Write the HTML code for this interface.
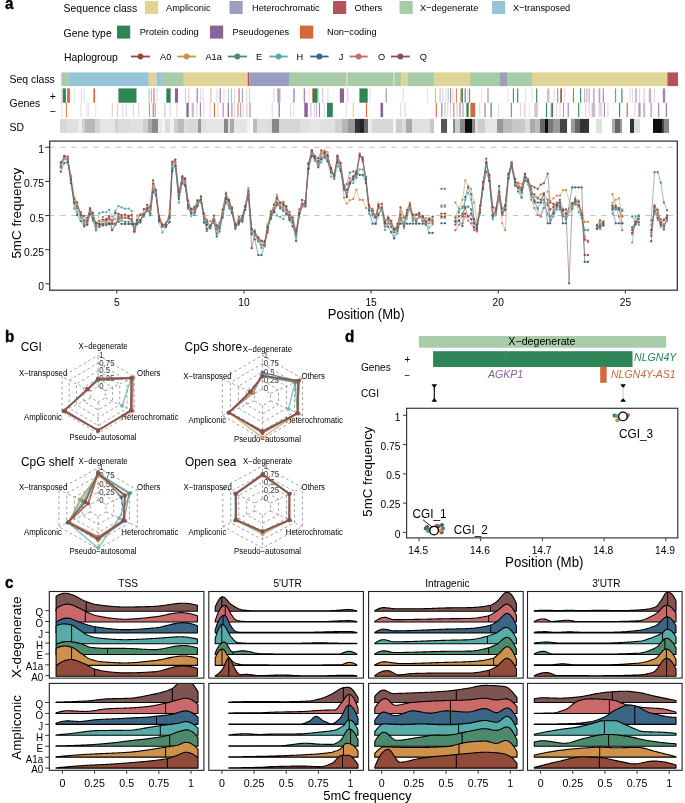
<!DOCTYPE html>
<html><head><meta charset="utf-8"><style>
html,body{margin:0;padding:0;background:#fff;}
body{width:685px;height:803px;overflow:hidden;}
svg{display:block;font-family:"Liberation Sans", sans-serif;}
</style></head><body>
<svg width="685" height="803" viewBox="0 0 685 803">
<defs><filter id="soft" x="0" y="0" width="1" height="1"><feGaussianBlur stdDeviation="0.3"/></filter></defs>
<g filter="url(#soft)"><rect x="0" y="0" width="685" height="803" fill="#fff"/>
<text transform="translate(5,9) scale(0.9658119658119658,1)" font-size="15.68" font-weight="bold" stroke="#000" stroke-width="0.4">a</text>
<text transform="translate(63.6,12.3) scale(0.9401709401709403,1)" font-size="11.11">Sequence class</text>
<rect x="145" y="1" width="13.2" height="13" fill="#e0d597"/>
<text transform="translate(166,10.9) scale(0.9401709401709403,1)" font-size="9.83">Ampliconic</text>
<rect x="229.5" y="1" width="13.2" height="13" fill="#9c9ec1"/>
<text transform="translate(252,10.9) scale(0.9401709401709403,1)" font-size="9.83">Heterochromatic</text>
<rect x="333" y="1" width="13.2" height="13" fill="#b3535c"/>
<text transform="translate(354.5,10.9) scale(0.9401709401709403,1)" font-size="9.83">Others</text>
<rect x="399.5" y="1" width="13.2" height="13" fill="#a8cba8"/>
<text transform="translate(420,10.9) scale(0.9401709401709403,1)" font-size="9.83">X−degenerate</text>
<rect x="492" y="1" width="13.2" height="13" fill="#97c5d8"/>
<text transform="translate(513,10.9) scale(0.9401709401709403,1)" font-size="9.83">X−transposed</text>
<text transform="translate(63.6,37) scale(0.9401709401709403,1)" font-size="11.11">Gene type</text>
<rect x="117" y="25.6" width="13.2" height="13" fill="#2e8656"/>
<text transform="translate(139.7,35.2) scale(0.9401709401709403,1)" font-size="9.83">Protein coding</text>
<rect x="210" y="25.6" width="13.2" height="13" fill="#8c6297"/>
<text transform="translate(232.6,35.2) scale(0.9401709401709403,1)" font-size="9.83">Pseudogenes</text>
<rect x="300" y="25.6" width="13.2" height="13" fill="#d2683a"/>
<text transform="translate(327,35.2) scale(0.9401709401709403,1)" font-size="9.83">Non−coding</text>
<text transform="translate(64,61) scale(0.9401709401709403,1)" font-size="11.11">Haplogroup</text>
<line x1="131" y1="56.5" x2="150" y2="56.5" stroke="#924b3b" stroke-width="1.8"/>
<circle cx="140.5" cy="56.5" r="2.9" fill="#924b3b"/>
<text transform="translate(160,59.6) scale(0.9401709401709403,1)" font-size="9.83">A0</text>
<line x1="177.4" y1="56.5" x2="195.8" y2="56.5" stroke="#ce914e" stroke-width="1.8"/>
<circle cx="186.6" cy="56.5" r="2.9" fill="#ce914e"/>
<text transform="translate(205.4,59.6) scale(0.9401709401709403,1)" font-size="9.83">A1a</text>
<line x1="227.8" y1="56.5" x2="247" y2="56.5" stroke="#4d8a6d" stroke-width="1.8"/>
<circle cx="237.4" cy="56.5" r="2.9" fill="#4d8a6d"/>
<text transform="translate(256,59.6) scale(0.9401709401709403,1)" font-size="9.83">E</text>
<line x1="269.4" y1="56.5" x2="287.8" y2="56.5" stroke="#58aca8" stroke-width="1.8"/>
<circle cx="278.6" cy="56.5" r="2.9" fill="#58aca8"/>
<text transform="translate(296.5,59.6) scale(0.9401709401709403,1)" font-size="9.83">H</text>
<line x1="310.2" y1="56.5" x2="328.6" y2="56.5" stroke="#3a6584" stroke-width="1.8"/>
<circle cx="319.4" cy="56.5" r="2.9" fill="#3a6584"/>
<text transform="translate(338.8,59.6) scale(0.9401709401709403,1)" font-size="9.83">J</text>
<line x1="349.6" y1="56.5" x2="367.7" y2="56.5" stroke="#c9696b" stroke-width="1.8"/>
<circle cx="358.65" cy="56.5" r="2.9" fill="#c9696b"/>
<text transform="translate(378,59.6) scale(0.9401709401709403,1)" font-size="9.83">O</text>
<line x1="391" y1="56.5" x2="409.8" y2="56.5" stroke="#7b5453" stroke-width="1.8"/>
<circle cx="400.4" cy="56.5" r="2.9" fill="#7b5453"/>
<text transform="translate(419.7,59.6) scale(0.9401709401709403,1)" font-size="9.83">Q</text>
<text transform="translate(9.6,82.8) scale(0.9401709401709403,1)" font-size="11.11">Seq class</text>
<text transform="translate(9.6,107.2) scale(0.9401709401709403,1)" font-size="11.11">Genes</text>
<text transform="translate(49.8,100.2) scale(0.9401709401709403,1)" font-size="11.11">+</text>
<text transform="translate(49.7,114.5) scale(0.9401709401709403,1)" font-size="11.11">−</text>
<text transform="translate(9.6,130.7) scale(0.9401709401709403,1)" font-size="11.11">SD</text>
<rect x="61.3" y="72.4" width="7.05" height="13.7" fill="#a8cba8"/>
<rect x="68.3" y="72.4" width="80.55" height="13.7" fill="#97c5d8"/>
<rect x="148.8" y="72.4" width="7.85" height="13.7" fill="#e0d597"/>
<rect x="156.6" y="72.4" width="5.35" height="13.7" fill="#97c5d8"/>
<rect x="161.9" y="72.4" width="21.95" height="13.7" fill="#a8cba8"/>
<rect x="183.8" y="72.4" width="63.95" height="13.7" fill="#e0d597"/>
<rect x="247.7" y="72.4" width="1.85" height="13.7" fill="#b3535c"/>
<rect x="249.5" y="72.4" width="39.55" height="13.7" fill="#9c9ec1"/>
<rect x="289" y="72.4" width="57.25" height="13.7" fill="#a8cba8"/>
<rect x="346.2" y="72.4" width="1.35" height="13.7" fill="#e0d597"/>
<rect x="347.5" y="72.4" width="46.05" height="13.7" fill="#a8cba8"/>
<rect x="393.5" y="72.4" width="1.05" height="13.7" fill="#e0d597"/>
<rect x="394.5" y="72.4" width="6.75" height="13.7" fill="#a8cba8"/>
<rect x="401.2" y="72.4" width="6.55" height="13.7" fill="#e0d597"/>
<rect x="407.7" y="72.4" width="26.45" height="13.7" fill="#a8cba8"/>
<rect x="434.1" y="72.4" width="36.05" height="13.7" fill="#e0d597"/>
<rect x="470.1" y="72.4" width="29.95" height="13.7" fill="#a8cba8"/>
<rect x="500" y="72.4" width="7.05" height="13.7" fill="#9c9ec1"/>
<rect x="507" y="72.4" width="25.05" height="13.7" fill="#a8cba8"/>
<rect x="532" y="72.4" width="135.45" height="13.7" fill="#e0d597"/>
<rect x="667.4" y="72.4" width="10.65" height="13.7" fill="#b3535c"/>
<rect x="60.95" y="88.4" width="1.1" height="14.3" fill="#d2683a" fill-opacity="0.26"/>
<rect x="62.7" y="88.4" width="3.2" height="14.3" fill="#2e8656"/>
<rect x="67.1" y="88.4" width="2.8" height="14.3" fill="#d2683a"/>
<rect x="74.05" y="88.4" width="1.1" height="14.3" fill="#8c6297" fill-opacity="0.2"/>
<rect x="81.15" y="88.4" width="1.1" height="14.3" fill="#2e8656" fill-opacity="0.26"/>
<rect x="83.75" y="88.4" width="1.1" height="14.3" fill="#8c6297" fill-opacity="0.2"/>
<rect x="93.4" y="88.4" width="1.6" height="14.3" fill="#d2683a"/>
<rect x="118.4" y="88.4" width="18.1" height="14.3" fill="#2e8656"/>
<rect x="148.55" y="88.4" width="1.1" height="14.3" fill="#2e8656" fill-opacity="0.39"/>
<rect x="150.9" y="88.4" width="0.8" height="14.3" fill="#8c6297" fill-opacity="0.65"/>
<rect x="153.1" y="88.4" width="1.6" height="14.3" fill="#d2683a" fill-opacity="0.65"/>
<rect x="156.45" y="88.4" width="1.1" height="14.3" fill="#8c6297" fill-opacity="0.2"/>
<rect x="166.3" y="88.4" width="4.3" height="14.3" fill="#2e8656"/>
<rect x="175" y="88.4" width="3" height="14.3" fill="#8c6297"/>
<rect x="184.95" y="88.4" width="1.1" height="14.3" fill="#8c6297" fill-opacity="0.33"/>
<rect x="188.15" y="88.4" width="1.1" height="14.3" fill="#d2683a" fill-opacity="0.39"/>
<rect x="196.65" y="88.4" width="1.1" height="14.3" fill="#8c6297" fill-opacity="0.91"/>
<rect x="199.85" y="88.4" width="1.1" height="14.3" fill="#8c6297" fill-opacity="0.26"/>
<rect x="202.45" y="88.4" width="1.1" height="14.3" fill="#8c6297" fill-opacity="0.26"/>
<rect x="210" y="88.4" width="1.8" height="14.3" fill="#d2683a" fill-opacity="0.33"/>
<rect x="216.45" y="88.4" width="1.1" height="14.3" fill="#8c6297" fill-opacity="0.26"/>
<rect x="219.65" y="88.4" width="1.1" height="14.3" fill="#8c6297" fill-opacity="0.91"/>
<rect x="223.45" y="88.4" width="1.1" height="14.3" fill="#d2683a" fill-opacity="0.26"/>
<rect x="227.85" y="88.4" width="1.1" height="14.3" fill="#2e8656" fill-opacity="0.39"/>
<rect x="230.85" y="88.4" width="1.1" height="14.3" fill="#2e8656" fill-opacity="0.45"/>
<rect x="234.05" y="88.4" width="1.1" height="14.3" fill="#8c6297" fill-opacity="0.26"/>
<rect x="238.4" y="88.4" width="1.4" height="14.3" fill="#d2683a" fill-opacity="0.78"/>
<rect x="241.85" y="88.4" width="1.1" height="14.3" fill="#8c6297" fill-opacity="0.65"/>
<rect x="245.95" y="88.4" width="1.1" height="14.3" fill="#8c6297" fill-opacity="0.26"/>
<rect x="248.95" y="88.4" width="1.1" height="14.3" fill="#d2683a" fill-opacity="0.39"/>
<rect x="273.45" y="88.4" width="1.1" height="14.3" fill="#8c6297" fill-opacity="0.26"/>
<rect x="277.5" y="88.4" width="1.2" height="14.3" fill="#8c6297" fill-opacity="0.91"/>
<rect x="279.25" y="88.4" width="1.1" height="14.3" fill="#8c6297" fill-opacity="0.78"/>
<rect x="293.45" y="88.4" width="1.1" height="14.3" fill="#8c6297"/>
<rect x="302.85" y="88.4" width="1.1" height="14.3" fill="#d2683a" fill-opacity="0.26"/>
<rect x="304.05" y="88.4" width="1.1" height="14.3" fill="#8c6297" fill-opacity="0.78"/>
<rect x="308.65" y="88.4" width="1.1" height="14.3" fill="#8c6297" fill-opacity="0.2"/>
<rect x="312.1" y="88.4" width="0.8" height="14.3" fill="#d2683a"/>
<rect x="313" y="88.4" width="4.4" height="14.3" fill="#2e8656"/>
<rect x="317.45" y="88.4" width="1.1" height="14.3" fill="#2e8656" fill-opacity="0.52"/>
<rect x="322.15" y="88.4" width="1.1" height="14.3" fill="#8c6297" fill-opacity="0.39"/>
<rect x="327.35" y="88.4" width="1.1" height="14.3" fill="#8c6297" fill-opacity="0.2"/>
<rect x="339.8" y="88.4" width="4.2" height="14.3" fill="#8c6297"/>
<rect x="347.15" y="88.4" width="1.1" height="14.3" fill="#8c6297" fill-opacity="0.33"/>
<rect x="359.4" y="88.4" width="8.3" height="14.3" fill="#2e8656"/>
<rect x="369.45" y="88.4" width="1.1" height="14.3" fill="#8c6297" fill-opacity="0.2"/>
<rect x="385.7" y="88.4" width="0.9" height="14.3" fill="#8c6297" fill-opacity="0.91"/>
<rect x="402.65" y="88.4" width="1.1" height="14.3" fill="#d2683a" fill-opacity="0.26"/>
<rect x="426.95" y="88.4" width="1.1" height="14.3" fill="#8c6297" fill-opacity="0.2"/>
<rect x="434.85" y="88.4" width="1.1" height="14.3" fill="#d2683a" fill-opacity="0.52"/>
<rect x="439.55" y="88.4" width="1.1" height="14.3" fill="#8c6297" fill-opacity="0.45"/>
<rect x="442.4" y="88.4" width="0.9" height="14.3" fill="#8c6297" fill-opacity="0.39"/>
<rect x="445.35" y="88.4" width="1.1" height="14.3" fill="#8c6297" fill-opacity="0.26"/>
<rect x="447.65" y="88.4" width="1.1" height="14.3" fill="#2e8656" fill-opacity="0.39"/>
<rect x="450.05" y="88.4" width="1.1" height="14.3" fill="#8c6297" fill-opacity="0.78"/>
<rect x="452.35" y="88.4" width="1.1" height="14.3" fill="#8c6297" fill-opacity="0.26"/>
<rect x="455.9" y="88.4" width="1.1" height="14.3" fill="#d2683a" fill-opacity="0.78"/>
<rect x="460.5" y="88.4" width="0.8" height="14.3" fill="#d2683a"/>
<rect x="461.3" y="88.4" width="1.6" height="14.3" fill="#2e8656"/>
<rect x="464.65" y="88.4" width="1.1" height="14.3" fill="#8c6297"/>
<rect x="467.25" y="88.4" width="1.1" height="14.3" fill="#8c6297" fill-opacity="0.26"/>
<rect x="469.05" y="88.4" width="1.1" height="14.3" fill="#8c6297" fill-opacity="0.91"/>
<rect x="480.95" y="88.4" width="1.1" height="14.3" fill="#8c6297" fill-opacity="0.2"/>
<rect x="487.45" y="88.4" width="1.1" height="14.3" fill="#8c6297" fill-opacity="0.78"/>
<rect x="507.55" y="88.4" width="1.1" height="14.3" fill="#8c6297" fill-opacity="0.2"/>
<rect x="512.85" y="88.4" width="1.1" height="14.3" fill="#2e8656" fill-opacity="0.91"/>
<rect x="517.15" y="88.4" width="1.1" height="14.3" fill="#2e8656"/>
<rect x="525.05" y="88.4" width="1.1" height="14.3" fill="#8c6297" fill-opacity="0.2"/>
<rect x="531.45" y="88.4" width="1.1" height="14.3" fill="#8c6297" fill-opacity="0.2"/>
<rect x="536.15" y="88.4" width="1.1" height="14.3" fill="#2e8656"/>
<rect x="547.2" y="88.4" width="2.3" height="14.3" fill="#8c6297" fill-opacity="0.45"/>
<rect x="553.65" y="88.4" width="1.1" height="14.3" fill="#8c6297" fill-opacity="0.26"/>
<rect x="557.15" y="88.4" width="1.1" height="14.3" fill="#8c6297" fill-opacity="0.78"/>
<rect x="560" y="88.4" width="0.8" height="14.3" fill="#d2683a"/>
<rect x="560.8" y="88.4" width="1.1" height="14.3" fill="#2e8656"/>
<rect x="564.15" y="88.4" width="1.1" height="14.3" fill="#8c6297" fill-opacity="0.26"/>
<rect x="572.9" y="88.4" width="1.1" height="14.3" fill="#d2683a"/>
<rect x="580.05" y="88.4" width="1.1" height="14.3" fill="#2e8656"/>
<rect x="584.05" y="88.4" width="1.1" height="14.3" fill="#8c6297" fill-opacity="0.52"/>
<rect x="586.35" y="88.4" width="1.1" height="14.3" fill="#8c6297" fill-opacity="0.52"/>
<rect x="588.65" y="88.4" width="1.1" height="14.3" fill="#8c6297" fill-opacity="0.52"/>
<rect x="593.35" y="88.4" width="1.1" height="14.3" fill="#8c6297" fill-opacity="0.78"/>
<rect x="598.05" y="88.4" width="1.1" height="14.3" fill="#8c6297" fill-opacity="0.26"/>
<rect x="599.15" y="88.4" width="1.1" height="14.3" fill="#8c6297" fill-opacity="0.65"/>
<rect x="602.75" y="88.4" width="1.1" height="14.3" fill="#8c6297" fill-opacity="0.78"/>
<rect x="614.9" y="88.4" width="0.6" height="14.3" fill="#d2683a"/>
<rect x="615.5" y="88.4" width="0.6" height="14.3" fill="#2e8656"/>
<rect x="621.35" y="88.4" width="1.1" height="14.3" fill="#2e8656"/>
<rect x="629.55" y="88.4" width="1.1" height="14.3" fill="#8c6297" fill-opacity="0.26"/>
<rect x="631.95" y="88.4" width="1.1" height="14.3" fill="#8c6297" fill-opacity="0.26"/>
<rect x="635.45" y="88.4" width="1.1" height="14.3" fill="#8c6297" fill-opacity="0.78"/>
<rect x="638.95" y="88.4" width="1.1" height="14.3" fill="#8c6297" fill-opacity="0.26"/>
<rect x="643.55" y="88.4" width="1.1" height="14.3" fill="#d2683a" fill-opacity="0.39"/>
<rect x="648.8" y="88.4" width="2.3" height="14.3" fill="#8c6297" fill-opacity="0.52"/>
<rect x="654.05" y="88.4" width="1.1" height="14.3" fill="#8c6297" fill-opacity="0.26"/>
<rect x="662.8" y="88.4" width="2.4" height="14.3" fill="#8c6297" fill-opacity="0.78"/>
<rect x="61.35" y="102.8" width="1.1" height="14.3" fill="#8c6297" fill-opacity="0.2"/>
<rect x="65.9" y="102.8" width="0.9" height="14.3" fill="#d2683a"/>
<rect x="80.25" y="102.8" width="1.1" height="14.3" fill="#8c6297" fill-opacity="0.2"/>
<rect x="86.35" y="102.8" width="1.1" height="14.3" fill="#8c6297" fill-opacity="0.2"/>
<rect x="88.15" y="102.8" width="1.1" height="14.3" fill="#8c6297" fill-opacity="0.2"/>
<rect x="95.15" y="102.8" width="1.1" height="14.3" fill="#d2683a" fill-opacity="0.2"/>
<rect x="111.75" y="102.8" width="1.1" height="14.3" fill="#8c6297" fill-opacity="0.33"/>
<rect x="117.05" y="102.8" width="1.1" height="14.3" fill="#d2683a" fill-opacity="0.39"/>
<rect x="122.25" y="102.8" width="1.1" height="14.3" fill="#8c6297" fill-opacity="0.26"/>
<rect x="125.75" y="102.8" width="1.1" height="14.3" fill="#8c6297" fill-opacity="0.26"/>
<rect x="132.75" y="102.8" width="1.1" height="14.3" fill="#8c6297" fill-opacity="0.26"/>
<rect x="138.05" y="102.8" width="1.1" height="14.3" fill="#8c6297" fill-opacity="0.26"/>
<rect x="149.1" y="102.8" width="0.9" height="14.3" fill="#8c6297" fill-opacity="0.78"/>
<rect x="152.6" y="102.8" width="1.4" height="14.3" fill="#d2683a" fill-opacity="0.78"/>
<rect x="154.65" y="102.8" width="1.1" height="14.3" fill="#8c6297" fill-opacity="0.65"/>
<rect x="164.35" y="102.8" width="1.1" height="14.3" fill="#2e8656" fill-opacity="0.39"/>
<rect x="169.55" y="102.8" width="1.1" height="14.3" fill="#8c6297" fill-opacity="0.26"/>
<rect x="176.25" y="102.8" width="1.1" height="14.3" fill="#d2683a" fill-opacity="0.26"/>
<rect x="186.4" y="102.8" width="2.3" height="14.3" fill="#8c6297"/>
<rect x="191.6" y="102.8" width="2.3" height="14.3" fill="#8c6297" fill-opacity="0.45"/>
<rect x="196.35" y="102.8" width="1.1" height="14.3" fill="#8c6297" fill-opacity="0.26"/>
<rect x="199.85" y="102.8" width="1.1" height="14.3" fill="#8c6297" fill-opacity="0.78"/>
<rect x="203.35" y="102.8" width="1.1" height="14.3" fill="#8c6297" fill-opacity="0.26"/>
<rect x="209.45" y="102.8" width="1.1" height="14.3" fill="#8c6297" fill-opacity="0.26"/>
<rect x="213.85" y="102.8" width="1.1" height="14.3" fill="#d2683a"/>
<rect x="217.35" y="102.8" width="1.1" height="14.3" fill="#8c6297" fill-opacity="0.26"/>
<rect x="222.65" y="102.8" width="1.1" height="14.3" fill="#8c6297" fill-opacity="0.78"/>
<rect x="227.6" y="102.8" width="1.4" height="14.3" fill="#8c6297" fill-opacity="0.91"/>
<rect x="231.35" y="102.8" width="1.1" height="14.3" fill="#8c6297" fill-opacity="0.78"/>
<rect x="234.05" y="102.8" width="1.1" height="14.3" fill="#8c6297" fill-opacity="0.26"/>
<rect x="237.45" y="102.8" width="1.1" height="14.3" fill="#d2683a" fill-opacity="0.78"/>
<rect x="240.15" y="102.8" width="1.1" height="14.3" fill="#8c6297" fill-opacity="0.65"/>
<rect x="242.75" y="102.8" width="1.1" height="14.3" fill="#8c6297" fill-opacity="0.26"/>
<rect x="246.25" y="102.8" width="1.1" height="14.3" fill="#d2683a" fill-opacity="0.39"/>
<rect x="249.45" y="102.8" width="1.1" height="14.3" fill="#8c6297" fill-opacity="0.78"/>
<rect x="271.65" y="102.8" width="1.1" height="14.3" fill="#8c6297" fill-opacity="0.26"/>
<rect x="278.65" y="102.8" width="1.1" height="14.3" fill="#8c6297"/>
<rect x="290.05" y="102.8" width="1.1" height="14.3" fill="#8c6297" fill-opacity="0.26"/>
<rect x="293.25" y="102.8" width="1.1" height="14.3" fill="#8c6297" fill-opacity="0.2"/>
<rect x="304.3" y="102.8" width="3.5" height="14.3" fill="#8c6297"/>
<rect x="310.35" y="102.8" width="1.1" height="14.3" fill="#8c6297" fill-opacity="0.45"/>
<rect x="313.85" y="102.8" width="1.1" height="14.3" fill="#8c6297" fill-opacity="0.26"/>
<rect x="315.95" y="102.8" width="1.1" height="14.3" fill="#8c6297" fill-opacity="0.45"/>
<rect x="318.95" y="102.8" width="1.1" height="14.3" fill="#8c6297" fill-opacity="0.78"/>
<rect x="323.85" y="102.8" width="1.1" height="14.3" fill="#8c6297" fill-opacity="0.26"/>
<rect x="327" y="102.8" width="5.8" height="14.3" fill="#2e8656"/>
<rect x="345.75" y="102.8" width="1.1" height="14.3" fill="#8c6297" fill-opacity="0.2"/>
<rect x="352.75" y="102.8" width="1.1" height="14.3" fill="#d2683a" fill-opacity="0.39"/>
<rect x="365.95" y="102.8" width="1.1" height="14.3" fill="#d2683a"/>
<rect x="380.5" y="102.8" width="2.6" height="14.3" fill="#8c6297"/>
<rect x="400.05" y="102.8" width="1.1" height="14.3" fill="#d2683a" fill-opacity="0.26"/>
<rect x="404.45" y="102.8" width="1.1" height="14.3" fill="#8c6297" fill-opacity="0.26"/>
<rect x="435.75" y="102.8" width="1.1" height="14.3" fill="#d2683a"/>
<rect x="441.2" y="102.8" width="1.2" height="14.3" fill="#8c6297" fill-opacity="0.78"/>
<rect x="444.45" y="102.8" width="1.1" height="14.3" fill="#2e8656" fill-opacity="0.39"/>
<rect x="447.15" y="102.8" width="1.1" height="14.3" fill="#8c6297" fill-opacity="0.26"/>
<rect x="450.05" y="102.8" width="1.1" height="14.3" fill="#8c6297" fill-opacity="0.26"/>
<rect x="453.25" y="102.8" width="1.1" height="14.3" fill="#8c6297" fill-opacity="0.78"/>
<rect x="456.45" y="102.8" width="1.1" height="14.3" fill="#d2683a" fill-opacity="0.39"/>
<rect x="459.45" y="102.8" width="1.1" height="14.3" fill="#8c6297" fill-opacity="0.78"/>
<rect x="462.6" y="102.8" width="0.8" height="14.3" fill="#8c6297" fill-opacity="0.91"/>
<rect x="466.4" y="102.8" width="2.3" height="14.3" fill="#2e8656"/>
<rect x="470.4" y="102.8" width="4.8" height="14.3" fill="#d2683a"/>
<rect x="479.15" y="102.8" width="1.1" height="14.3" fill="#8c6297" fill-opacity="0.26"/>
<rect x="484.45" y="102.8" width="1.1" height="14.3" fill="#8c6297" fill-opacity="0.91"/>
<rect x="490.55" y="102.8" width="1.1" height="14.3" fill="#2e8656"/>
<rect x="497.95" y="102.8" width="1.1" height="14.3" fill="#8c6297" fill-opacity="0.26"/>
<rect x="510.75" y="102.8" width="1.1" height="14.3" fill="#d2683a"/>
<rect x="519.85" y="102.8" width="1.1" height="14.3" fill="#8c6297" fill-opacity="0.26"/>
<rect x="524.25" y="102.8" width="1.1" height="14.3" fill="#d2683a" fill-opacity="0.39"/>
<rect x="529.15" y="102.8" width="1.1" height="14.3" fill="#8c6297" fill-opacity="0.2"/>
<rect x="534.3" y="102.8" width="3.5" height="14.3" fill="#8c6297" fill-opacity="0.39"/>
<rect x="545.95" y="102.8" width="1.1" height="14.3" fill="#2e8656"/>
<rect x="550.7" y="102.8" width="1.1" height="14.3" fill="#d2683a"/>
<rect x="551.8" y="102.8" width="1.2" height="14.3" fill="#2e8656"/>
<rect x="555.95" y="102.8" width="1.1" height="14.3" fill="#8c6297" fill-opacity="0.26"/>
<rect x="559.45" y="102.8" width="1.1" height="14.3" fill="#8c6297" fill-opacity="0.26"/>
<rect x="562.95" y="102.8" width="1.1" height="14.3" fill="#8c6297" fill-opacity="0.65"/>
<rect x="567.65" y="102.8" width="1.1" height="14.3" fill="#8c6297" fill-opacity="0.78"/>
<rect x="578.15" y="102.8" width="1.1" height="14.3" fill="#2e8656"/>
<rect x="585.15" y="102.8" width="1.1" height="14.3" fill="#8c6297" fill-opacity="0.26"/>
<rect x="588.65" y="102.8" width="1.1" height="14.3" fill="#8c6297" fill-opacity="0.26"/>
<rect x="591.6" y="102.8" width="3.5" height="14.3" fill="#8c6297" fill-opacity="0.45"/>
<rect x="598.6" y="102.8" width="3.5" height="14.3" fill="#8c6297" fill-opacity="0.26"/>
<rect x="603.85" y="102.8" width="1.1" height="14.3" fill="#8c6297" fill-opacity="0.78"/>
<rect x="607.35" y="102.8" width="1.1" height="14.3" fill="#8c6297" fill-opacity="0.26"/>
<rect x="619.05" y="102.8" width="1.1" height="14.3" fill="#2e8656"/>
<rect x="626.6" y="102.8" width="0.6" height="14.3" fill="#d2683a"/>
<rect x="627.2" y="102.8" width="0.6" height="14.3" fill="#2e8656"/>
<rect x="634.25" y="102.8" width="1.1" height="14.3" fill="#8c6297" fill-opacity="0.26"/>
<rect x="638.3" y="102.8" width="2.3" height="14.3" fill="#8c6297" fill-opacity="0.65"/>
<rect x="643" y="102.8" width="2.3" height="14.3" fill="#8c6297" fill-opacity="0.45"/>
<rect x="650.55" y="102.8" width="1.1" height="14.3" fill="#8c6297" fill-opacity="0.78"/>
<rect x="658.1" y="102.8" width="1.2" height="14.3" fill="#8c6297" fill-opacity="0.78"/>
<rect x="665.75" y="102.8" width="1.1" height="14.3" fill="#8c6297" fill-opacity="0.91"/>
<rect x="60" y="118.9" width="7.05" height="14" fill="#d8d8d8"/>
<rect x="67" y="118.9" width="11.05" height="14" fill="#e0e0e0"/>
<rect x="78" y="118.9" width="4.05" height="14" fill="#ececec"/>
<rect x="82" y="118.9" width="3.05" height="14" fill="#d0d0d0"/>
<rect x="85" y="118.9" width="10.05" height="14" fill="#b8b8b8"/>
<rect x="95" y="118.9" width="5.05" height="14" fill="#d5d5d5"/>
<rect x="100" y="118.9" width="15.05" height="14" fill="#e5e5e5"/>
<rect x="115" y="118.9" width="3.05" height="14" fill="#d0d0d0"/>
<rect x="118" y="118.9" width="12.05" height="14" fill="#dcdcdc"/>
<rect x="130" y="118.9" width="13.05" height="14" fill="#e0e0e0"/>
<rect x="143" y="118.9" width="5.05" height="14" fill="#cfcfcf"/>
<rect x="148" y="118.9" width="4.05" height="14" fill="#aaaaaa"/>
<rect x="152" y="118.9" width="6.05" height="14" fill="#888888"/>
<rect x="158" y="118.9" width="4.05" height="14" fill="#e8e8e8"/>
<rect x="162" y="118.9" width="3.05" height="14" fill="#f4f4f4"/>
<rect x="165" y="118.9" width="5.05" height="14" fill="#dddddd"/>
<rect x="170" y="118.9" width="4.05" height="14" fill="#f0f0f0"/>
<rect x="174" y="118.9" width="4.05" height="14" fill="#cccccc"/>
<rect x="178" y="118.9" width="6.05" height="14" fill="#bbbbbb"/>
<rect x="184" y="118.9" width="4.05" height="14" fill="#dddddd"/>
<rect x="188" y="118.9" width="10.05" height="14" fill="#d8d8d8"/>
<rect x="198" y="118.9" width="3.05" height="14" fill="#999999"/>
<rect x="201" y="118.9" width="5.05" height="14" fill="#e0e0e0"/>
<rect x="206" y="118.9" width="18.05" height="14" fill="#e6e6e6"/>
<rect x="224" y="118.9" width="4.05" height="14" fill="#888888"/>
<rect x="228" y="118.9" width="2.05" height="14" fill="#dddddd"/>
<rect x="230" y="118.9" width="4.05" height="14" fill="#aaaaaa"/>
<rect x="234" y="118.9" width="13.05" height="14" fill="#e5e5e5"/>
<rect x="247" y="118.9" width="3.05" height="14" fill="#f2f2f2"/>
<rect x="253" y="118.9" width="4.05" height="14" fill="#bbbbbb"/>
<rect x="257" y="118.9" width="9.05" height="14" fill="#e0e0e0"/>
<rect x="266" y="118.9" width="6.05" height="14" fill="#dddddd"/>
<rect x="272" y="118.9" width="7.05" height="14" fill="#888888"/>
<rect x="279" y="118.9" width="21.05" height="14" fill="#d5d5d5"/>
<rect x="300" y="118.9" width="10.05" height="14" fill="#e0e0e0"/>
<rect x="310" y="118.9" width="10.05" height="14" fill="#e5e5e5"/>
<rect x="320" y="118.9" width="15.05" height="14" fill="#e0e0e0"/>
<rect x="335" y="118.9" width="7.05" height="14" fill="#d0d0d0"/>
<rect x="342" y="118.9" width="6.05" height="14" fill="#b5b5b5"/>
<rect x="348" y="118.9" width="7.05" height="14" fill="#999999"/>
<rect x="355" y="118.9" width="5.05" height="14" fill="#333333"/>
<rect x="360" y="118.9" width="4.05" height="14" fill="#222222"/>
<rect x="364" y="118.9" width="4.05" height="14" fill="#666666"/>
<rect x="368" y="118.9" width="4.05" height="14" fill="#e8e8e8"/>
<rect x="372" y="118.9" width="21.05" height="14" fill="#d8d8d8"/>
<rect x="393" y="118.9" width="3.05" height="14" fill="#f5f5f5"/>
<rect x="396" y="118.9" width="6.05" height="14" fill="#cccccc"/>
<rect x="402" y="118.9" width="4.05" height="14" fill="#dddddd"/>
<rect x="406" y="118.9" width="6.05" height="14" fill="#aaaaaa"/>
<rect x="412" y="118.9" width="18.05" height="14" fill="#e0e0e0"/>
<rect x="430" y="118.9" width="4.05" height="14" fill="#c8c8c8"/>
<rect x="441" y="118.9" width="6.05" height="14" fill="#555555"/>
<rect x="453" y="118.9" width="2.05" height="14" fill="#888888"/>
<rect x="455" y="118.9" width="5.05" height="14" fill="#cccccc"/>
<rect x="460" y="118.9" width="5.05" height="14" fill="#888888"/>
<rect x="465" y="118.9" width="7.05" height="14" fill="#111111"/>
<rect x="472" y="118.9" width="3.05" height="14" fill="#888888"/>
<rect x="475" y="118.9" width="3.05" height="14" fill="#dddddd"/>
<rect x="478" y="118.9" width="7.05" height="14" fill="#cccccc"/>
<rect x="485" y="118.9" width="12.05" height="14" fill="#e5e5e5"/>
<rect x="497" y="118.9" width="6.05" height="14" fill="#999999"/>
<rect x="503" y="118.9" width="9.05" height="14" fill="#bbbbbb"/>
<rect x="512" y="118.9" width="13.05" height="14" fill="#c8c8c8"/>
<rect x="525" y="118.9" width="5.05" height="14" fill="#dddddd"/>
<rect x="530" y="118.9" width="5.05" height="14" fill="#aaaaaa"/>
<rect x="535" y="118.9" width="5.05" height="14" fill="#bbbbbb"/>
<rect x="540" y="118.9" width="5.05" height="14" fill="#666666"/>
<rect x="545" y="118.9" width="3.05" height="14" fill="#111111"/>
<rect x="548" y="118.9" width="5.05" height="14" fill="#777777"/>
<rect x="553" y="118.9" width="7.05" height="14" fill="#999999"/>
<rect x="560" y="118.9" width="7.05" height="14" fill="#444444"/>
<rect x="571" y="118.9" width="4.05" height="14" fill="#999999"/>
<rect x="575" y="118.9" width="5.05" height="14" fill="#666666"/>
<rect x="580" y="118.9" width="9.05" height="14" fill="#333333"/>
<rect x="596" y="118.9" width="6.05" height="14" fill="#e0e0e0"/>
<rect x="612" y="118.9" width="3.05" height="14" fill="#aaaaaa"/>
<rect x="615" y="118.9" width="5.05" height="14" fill="#666666"/>
<rect x="620" y="118.9" width="2.05" height="14" fill="#999999"/>
<rect x="630" y="118.9" width="4.05" height="14" fill="#333333"/>
<rect x="634" y="118.9" width="6.05" height="14" fill="#dddddd"/>
<rect x="653" y="118.9" width="9.05" height="14" fill="#111111"/>
<rect x="662" y="118.9" width="2.05" height="14" fill="#444444"/>
<rect x="664" y="118.9" width="5.05" height="14" fill="#888888"/>
<line x1="49.16" y1="147.3" x2="676.6" y2="147.3" stroke="#c4c4c4" stroke-width="1.1" stroke-dasharray="5.5 5.54"/>
<line x1="49.16" y1="215.55" x2="676.6" y2="215.55" stroke="#c4c4c4" stroke-width="1.1" stroke-dasharray="5.5 5.54"/>
<path d="M60.8,166.35 L64.3,155.86 L67.8,159.25 L70.9,180.43 L74.2,202.85 L77.2,208.21 L80.7,212.14 L84.2,221.89 L87.2,218.11 L90,209.47 L92.8,213.82 L95.9,226.04 L99.4,226.79 L102.9,219.78 L106.4,220.59 L109.2,218.27 L112.2,230.3 L115.3,224.63 L118.5,217.94 L121.6,218.19 L125,217.62 L128.6,218.44 L131.6,219.32 L134.4,231.43 L137.2,219.82 L140.3,214.92 L143.8,213.95 L147.3,204.92 L150.3,208.75 L153.1,183.92 L155.9,192.88 L159,218.82 L162.5,226.04 L166,224.38 L169.5,215.61 L172.3,163.93 L175.3,162.11 L178.8,196.01 L182.3,178.57 L185.1,179.17 L188.1,205.05 L191.2,209.48 L194.5,209.05 L197.5,205.4 L201,198.35 L204,215.27 L206.8,228.85 L210.3,225.99 L213.8,219.69 L216.7,229.5 L219.5,225.17 L222.5,214.89 L226,199.41 L229,201.07 L231.9,208.48 L235.4,224.12 L238.9,217.16 L242.4,218.59 L245.2,207.43 L248.4,194.47 L251.7,248.14 L254.8,234.81 L258.3,241.47 L261.5,244.62 L264.6,245.03 L267.6,229.93 L270.9,211.72 L273.9,212.47 L276.9,205.33 L280.2,202.59 L283.3,201.97 L286.3,209.8 L289.6,220.31 L292.6,226.45 L296.1,234.88 L299.1,216.47 L302.2,206.88 L305.4,200.86 L308.5,163.17 L311.8,151.31 L314.8,156.9 L318.3,161.15 L321.3,153.73 L324.6,151.33 L327.6,155.15 L331.1,169.16 L334.2,178.68 L337.4,155.71 L340.5,163.51 L344,185.49 L346.8,197.16 L349.8,182.42 L353.3,177.72 L356.4,174.7 L359.7,155.7 L362.7,157.43 L366,182.77 L369,205.17 L372.5,211.1 L375.6,217.44 L378.4,206.94 L381.9,207.42 L384.9,222.6 L388.2,217.85 L391.2,226.78 L394.2,232.14 L397.5,223.89 L400.5,214.68 L404,226.19 L406.9,210.18 L409.9,203.16 L412.9,218.13 L416.2,221.57 L419.2,216.16 L422.7,217.44 L425.8,221.24 L429.3,218.49 L432.6,222.95" fill="none" stroke="#924b3b" stroke-width="0.55"/>
<path d="M441.4,216.4 L445,216.4" fill="none" stroke="#924b3b" stroke-width="0.55"/>
<path d="M455.4,224.68 L459,220.54 L462.5,216.4 L465.3,213.64 L468.2,216.4 L471.1,219.16 L474.1,227.44 L476.9,230.2 L480,208.83 L483,187.57 L486.3,162.18 L489.3,177.41 L492.8,216.68 L495.9,210.47 L499.1,193.17 L502.2,214.43 L505.2,205.81 L508.5,174.51 L511.6,164.23 L515.2,182.38 L518.3,182.98 L521.6,190.29 L524.9,173.78 L528,181.9 L531.3,191.56 L534.4,194.32 L537.7,198.46 L540.8,199.84 L543.8,194.32 L547.7,199.84 L550.2,209.5 L553.5,206.74 L556.9,202.6 L559.9,206.74 L563,210.88 L565.9,213.64 L572.2,203.29 L575.3,202.14 L578.6,205.13 L581.7,211.97 L584.7,239.71 L588,241.89" fill="none" stroke="#924b3b" stroke-width="0.55"/>
<path d="M597,228.95 L600,223.74 L603.4,225.09" fill="none" stroke="#924b3b" stroke-width="0.55"/>
<path d="M612.5,208.12 L615.7,208.12 L618.9,209.5 L622.3,216.4" fill="none" stroke="#924b3b" stroke-width="0.55"/>
<path d="M632.2,232.96 L635.5,223.3 L638.8,216.29" fill="none" stroke="#924b3b" stroke-width="0.55"/>
<path d="M651.2,241.24 L654.5,207.26 L657.7,213.01 L660.8,221.85 L663.9,226.27 L667,217.44" fill="none" stroke="#924b3b" stroke-width="0.55"/>
<path d="M60.8,162.11 L64.3,159.35 L67.8,159.87 L70.9,177.52 L74.2,197.33 L77.2,205 L80.7,213.24 L84.2,221.86 L87.2,219.49 L90,208.01 L92.8,214.47 L95.9,225.13 L99.4,220.85 L102.9,221.09 L106.4,219.3 L109.2,217.42 L112.2,220.93 L115.3,219.09 L118.5,216.16 L121.6,217.27 L125,217.67 L128.6,215.47 L131.6,220.64 L134.4,228.33 L137.2,215.54 L140.3,221.17 L143.8,214.34 L147.3,207.69 L150.3,208.43 L153.1,185.48 L155.9,191.74 L159,214.86 L162.5,223.88 L166,224.66 L169.5,210.7 L172.3,162.99 L175.3,161.67 L178.8,193.31 L182.3,177.19 L185.1,181.5 L188.1,208.86 L191.2,210.5 L194.5,207 L197.5,203.96 L201,197.93 L204,215.41 L206.8,221.43 L210.3,221.04 L213.8,222.74 L216.7,227.72 L219.5,226.45 L222.5,212.59 L226,192.72 L229,208.62 L231.9,206.81 L235.4,229.04 L238.9,218.25 L242.4,222.25 L245.2,206.6 L248.4,187.93 L251.7,230.83 L254.8,232.24 L258.3,237.85 L261.5,240.63 L264.6,242.28 L267.6,224.39 L270.9,211.59 L273.9,207.71 L276.9,194.78 L280.2,205.15 L283.3,202.52 L286.3,211.09 L289.6,214.85 L292.6,218.2 L296.1,234.51 L299.1,212.56 L302.2,207.15 L305.4,206 L308.5,163.62 L311.8,153.25 L314.8,159.19 L318.3,164.92 L321.3,153.81 L324.6,150.34 L327.6,152.22 L331.1,171.96 L334.2,174.31 L337.4,160.7 L340.5,163.27 L344,197.77 L346.8,203.57 L349.8,200.25 L353.3,199.01 L356.4,189.77 L359.7,199.84 L362.7,199.84 L366,208.12 L369,209.67 L372.5,210.77 L375.6,215.44 L378.4,203.5 L381.9,210.65 L384.9,219.53 L388.2,216.36 L391.2,221.14 L394.2,230.9 L397.5,227.39 L400.5,211.66 L404,223.17 L406.9,211.42 L409.9,202.57 L412.9,217.02 L416.2,223.03 L419.2,216.07 L422.7,220.75 L425.8,217.93 L429.3,220.35 L432.6,221.28" fill="none" stroke="#ce914e" stroke-width="0.55"/>
<path d="M441.4,205.36 L445,205.36" fill="none" stroke="#ce914e" stroke-width="0.55"/>
<path d="M455.4,216.4 L459,208.12 L462.5,199.84 L465.3,180.52 L468.2,186.04 L471.1,188.8 L474.1,202.6 L476.9,220.54 L480,207.55 L483,184.35 L486.3,163.37 L489.3,174.79 L492.8,208.61 L495.9,212.08 L499.1,194.26 L502.2,223.3 L505.2,230.2 L508.5,175.47 L511.6,161.85 L515.2,184.25 L518.3,183.45 L521.6,183.87 L524.9,181.1 L528,181.26 L531.3,191.56 L534.4,197.08 L537.7,197.08 L540.8,194.32 L543.8,192.94 L547.7,191.56 L550.2,201.22 L553.5,198.46 L556.9,195.7 L559.9,195.7 L563,190.18 L565.9,190.18 L572.2,209.04 L575.3,204.51 L578.6,200.38 L581.7,211.63 L584.7,221.92 L588,221.92" fill="none" stroke="#ce914e" stroke-width="0.55"/>
<path d="M597,226.36 L600,223.44 L603.4,221.93" fill="none" stroke="#ce914e" stroke-width="0.55"/>
<path d="M612.5,202.6 L615.7,199.84 L618.9,198.46 L622.3,216.4" fill="none" stroke="#ce914e" stroke-width="0.55"/>
<path d="M632.2,227.44 L635.5,223.3 L638.8,215.2" fill="none" stroke="#ce914e" stroke-width="0.55"/>
<path d="M651.2,230.2 L654.5,205.64 L657.7,212.71 L660.8,221.99 L663.9,220.35 L667,217.1" fill="none" stroke="#ce914e" stroke-width="0.55"/>
<path d="M60.8,167.16 L64.3,156.49 L67.8,159.91 L70.9,177.96 L74.2,202.19 L77.2,206.65 L80.7,212.62 L84.2,220.49 L87.2,223.5 L90,209.37 L92.8,220.53 L95.9,230.4 L99.4,226.34 L102.9,225.23 L106.4,225.23 L109.2,222.89 L112.2,229.79 L115.3,223.99 L118.5,219.3 L121.6,220.54 L125,221.78 L128.6,221.78 L131.6,223.99 L134.4,228.96 L137.2,222.38 L140.3,220.18 L143.8,215.08 L147.3,207.81 L150.3,215.29 L153.1,189.51 L155.9,190.44 L159,216.61 L162.5,226.59 L166,223.62 L169.5,218.08 L172.3,168.66 L175.3,166.11 L178.8,196.65 L182.3,176.56 L185.1,184.74 L188.1,206.65 L191.2,213.24 L194.5,215.03 L197.5,203.57 L201,202.61 L204,218.86 L206.8,231.04 L210.3,225.84 L213.8,222.32 L216.7,233.51 L219.5,226.02 L222.5,216.77 L226,202.59 L229,206.45 L231.9,210.75 L235.4,228.79 L238.9,220.09 L242.4,219.06 L245.2,207.52 L248.4,192.04 L251.7,229.42 L254.8,233.21 L258.3,240.73 L261.5,247.92 L264.6,242.03 L267.6,226.99 L270.9,216.82 L273.9,210.19 L276.9,198.74 L280.2,208.66 L283.3,205.64 L286.3,206.85 L289.6,219.4 L292.6,220.3 L296.1,232.67 L299.1,216.41 L302.2,204.32 L305.4,202.41 L308.5,169.26 L311.8,153.27 L314.8,158.17 L318.3,161.61 L321.3,158.94 L324.6,154.62 L327.6,160.13 L331.1,172.67 L334.2,174.29 L337.4,159.86 L340.5,169.14 L344,190.08 L346.8,184.25 L349.8,172.65 L353.3,171.41 L356.4,177.91 L359.7,155.19 L362.7,160.07 L366,177.12 L369,209.32 L372.5,213.94 L375.6,217.24 L378.4,213.65 L381.9,207.9 L384.9,223.5 L388.2,223.57 L391.2,223.5 L394.2,228.3 L397.5,231.01 L400.5,217.69 L404,224.82 L406.9,213.35 L409.9,208.92 L412.9,220.76 L416.2,214.74 L419.2,214.79 L422.7,221.27 L425.8,225.08 L429.3,219.17 L432.6,219.6" fill="none" stroke="#4d8a6d" stroke-width="0.55"/>
<path d="M441.4,188.8 L445,188.8" fill="none" stroke="#4d8a6d" stroke-width="0.55"/>
<path d="M455.4,217.78 L459,212.26 L462.5,206.74 L465.3,206.74 L468.2,206.74 L471.1,209.5 L474.1,223.3 L476.9,227.44 L480,211.04 L483,184.61 L486.3,158.66 L489.3,180.96 L492.8,214.55 L495.9,212.45 L499.1,195.28 L502.2,212.47 L505.2,206.39 L508.5,178.23 L511.6,166.09 L515.2,186.04 L518.3,187.05 L521.6,192.77 L524.9,180.96 L528,179.75 L531.3,188.8 L534.4,202.6 L537.7,208.12 L540.8,202.6 L543.8,199.84 L547.7,205.36 L550.2,216.4 L553.5,212.26 L556.9,206.74 L559.9,209.5 L563,216.4 L565.9,219.16 L572.2,208.5 L575.3,201.98 L578.6,206.22 L581.7,217.84 L584.7,230.2 L588,230.2" fill="none" stroke="#4d8a6d" stroke-width="0.55"/>
<path d="M597,228.83 L600,225 L603.4,221.33" fill="none" stroke="#4d8a6d" stroke-width="0.55"/>
<path d="M612.5,206.74 L615.7,209.5 L618.9,209.5 L622.3,210.88" fill="none" stroke="#4d8a6d" stroke-width="0.55"/>
<path d="M632.2,216.4 L635.5,221.92 L638.8,216.22" fill="none" stroke="#4d8a6d" stroke-width="0.55"/>
<path d="M651.2,220.54 L654.5,172.24 L657.7,172.24 L660.8,182.59 L663.9,202.6 L667,210.19" fill="none" stroke="#4d8a6d" stroke-width="0.55"/>
<path d="M60.8,164.24 L64.3,157.92 L67.8,163.52 L70.9,181.84 L74.2,208.5 L77.2,212.22 L80.7,217.64 L84.2,224.42 L87.2,225.01 L90,213.1 L92.8,216.43 L95.9,228.35 L99.4,213.23 L102.9,212.12 L106.4,212.12 L109.2,209.78 L112.2,216.68 L115.3,210.88 L118.5,206.19 L121.6,207.43 L125,208.67 L128.6,208.67 L131.6,210.88 L134.4,232.27 L137.2,223.62 L140.3,221.56 L143.8,214.17 L147.3,209.24 L150.3,211.79 L153.1,189.93 L155.9,193.13 L159,222.12 L162.5,232.44 L166,226.75 L169.5,222.03 L172.3,165.54 L175.3,166.37 L178.8,202.69 L182.3,182.54 L185.1,181.1 L188.1,206.81 L191.2,216.02 L194.5,214.6 L197.5,203.45 L201,200.05 L204,220.68 L206.8,223.41 L210.3,226.33 L213.8,222.25 L216.7,228.94 L219.5,225.21 L222.5,215.23 L226,196.33 L229,208.31 L231.9,213.16 L235.4,227.38 L238.9,224 L242.4,219.69 L245.2,209.07 L248.4,192.05 L251.7,234.42 L254.8,230.16 L258.3,240.26 L261.5,244.92 L264.6,245.31 L267.6,225.35 L270.9,218.31 L273.9,208.42 L276.9,215.71 L280.2,216.95 L283.3,219.16 L286.3,213.48 L289.6,217.76 L292.6,220.65 L296.1,236.64 L299.1,217.45 L302.2,205.01 L305.4,204.65 L308.5,168.03 L311.8,154.31 L314.8,160.8 L318.3,163.32 L321.3,162.71 L324.6,157.02 L327.6,159.12 L331.1,176.64 L334.2,178.78 L337.4,166.19 L340.5,170.12 L344,188.16 L346.8,193.96 L349.8,183.82 L353.3,183 L356.4,176.53 L359.7,169.48 L362.7,169.48 L366,179.89 L369,213.78 L372.5,215.59 L375.6,224.12 L378.4,208.63 L381.9,209.51 L384.9,230.1 L388.2,223.42 L391.2,226.51 L394.2,238.06 L397.5,233.38 L400.5,220 L404,228.36 L406.9,218.45 L409.9,209.29 L412.9,219.26 L416.2,219.6 L419.2,216.96 L422.7,216.32 L425.8,220.57 L429.3,227.62 L432.6,224.49" fill="none" stroke="#58aca8" stroke-width="0.55"/>
<path d="M441.4,206.74 L445,206.74" fill="none" stroke="#58aca8" stroke-width="0.55"/>
<path d="M455.4,202.6 L459,209.5 L462.5,208.12 L465.3,199.84 L468.2,192.94 L471.1,199.84 L474.1,220.54 L476.9,224.68 L480,212.34 L483,188.86 L486.3,165.92 L489.3,179.76 L492.8,219.23 L495.9,215.34 L499.1,198.35 L502.2,213.91 L505.2,210.28 L508.5,176.04 L511.6,166.3 L515.2,184.05 L518.3,187.42 L521.6,193.2 L524.9,178.63 L528,184.33 L531.3,197.08 L534.4,199.84 L537.7,209.5 L540.8,216.4 L543.8,202.6 L547.7,213.64 L550.2,220.54 L553.5,216.4 L556.9,209.5 L559.9,202.6 L563,213.64 L565.9,216.4 L572.2,206.92 L575.3,197.75 L578.6,212.47 L581.7,216.51 L584.7,230.2 L588,230.2" fill="none" stroke="#58aca8" stroke-width="0.55"/>
<path d="M597,225.84 L600,226.42 L603.4,225.76" fill="none" stroke="#58aca8" stroke-width="0.55"/>
<path d="M612.5,213.64 L615.7,208.12 L618.9,208.12 L622.3,209.5" fill="none" stroke="#58aca8" stroke-width="0.55"/>
<path d="M632.2,242.62 L635.5,216.4 L638.8,224.81" fill="none" stroke="#58aca8" stroke-width="0.55"/>
<path d="M651.2,224.68 L654.5,214.6 L657.7,214.83 L660.8,226.77 L663.9,224.43 L667,220.75" fill="none" stroke="#58aca8" stroke-width="0.55"/>
<path d="M60.8,171.69 L64.3,163.04 L67.8,162.36 L70.9,183.13 L74.2,202.97 L77.2,214.88 L80.7,221.1 L84.2,226.39 L87.2,224.46 L90,214.23 L92.8,218.34 L95.9,223.99 L99.4,223.99 L102.9,223.99 L106.4,223.99 L109.2,223.99 L112.2,223.99 L115.3,223.99 L118.5,221.6 L121.6,223.99 L125,223.99 L128.6,223.99 L131.6,223.99 L134.4,223.99 L137.2,223.99 L140.3,220.03 L143.8,214.77 L147.3,210.96 L150.3,213.59 L153.1,192.18 L155.9,195.21 L159,220.69 L162.5,226.96 L166,226.89 L169.5,222.24 L172.3,171.14 L175.3,165.39 L178.8,198.95 L182.3,183.4 L185.1,185.76 L188.1,207.75 L191.2,213.25 L194.5,212.27 L197.5,206.33 L201,196.46 L204,222.54 L206.8,224.99 L210.3,228.4 L213.8,220.27 L216.7,236.6 L219.5,231.55 L222.5,217.61 L226,198.01 L229,200.98 L231.9,212.75 L235.4,226.78 L238.9,222.19 L242.4,220.66 L245.2,209.96 L248.4,195.24 L251.7,233.42 L254.8,239.35 L258.3,255.04 L261.5,255.04 L264.6,245.62 L267.6,227.16 L270.9,218.72 L273.9,211.11 L276.9,202.63 L280.2,206.54 L283.3,210.7 L286.3,214 L289.6,217.93 L292.6,222.32 L296.1,240.98 L299.1,214.08 L302.2,203.8 L305.4,206.56 L308.5,168.57 L311.8,156.13 L314.8,157.61 L318.3,167.27 L321.3,159.34 L324.6,157.36 L327.6,161.45 L331.1,172.21 L334.2,175.32 L337.4,162.19 L340.5,170.79 L344,188.28 L346.8,196.09 L349.8,183.66 L353.3,179.57 L356.4,171.24 L359.7,175 L362.7,175 L366,183.13 L369,210.55 L372.5,223.71 L375.6,223.71 L378.4,215.26 L381.9,208.21 L384.9,223.13 L388.2,226.84 L391.2,232.21 L394.2,238.42 L397.5,227.03 L400.5,223.71 L404,223.71 L406.9,223.71 L409.9,223.71 L412.9,223.71 L416.2,223.71 L419.2,223.71 L422.7,223.71 L425.8,223.71 L429.3,232.96 L432.6,232.96" fill="none" stroke="#3a6584" stroke-width="0.55"/>
<path d="M441.4,223.3 L445,223.3" fill="none" stroke="#3a6584" stroke-width="0.55"/>
<path d="M455.4,221.92 L459,220.54 L462.5,226.06 L465.3,197.08 L468.2,187.42 L471.1,194.32 L474.1,219.16 L476.9,224.68 L480,212.98 L483,189.03 L486.3,171.99 L489.3,180.87 L492.8,215.37 L495.9,212.84 L499.1,186.04 L502.2,213.58 L505.2,209.71 L508.5,178.11 L511.6,165.88 L515.2,182.2 L518.3,191.62 L521.6,197.72 L524.9,177.27 L528,180.8 L531.3,194.32 L534.4,201.22 L537.7,202.6 L540.8,202.6 L543.8,194.32 L547.7,223.3 L550.2,223.3 L553.5,213.64 L556.9,205.36 L559.9,202.6 L563,223.3 L565.9,223.3 L572.2,187.42 L575.3,187.42 L578.6,187.42 L581.7,187.42 L584.7,261.94 L588,261.94" fill="none" stroke="#3a6584" stroke-width="0.55"/>
<path d="M597,228.41 L600,226.86 L603.4,225.03" fill="none" stroke="#3a6584" stroke-width="0.55"/>
<path d="M612.5,209.5 L615.7,223.3 L618.9,223.3 L622.3,223.3" fill="none" stroke="#3a6584" stroke-width="0.55"/>
<path d="M632.2,227.44 L635.5,221.92 L638.8,222.14" fill="none" stroke="#3a6584" stroke-width="0.55"/>
<path d="M651.2,230.2 L654.5,210.91 L657.7,217.87 L660.8,224.76 L663.9,229.43 L667,218.27" fill="none" stroke="#3a6584" stroke-width="0.55"/>
<path d="M60.8,167.87 L64.3,156.69 L67.8,159.85 L70.9,176.02 L74.2,198.87 L77.2,207.98 L80.7,215.85 L84.2,224.53 L87.2,222.74 L90,210.88 L92.8,214.05 L95.9,225.26 L99.4,221.55 L102.9,216.86 L106.4,223.44 L109.2,219.41 L112.2,219.78 L115.3,224.92 L118.5,217.07 L121.6,216.69 L125,217.97 L128.6,217.38 L131.6,221.1 L134.4,229.07 L137.2,220.42 L140.3,214.04 L143.8,216.84 L147.3,211.02 L150.3,210.06 L153.1,189.15 L155.9,193.87 L159,215.62 L162.5,226.76 L166,222.64 L169.5,215.34 L172.3,163.79 L175.3,159.87 L178.8,194.01 L182.3,180.65 L185.1,182.11 L188.1,202.09 L191.2,211.29 L194.5,210.29 L197.5,200.15 L201,200.52 L204,216.83 L206.8,219.76 L210.3,226.53 L213.8,219.09 L216.7,227.93 L219.5,222.72 L222.5,214 L226,193.87 L229,204.63 L231.9,210.09 L235.4,226.36 L238.9,224.71 L242.4,216.06 L245.2,205.6 L248.4,195.53 L251.7,229.42 L254.8,233.68 L258.3,239.36 L261.5,240.79 L264.6,246.27 L267.6,229.18 L270.9,211.24 L273.9,209.05 L276.9,204.31 L280.2,206.34 L283.3,208.22 L286.3,210.37 L289.6,211.88 L292.6,219.53 L296.1,235.14 L299.1,209.5 L302.2,205.47 L305.4,204.73 L308.5,164.51 L311.8,150.39 L314.8,159.85 L318.3,164.91 L321.3,156.79 L324.6,152.2 L327.6,159.44 L331.1,170.92 L334.2,176.27 L337.4,157.64 L340.5,166.03 L344,186.93 L346.8,193.36 L349.8,178.46 L353.3,176.43 L356.4,171.31 L359.7,153.28 L362.7,161.6 L366,179.52 L369,207.19 L372.5,208.85 L375.6,217.99 L378.4,207.88 L381.9,208.49 L384.9,226.4 L388.2,220.5 L391.2,226.82 L394.2,230.29 L397.5,228.99 L400.5,219.38 L404,224.04 L406.9,211.79 L409.9,207.89 L412.9,215 L416.2,218.97 L419.2,217.27 L422.7,215.97 L425.8,224.22 L429.3,223.37 L432.6,220.59" fill="none" stroke="#c9696b" stroke-width="0.55"/>
<path d="M441.4,217.78 L445,217.78" fill="none" stroke="#c9696b" stroke-width="0.55"/>
<path d="M455.4,230.2 L459,224.68 L462.5,223.3 L465.3,216.4 L468.2,220.54 L471.1,223.3 L474.1,230.2 L476.9,231.58 L480,211.83 L483,184.44 L486.3,163.14 L489.3,176.04 L492.8,212.12 L495.9,213.02 L499.1,197.64 L502.2,215.02 L505.2,208.1 L508.5,173.86 L511.6,164.1 L515.2,183.7 L518.3,186.45 L521.6,187.57 L524.9,175.79 L528,179.2 L531.3,199.84 L534.4,208.12 L537.7,215.02 L540.8,216.4 L543.8,208.12 L547.7,202.6 L550.2,220.54 L553.5,209.5 L556.9,202.6 L559.9,205.36 L563,216.4 L565.9,216.4 L572.2,203.64 L575.3,204.18 L578.6,205.34 L581.7,212.99 L584.7,236.49 L588,241" fill="none" stroke="#c9696b" stroke-width="0.55"/>
<path d="M597,224.9 L600,228.94 L603.4,223.35" fill="none" stroke="#c9696b" stroke-width="0.55"/>
<path d="M612.5,194.32 L615.7,205.36 L618.9,216.4 L622.3,230.2" fill="none" stroke="#c9696b" stroke-width="0.55"/>
<path d="M632.2,234.34 L635.5,223.3 L638.8,222.67" fill="none" stroke="#c9696b" stroke-width="0.55"/>
<path d="M651.2,232.96 L654.5,207.62 L657.7,220.1 L660.8,219.2 L663.9,224.61 L667,220.58" fill="none" stroke="#c9696b" stroke-width="0.55"/>
<path d="M60.8,162.38 L64.3,156.06 L67.8,156.61 L70.9,179.85 L74.2,198.58 L77.2,202.42 L80.7,214.97 L84.2,215.95 L87.2,220.67 L90,208.63 L92.8,212.96 L95.9,222.69 L99.4,224.41 L102.9,225.33 L106.4,218.98 L109.2,216.19 L112.2,223.49 L115.3,212.99 L118.5,213.99 L121.6,215.11 L125,214.77 L128.6,216.09 L131.6,215.26 L134.4,231.45 L137.2,220.04 L140.3,222.55 L143.8,209.11 L147.3,208.44 L150.3,206.5 L153.1,180.3 L155.9,190.06 L159,216.31 L162.5,225.02 L166,224.71 L169.5,217.19 L172.3,161.63 L175.3,159.6 L178.8,192.23 L182.3,176.37 L185.1,178.51 L188.1,200.61 L191.2,209 L194.5,207.11 L197.5,200.89 L201,199.78 L204,213.54 L206.8,221.66 L210.3,226.1 L213.8,215.53 L216.7,225.39 L219.5,228.63 L222.5,209.59 L226,193.81 L229,199.54 L231.9,208.21 L235.4,225.31 L238.9,222.79 L242.4,215.78 L245.2,206.26 L248.4,190.71 L251.7,228.96 L254.8,231.81 L258.3,237.45 L261.5,241.14 L264.6,241.46 L267.6,232.32 L270.9,214.36 L273.9,204.74 L276.9,197.39 L280.2,202.63 L283.3,204.26 L286.3,206.06 L289.6,215.23 L292.6,217.44 L296.1,230.4 L299.1,213.27 L302.2,200 L305.4,203.44 L308.5,163.89 L311.8,150.48 L314.8,155.82 L318.3,158.14 L321.3,150.49 L324.6,152.96 L327.6,156.34 L331.1,167.9 L334.2,176.1 L337.4,156.17 L340.5,163.03 L344,186 L346.8,189.9 L349.8,183.19 L353.3,176.53 L356.4,172.69 L359.7,155.52 L362.7,159.74 L366,179.25 L369,205.55 L372.5,210.83 L375.6,216.64 L378.4,205.05 L381.9,203.86 L384.9,221.49 L388.2,218.3 L391.2,220.94 L394.2,229.16 L397.5,227.97 L400.5,207.52 L404,217.57 L406.9,215.67 L409.9,205.31 L412.9,214.73 L416.2,214.69 L419.2,212.9 L422.7,216.35 L425.8,221.63 L429.3,220.16 L432.6,216.74" fill="none" stroke="#7b5453" stroke-width="0.55"/>
<path d="M441.4,213.64 L445,213.64" fill="none" stroke="#7b5453" stroke-width="0.55"/>
<path d="M455.4,220.54 L459,216.4 L462.5,213.64 L465.3,208.12 L468.2,216.4 L471.1,213.64 L474.1,223.3 L476.9,228.82 L480,205.89 L483,182.22 L486.3,163.33 L489.3,175 L492.8,207.21 L495.9,208.31 L499.1,191.64 L502.2,208.44 L505.2,205.11 L508.5,174.09 L511.6,162.96 L515.2,178.99 L518.3,188.02 L521.6,188.53 L524.9,173.88 L528,180.89 L531.3,186.04 L534.4,187.42 L537.7,188.8 L540.8,184.66 L543.8,183.28 L547.7,173.62 L550.2,202.6 L553.5,203.98 L556.9,205.36 L559.9,199.84 L563,209.5 L565.9,209.5 L569.1,283.33 L572.2,203.99 L575.3,199.77 L578.6,201.81 L581.7,214.67 L584.7,255.04 L588,255.04" fill="none" stroke="#7b5453" stroke-width="0.55"/>
<path d="M597,225.39 L600,220.39 L603.4,223.35" fill="none" stroke="#7b5453" stroke-width="0.55"/>
<path d="M612.5,205.36 L615.7,206.74 L618.9,208.12 L622.3,223.3" fill="none" stroke="#7b5453" stroke-width="0.55"/>
<path d="M632.2,230.2 L635.5,224.68 L638.8,219.09" fill="none" stroke="#7b5453" stroke-width="0.55"/>
<path d="M651.2,235.72 L654.5,205.64 L657.7,209.75 L660.8,223.08 L663.9,219.67 L667,215.39" fill="none" stroke="#7b5453" stroke-width="0.55"/>
<circle cx="60.8" cy="166.35" r="1.15" fill="#924b3b"/>
<circle cx="64.3" cy="155.86" r="1.15" fill="#924b3b"/>
<circle cx="67.8" cy="159.25" r="1.15" fill="#924b3b"/>
<circle cx="70.9" cy="180.43" r="1.15" fill="#924b3b"/>
<circle cx="74.2" cy="202.85" r="1.15" fill="#924b3b"/>
<circle cx="77.2" cy="208.21" r="1.15" fill="#924b3b"/>
<circle cx="80.7" cy="212.14" r="1.15" fill="#924b3b"/>
<circle cx="84.2" cy="221.89" r="1.15" fill="#924b3b"/>
<circle cx="87.2" cy="218.11" r="1.15" fill="#924b3b"/>
<circle cx="90" cy="209.47" r="1.15" fill="#924b3b"/>
<circle cx="92.8" cy="213.82" r="1.15" fill="#924b3b"/>
<circle cx="95.9" cy="226.04" r="1.15" fill="#924b3b"/>
<circle cx="99.4" cy="226.79" r="1.15" fill="#924b3b"/>
<circle cx="102.9" cy="219.78" r="1.15" fill="#924b3b"/>
<circle cx="106.4" cy="220.59" r="1.15" fill="#924b3b"/>
<circle cx="109.2" cy="218.27" r="1.15" fill="#924b3b"/>
<circle cx="112.2" cy="230.3" r="1.15" fill="#924b3b"/>
<circle cx="115.3" cy="224.63" r="1.15" fill="#924b3b"/>
<circle cx="118.5" cy="217.94" r="1.15" fill="#924b3b"/>
<circle cx="121.6" cy="218.19" r="1.15" fill="#924b3b"/>
<circle cx="125" cy="217.62" r="1.15" fill="#924b3b"/>
<circle cx="128.6" cy="218.44" r="1.15" fill="#924b3b"/>
<circle cx="131.6" cy="219.32" r="1.15" fill="#924b3b"/>
<circle cx="134.4" cy="231.43" r="1.15" fill="#924b3b"/>
<circle cx="137.2" cy="219.82" r="1.15" fill="#924b3b"/>
<circle cx="140.3" cy="214.92" r="1.15" fill="#924b3b"/>
<circle cx="143.8" cy="213.95" r="1.15" fill="#924b3b"/>
<circle cx="147.3" cy="204.92" r="1.15" fill="#924b3b"/>
<circle cx="150.3" cy="208.75" r="1.15" fill="#924b3b"/>
<circle cx="153.1" cy="183.92" r="1.15" fill="#924b3b"/>
<circle cx="155.9" cy="192.88" r="1.15" fill="#924b3b"/>
<circle cx="159" cy="218.82" r="1.15" fill="#924b3b"/>
<circle cx="162.5" cy="226.04" r="1.15" fill="#924b3b"/>
<circle cx="166" cy="224.38" r="1.15" fill="#924b3b"/>
<circle cx="169.5" cy="215.61" r="1.15" fill="#924b3b"/>
<circle cx="172.3" cy="163.93" r="1.15" fill="#924b3b"/>
<circle cx="175.3" cy="162.11" r="1.15" fill="#924b3b"/>
<circle cx="178.8" cy="196.01" r="1.15" fill="#924b3b"/>
<circle cx="182.3" cy="178.57" r="1.15" fill="#924b3b"/>
<circle cx="185.1" cy="179.17" r="1.15" fill="#924b3b"/>
<circle cx="188.1" cy="205.05" r="1.15" fill="#924b3b"/>
<circle cx="191.2" cy="209.48" r="1.15" fill="#924b3b"/>
<circle cx="194.5" cy="209.05" r="1.15" fill="#924b3b"/>
<circle cx="197.5" cy="205.4" r="1.15" fill="#924b3b"/>
<circle cx="201" cy="198.35" r="1.15" fill="#924b3b"/>
<circle cx="204" cy="215.27" r="1.15" fill="#924b3b"/>
<circle cx="206.8" cy="228.85" r="1.15" fill="#924b3b"/>
<circle cx="210.3" cy="225.99" r="1.15" fill="#924b3b"/>
<circle cx="213.8" cy="219.69" r="1.15" fill="#924b3b"/>
<circle cx="216.7" cy="229.5" r="1.15" fill="#924b3b"/>
<circle cx="219.5" cy="225.17" r="1.15" fill="#924b3b"/>
<circle cx="222.5" cy="214.89" r="1.15" fill="#924b3b"/>
<circle cx="226" cy="199.41" r="1.15" fill="#924b3b"/>
<circle cx="229" cy="201.07" r="1.15" fill="#924b3b"/>
<circle cx="231.9" cy="208.48" r="1.15" fill="#924b3b"/>
<circle cx="235.4" cy="224.12" r="1.15" fill="#924b3b"/>
<circle cx="238.9" cy="217.16" r="1.15" fill="#924b3b"/>
<circle cx="242.4" cy="218.59" r="1.15" fill="#924b3b"/>
<circle cx="245.2" cy="207.43" r="1.15" fill="#924b3b"/>
<circle cx="248.4" cy="194.47" r="1.15" fill="#924b3b"/>
<circle cx="251.7" cy="248.14" r="1.15" fill="#924b3b"/>
<circle cx="254.8" cy="234.81" r="1.15" fill="#924b3b"/>
<circle cx="258.3" cy="241.47" r="1.15" fill="#924b3b"/>
<circle cx="261.5" cy="244.62" r="1.15" fill="#924b3b"/>
<circle cx="264.6" cy="245.03" r="1.15" fill="#924b3b"/>
<circle cx="267.6" cy="229.93" r="1.15" fill="#924b3b"/>
<circle cx="270.9" cy="211.72" r="1.15" fill="#924b3b"/>
<circle cx="273.9" cy="212.47" r="1.15" fill="#924b3b"/>
<circle cx="276.9" cy="205.33" r="1.15" fill="#924b3b"/>
<circle cx="280.2" cy="202.59" r="1.15" fill="#924b3b"/>
<circle cx="283.3" cy="201.97" r="1.15" fill="#924b3b"/>
<circle cx="286.3" cy="209.8" r="1.15" fill="#924b3b"/>
<circle cx="289.6" cy="220.31" r="1.15" fill="#924b3b"/>
<circle cx="292.6" cy="226.45" r="1.15" fill="#924b3b"/>
<circle cx="296.1" cy="234.88" r="1.15" fill="#924b3b"/>
<circle cx="299.1" cy="216.47" r="1.15" fill="#924b3b"/>
<circle cx="302.2" cy="206.88" r="1.15" fill="#924b3b"/>
<circle cx="305.4" cy="200.86" r="1.15" fill="#924b3b"/>
<circle cx="308.5" cy="163.17" r="1.15" fill="#924b3b"/>
<circle cx="311.8" cy="151.31" r="1.15" fill="#924b3b"/>
<circle cx="314.8" cy="156.9" r="1.15" fill="#924b3b"/>
<circle cx="318.3" cy="161.15" r="1.15" fill="#924b3b"/>
<circle cx="321.3" cy="153.73" r="1.15" fill="#924b3b"/>
<circle cx="324.6" cy="151.33" r="1.15" fill="#924b3b"/>
<circle cx="327.6" cy="155.15" r="1.15" fill="#924b3b"/>
<circle cx="331.1" cy="169.16" r="1.15" fill="#924b3b"/>
<circle cx="334.2" cy="178.68" r="1.15" fill="#924b3b"/>
<circle cx="337.4" cy="155.71" r="1.15" fill="#924b3b"/>
<circle cx="340.5" cy="163.51" r="1.15" fill="#924b3b"/>
<circle cx="344" cy="185.49" r="1.15" fill="#924b3b"/>
<circle cx="346.8" cy="197.16" r="1.15" fill="#924b3b"/>
<circle cx="349.8" cy="182.42" r="1.15" fill="#924b3b"/>
<circle cx="353.3" cy="177.72" r="1.15" fill="#924b3b"/>
<circle cx="356.4" cy="174.7" r="1.15" fill="#924b3b"/>
<circle cx="359.7" cy="155.7" r="1.15" fill="#924b3b"/>
<circle cx="362.7" cy="157.43" r="1.15" fill="#924b3b"/>
<circle cx="366" cy="182.77" r="1.15" fill="#924b3b"/>
<circle cx="369" cy="205.17" r="1.15" fill="#924b3b"/>
<circle cx="372.5" cy="211.1" r="1.15" fill="#924b3b"/>
<circle cx="375.6" cy="217.44" r="1.15" fill="#924b3b"/>
<circle cx="378.4" cy="206.94" r="1.15" fill="#924b3b"/>
<circle cx="381.9" cy="207.42" r="1.15" fill="#924b3b"/>
<circle cx="384.9" cy="222.6" r="1.15" fill="#924b3b"/>
<circle cx="388.2" cy="217.85" r="1.15" fill="#924b3b"/>
<circle cx="391.2" cy="226.78" r="1.15" fill="#924b3b"/>
<circle cx="394.2" cy="232.14" r="1.15" fill="#924b3b"/>
<circle cx="397.5" cy="223.89" r="1.15" fill="#924b3b"/>
<circle cx="400.5" cy="214.68" r="1.15" fill="#924b3b"/>
<circle cx="404" cy="226.19" r="1.15" fill="#924b3b"/>
<circle cx="406.9" cy="210.18" r="1.15" fill="#924b3b"/>
<circle cx="409.9" cy="203.16" r="1.15" fill="#924b3b"/>
<circle cx="412.9" cy="218.13" r="1.15" fill="#924b3b"/>
<circle cx="416.2" cy="221.57" r="1.15" fill="#924b3b"/>
<circle cx="419.2" cy="216.16" r="1.15" fill="#924b3b"/>
<circle cx="422.7" cy="217.44" r="1.15" fill="#924b3b"/>
<circle cx="425.8" cy="221.24" r="1.15" fill="#924b3b"/>
<circle cx="429.3" cy="218.49" r="1.15" fill="#924b3b"/>
<circle cx="432.6" cy="222.95" r="1.15" fill="#924b3b"/>
<circle cx="441.4" cy="216.4" r="1.15" fill="#924b3b"/>
<circle cx="445" cy="216.4" r="1.15" fill="#924b3b"/>
<circle cx="455.4" cy="224.68" r="1.15" fill="#924b3b"/>
<circle cx="459" cy="220.54" r="1.15" fill="#924b3b"/>
<circle cx="462.5" cy="216.4" r="1.15" fill="#924b3b"/>
<circle cx="465.3" cy="213.64" r="1.15" fill="#924b3b"/>
<circle cx="468.2" cy="216.4" r="1.15" fill="#924b3b"/>
<circle cx="471.1" cy="219.16" r="1.15" fill="#924b3b"/>
<circle cx="474.1" cy="227.44" r="1.15" fill="#924b3b"/>
<circle cx="476.9" cy="230.2" r="1.15" fill="#924b3b"/>
<circle cx="480" cy="208.83" r="1.15" fill="#924b3b"/>
<circle cx="483" cy="187.57" r="1.15" fill="#924b3b"/>
<circle cx="486.3" cy="162.18" r="1.15" fill="#924b3b"/>
<circle cx="489.3" cy="177.41" r="1.15" fill="#924b3b"/>
<circle cx="492.8" cy="216.68" r="1.15" fill="#924b3b"/>
<circle cx="495.9" cy="210.47" r="1.15" fill="#924b3b"/>
<circle cx="499.1" cy="193.17" r="1.15" fill="#924b3b"/>
<circle cx="502.2" cy="214.43" r="1.15" fill="#924b3b"/>
<circle cx="505.2" cy="205.81" r="1.15" fill="#924b3b"/>
<circle cx="508.5" cy="174.51" r="1.15" fill="#924b3b"/>
<circle cx="511.6" cy="164.23" r="1.15" fill="#924b3b"/>
<circle cx="515.2" cy="182.38" r="1.15" fill="#924b3b"/>
<circle cx="518.3" cy="182.98" r="1.15" fill="#924b3b"/>
<circle cx="521.6" cy="190.29" r="1.15" fill="#924b3b"/>
<circle cx="524.9" cy="173.78" r="1.15" fill="#924b3b"/>
<circle cx="528" cy="181.9" r="1.15" fill="#924b3b"/>
<circle cx="531.3" cy="191.56" r="1.15" fill="#924b3b"/>
<circle cx="534.4" cy="194.32" r="1.15" fill="#924b3b"/>
<circle cx="537.7" cy="198.46" r="1.15" fill="#924b3b"/>
<circle cx="540.8" cy="199.84" r="1.15" fill="#924b3b"/>
<circle cx="543.8" cy="194.32" r="1.15" fill="#924b3b"/>
<circle cx="547.7" cy="199.84" r="1.15" fill="#924b3b"/>
<circle cx="550.2" cy="209.5" r="1.15" fill="#924b3b"/>
<circle cx="553.5" cy="206.74" r="1.15" fill="#924b3b"/>
<circle cx="556.9" cy="202.6" r="1.15" fill="#924b3b"/>
<circle cx="559.9" cy="206.74" r="1.15" fill="#924b3b"/>
<circle cx="563" cy="210.88" r="1.15" fill="#924b3b"/>
<circle cx="565.9" cy="213.64" r="1.15" fill="#924b3b"/>
<circle cx="572.2" cy="203.29" r="1.15" fill="#924b3b"/>
<circle cx="575.3" cy="202.14" r="1.15" fill="#924b3b"/>
<circle cx="578.6" cy="205.13" r="1.15" fill="#924b3b"/>
<circle cx="581.7" cy="211.97" r="1.15" fill="#924b3b"/>
<circle cx="584.7" cy="239.71" r="1.15" fill="#924b3b"/>
<circle cx="588" cy="241.89" r="1.15" fill="#924b3b"/>
<circle cx="597" cy="228.95" r="1.15" fill="#924b3b"/>
<circle cx="600" cy="223.74" r="1.15" fill="#924b3b"/>
<circle cx="603.4" cy="225.09" r="1.15" fill="#924b3b"/>
<circle cx="612.5" cy="208.12" r="1.15" fill="#924b3b"/>
<circle cx="615.7" cy="208.12" r="1.15" fill="#924b3b"/>
<circle cx="618.9" cy="209.5" r="1.15" fill="#924b3b"/>
<circle cx="622.3" cy="216.4" r="1.15" fill="#924b3b"/>
<circle cx="632.2" cy="232.96" r="1.15" fill="#924b3b"/>
<circle cx="635.5" cy="223.3" r="1.15" fill="#924b3b"/>
<circle cx="638.8" cy="216.29" r="1.15" fill="#924b3b"/>
<circle cx="651.2" cy="241.24" r="1.15" fill="#924b3b"/>
<circle cx="654.5" cy="207.26" r="1.15" fill="#924b3b"/>
<circle cx="657.7" cy="213.01" r="1.15" fill="#924b3b"/>
<circle cx="660.8" cy="221.85" r="1.15" fill="#924b3b"/>
<circle cx="663.9" cy="226.27" r="1.15" fill="#924b3b"/>
<circle cx="667" cy="217.44" r="1.15" fill="#924b3b"/>
<circle cx="60.8" cy="162.11" r="1.15" fill="#ce914e"/>
<circle cx="64.3" cy="159.35" r="1.15" fill="#ce914e"/>
<circle cx="67.8" cy="159.87" r="1.15" fill="#ce914e"/>
<circle cx="70.9" cy="177.52" r="1.15" fill="#ce914e"/>
<circle cx="74.2" cy="197.33" r="1.15" fill="#ce914e"/>
<circle cx="77.2" cy="205" r="1.15" fill="#ce914e"/>
<circle cx="80.7" cy="213.24" r="1.15" fill="#ce914e"/>
<circle cx="84.2" cy="221.86" r="1.15" fill="#ce914e"/>
<circle cx="87.2" cy="219.49" r="1.15" fill="#ce914e"/>
<circle cx="90" cy="208.01" r="1.15" fill="#ce914e"/>
<circle cx="92.8" cy="214.47" r="1.15" fill="#ce914e"/>
<circle cx="95.9" cy="225.13" r="1.15" fill="#ce914e"/>
<circle cx="99.4" cy="220.85" r="1.15" fill="#ce914e"/>
<circle cx="102.9" cy="221.09" r="1.15" fill="#ce914e"/>
<circle cx="106.4" cy="219.3" r="1.15" fill="#ce914e"/>
<circle cx="109.2" cy="217.42" r="1.15" fill="#ce914e"/>
<circle cx="112.2" cy="220.93" r="1.15" fill="#ce914e"/>
<circle cx="115.3" cy="219.09" r="1.15" fill="#ce914e"/>
<circle cx="118.5" cy="216.16" r="1.15" fill="#ce914e"/>
<circle cx="121.6" cy="217.27" r="1.15" fill="#ce914e"/>
<circle cx="125" cy="217.67" r="1.15" fill="#ce914e"/>
<circle cx="128.6" cy="215.47" r="1.15" fill="#ce914e"/>
<circle cx="131.6" cy="220.64" r="1.15" fill="#ce914e"/>
<circle cx="134.4" cy="228.33" r="1.15" fill="#ce914e"/>
<circle cx="137.2" cy="215.54" r="1.15" fill="#ce914e"/>
<circle cx="140.3" cy="221.17" r="1.15" fill="#ce914e"/>
<circle cx="143.8" cy="214.34" r="1.15" fill="#ce914e"/>
<circle cx="147.3" cy="207.69" r="1.15" fill="#ce914e"/>
<circle cx="150.3" cy="208.43" r="1.15" fill="#ce914e"/>
<circle cx="153.1" cy="185.48" r="1.15" fill="#ce914e"/>
<circle cx="155.9" cy="191.74" r="1.15" fill="#ce914e"/>
<circle cx="159" cy="214.86" r="1.15" fill="#ce914e"/>
<circle cx="162.5" cy="223.88" r="1.15" fill="#ce914e"/>
<circle cx="166" cy="224.66" r="1.15" fill="#ce914e"/>
<circle cx="169.5" cy="210.7" r="1.15" fill="#ce914e"/>
<circle cx="172.3" cy="162.99" r="1.15" fill="#ce914e"/>
<circle cx="175.3" cy="161.67" r="1.15" fill="#ce914e"/>
<circle cx="178.8" cy="193.31" r="1.15" fill="#ce914e"/>
<circle cx="182.3" cy="177.19" r="1.15" fill="#ce914e"/>
<circle cx="185.1" cy="181.5" r="1.15" fill="#ce914e"/>
<circle cx="188.1" cy="208.86" r="1.15" fill="#ce914e"/>
<circle cx="191.2" cy="210.5" r="1.15" fill="#ce914e"/>
<circle cx="194.5" cy="207" r="1.15" fill="#ce914e"/>
<circle cx="197.5" cy="203.96" r="1.15" fill="#ce914e"/>
<circle cx="201" cy="197.93" r="1.15" fill="#ce914e"/>
<circle cx="204" cy="215.41" r="1.15" fill="#ce914e"/>
<circle cx="206.8" cy="221.43" r="1.15" fill="#ce914e"/>
<circle cx="210.3" cy="221.04" r="1.15" fill="#ce914e"/>
<circle cx="213.8" cy="222.74" r="1.15" fill="#ce914e"/>
<circle cx="216.7" cy="227.72" r="1.15" fill="#ce914e"/>
<circle cx="219.5" cy="226.45" r="1.15" fill="#ce914e"/>
<circle cx="222.5" cy="212.59" r="1.15" fill="#ce914e"/>
<circle cx="226" cy="192.72" r="1.15" fill="#ce914e"/>
<circle cx="229" cy="208.62" r="1.15" fill="#ce914e"/>
<circle cx="231.9" cy="206.81" r="1.15" fill="#ce914e"/>
<circle cx="235.4" cy="229.04" r="1.15" fill="#ce914e"/>
<circle cx="238.9" cy="218.25" r="1.15" fill="#ce914e"/>
<circle cx="242.4" cy="222.25" r="1.15" fill="#ce914e"/>
<circle cx="245.2" cy="206.6" r="1.15" fill="#ce914e"/>
<circle cx="248.4" cy="187.93" r="1.15" fill="#ce914e"/>
<circle cx="251.7" cy="230.83" r="1.15" fill="#ce914e"/>
<circle cx="254.8" cy="232.24" r="1.15" fill="#ce914e"/>
<circle cx="258.3" cy="237.85" r="1.15" fill="#ce914e"/>
<circle cx="261.5" cy="240.63" r="1.15" fill="#ce914e"/>
<circle cx="264.6" cy="242.28" r="1.15" fill="#ce914e"/>
<circle cx="267.6" cy="224.39" r="1.15" fill="#ce914e"/>
<circle cx="270.9" cy="211.59" r="1.15" fill="#ce914e"/>
<circle cx="273.9" cy="207.71" r="1.15" fill="#ce914e"/>
<circle cx="276.9" cy="194.78" r="1.15" fill="#ce914e"/>
<circle cx="280.2" cy="205.15" r="1.15" fill="#ce914e"/>
<circle cx="283.3" cy="202.52" r="1.15" fill="#ce914e"/>
<circle cx="286.3" cy="211.09" r="1.15" fill="#ce914e"/>
<circle cx="289.6" cy="214.85" r="1.15" fill="#ce914e"/>
<circle cx="292.6" cy="218.2" r="1.15" fill="#ce914e"/>
<circle cx="296.1" cy="234.51" r="1.15" fill="#ce914e"/>
<circle cx="299.1" cy="212.56" r="1.15" fill="#ce914e"/>
<circle cx="302.2" cy="207.15" r="1.15" fill="#ce914e"/>
<circle cx="305.4" cy="206" r="1.15" fill="#ce914e"/>
<circle cx="308.5" cy="163.62" r="1.15" fill="#ce914e"/>
<circle cx="311.8" cy="153.25" r="1.15" fill="#ce914e"/>
<circle cx="314.8" cy="159.19" r="1.15" fill="#ce914e"/>
<circle cx="318.3" cy="164.92" r="1.15" fill="#ce914e"/>
<circle cx="321.3" cy="153.81" r="1.15" fill="#ce914e"/>
<circle cx="324.6" cy="150.34" r="1.15" fill="#ce914e"/>
<circle cx="327.6" cy="152.22" r="1.15" fill="#ce914e"/>
<circle cx="331.1" cy="171.96" r="1.15" fill="#ce914e"/>
<circle cx="334.2" cy="174.31" r="1.15" fill="#ce914e"/>
<circle cx="337.4" cy="160.7" r="1.15" fill="#ce914e"/>
<circle cx="340.5" cy="163.27" r="1.15" fill="#ce914e"/>
<circle cx="344" cy="197.77" r="1.15" fill="#ce914e"/>
<circle cx="346.8" cy="203.57" r="1.15" fill="#ce914e"/>
<circle cx="349.8" cy="200.25" r="1.15" fill="#ce914e"/>
<circle cx="353.3" cy="199.01" r="1.15" fill="#ce914e"/>
<circle cx="356.4" cy="189.77" r="1.15" fill="#ce914e"/>
<circle cx="359.7" cy="199.84" r="1.15" fill="#ce914e"/>
<circle cx="362.7" cy="199.84" r="1.15" fill="#ce914e"/>
<circle cx="366" cy="208.12" r="1.15" fill="#ce914e"/>
<circle cx="369" cy="209.67" r="1.15" fill="#ce914e"/>
<circle cx="372.5" cy="210.77" r="1.15" fill="#ce914e"/>
<circle cx="375.6" cy="215.44" r="1.15" fill="#ce914e"/>
<circle cx="378.4" cy="203.5" r="1.15" fill="#ce914e"/>
<circle cx="381.9" cy="210.65" r="1.15" fill="#ce914e"/>
<circle cx="384.9" cy="219.53" r="1.15" fill="#ce914e"/>
<circle cx="388.2" cy="216.36" r="1.15" fill="#ce914e"/>
<circle cx="391.2" cy="221.14" r="1.15" fill="#ce914e"/>
<circle cx="394.2" cy="230.9" r="1.15" fill="#ce914e"/>
<circle cx="397.5" cy="227.39" r="1.15" fill="#ce914e"/>
<circle cx="400.5" cy="211.66" r="1.15" fill="#ce914e"/>
<circle cx="404" cy="223.17" r="1.15" fill="#ce914e"/>
<circle cx="406.9" cy="211.42" r="1.15" fill="#ce914e"/>
<circle cx="409.9" cy="202.57" r="1.15" fill="#ce914e"/>
<circle cx="412.9" cy="217.02" r="1.15" fill="#ce914e"/>
<circle cx="416.2" cy="223.03" r="1.15" fill="#ce914e"/>
<circle cx="419.2" cy="216.07" r="1.15" fill="#ce914e"/>
<circle cx="422.7" cy="220.75" r="1.15" fill="#ce914e"/>
<circle cx="425.8" cy="217.93" r="1.15" fill="#ce914e"/>
<circle cx="429.3" cy="220.35" r="1.15" fill="#ce914e"/>
<circle cx="432.6" cy="221.28" r="1.15" fill="#ce914e"/>
<circle cx="441.4" cy="205.36" r="1.15" fill="#ce914e"/>
<circle cx="445" cy="205.36" r="1.15" fill="#ce914e"/>
<circle cx="455.4" cy="216.4" r="1.15" fill="#ce914e"/>
<circle cx="459" cy="208.12" r="1.15" fill="#ce914e"/>
<circle cx="462.5" cy="199.84" r="1.15" fill="#ce914e"/>
<circle cx="465.3" cy="180.52" r="1.15" fill="#ce914e"/>
<circle cx="468.2" cy="186.04" r="1.15" fill="#ce914e"/>
<circle cx="471.1" cy="188.8" r="1.15" fill="#ce914e"/>
<circle cx="474.1" cy="202.6" r="1.15" fill="#ce914e"/>
<circle cx="476.9" cy="220.54" r="1.15" fill="#ce914e"/>
<circle cx="480" cy="207.55" r="1.15" fill="#ce914e"/>
<circle cx="483" cy="184.35" r="1.15" fill="#ce914e"/>
<circle cx="486.3" cy="163.37" r="1.15" fill="#ce914e"/>
<circle cx="489.3" cy="174.79" r="1.15" fill="#ce914e"/>
<circle cx="492.8" cy="208.61" r="1.15" fill="#ce914e"/>
<circle cx="495.9" cy="212.08" r="1.15" fill="#ce914e"/>
<circle cx="499.1" cy="194.26" r="1.15" fill="#ce914e"/>
<circle cx="502.2" cy="223.3" r="1.15" fill="#ce914e"/>
<circle cx="505.2" cy="230.2" r="1.15" fill="#ce914e"/>
<circle cx="508.5" cy="175.47" r="1.15" fill="#ce914e"/>
<circle cx="511.6" cy="161.85" r="1.15" fill="#ce914e"/>
<circle cx="515.2" cy="184.25" r="1.15" fill="#ce914e"/>
<circle cx="518.3" cy="183.45" r="1.15" fill="#ce914e"/>
<circle cx="521.6" cy="183.87" r="1.15" fill="#ce914e"/>
<circle cx="524.9" cy="181.1" r="1.15" fill="#ce914e"/>
<circle cx="528" cy="181.26" r="1.15" fill="#ce914e"/>
<circle cx="531.3" cy="191.56" r="1.15" fill="#ce914e"/>
<circle cx="534.4" cy="197.08" r="1.15" fill="#ce914e"/>
<circle cx="537.7" cy="197.08" r="1.15" fill="#ce914e"/>
<circle cx="540.8" cy="194.32" r="1.15" fill="#ce914e"/>
<circle cx="543.8" cy="192.94" r="1.15" fill="#ce914e"/>
<circle cx="547.7" cy="191.56" r="1.15" fill="#ce914e"/>
<circle cx="550.2" cy="201.22" r="1.15" fill="#ce914e"/>
<circle cx="553.5" cy="198.46" r="1.15" fill="#ce914e"/>
<circle cx="556.9" cy="195.7" r="1.15" fill="#ce914e"/>
<circle cx="559.9" cy="195.7" r="1.15" fill="#ce914e"/>
<circle cx="563" cy="190.18" r="1.15" fill="#ce914e"/>
<circle cx="565.9" cy="190.18" r="1.15" fill="#ce914e"/>
<circle cx="572.2" cy="209.04" r="1.15" fill="#ce914e"/>
<circle cx="575.3" cy="204.51" r="1.15" fill="#ce914e"/>
<circle cx="578.6" cy="200.38" r="1.15" fill="#ce914e"/>
<circle cx="581.7" cy="211.63" r="1.15" fill="#ce914e"/>
<circle cx="584.7" cy="221.92" r="1.15" fill="#ce914e"/>
<circle cx="588" cy="221.92" r="1.15" fill="#ce914e"/>
<circle cx="597" cy="226.36" r="1.15" fill="#ce914e"/>
<circle cx="600" cy="223.44" r="1.15" fill="#ce914e"/>
<circle cx="603.4" cy="221.93" r="1.15" fill="#ce914e"/>
<circle cx="612.5" cy="202.6" r="1.15" fill="#ce914e"/>
<circle cx="615.7" cy="199.84" r="1.15" fill="#ce914e"/>
<circle cx="618.9" cy="198.46" r="1.15" fill="#ce914e"/>
<circle cx="622.3" cy="216.4" r="1.15" fill="#ce914e"/>
<circle cx="632.2" cy="227.44" r="1.15" fill="#ce914e"/>
<circle cx="635.5" cy="223.3" r="1.15" fill="#ce914e"/>
<circle cx="638.8" cy="215.2" r="1.15" fill="#ce914e"/>
<circle cx="651.2" cy="230.2" r="1.15" fill="#ce914e"/>
<circle cx="654.5" cy="205.64" r="1.15" fill="#ce914e"/>
<circle cx="657.7" cy="212.71" r="1.15" fill="#ce914e"/>
<circle cx="660.8" cy="221.99" r="1.15" fill="#ce914e"/>
<circle cx="663.9" cy="220.35" r="1.15" fill="#ce914e"/>
<circle cx="667" cy="217.1" r="1.15" fill="#ce914e"/>
<circle cx="60.8" cy="167.16" r="1.15" fill="#4d8a6d"/>
<circle cx="64.3" cy="156.49" r="1.15" fill="#4d8a6d"/>
<circle cx="67.8" cy="159.91" r="1.15" fill="#4d8a6d"/>
<circle cx="70.9" cy="177.96" r="1.15" fill="#4d8a6d"/>
<circle cx="74.2" cy="202.19" r="1.15" fill="#4d8a6d"/>
<circle cx="77.2" cy="206.65" r="1.15" fill="#4d8a6d"/>
<circle cx="80.7" cy="212.62" r="1.15" fill="#4d8a6d"/>
<circle cx="84.2" cy="220.49" r="1.15" fill="#4d8a6d"/>
<circle cx="87.2" cy="223.5" r="1.15" fill="#4d8a6d"/>
<circle cx="90" cy="209.37" r="1.15" fill="#4d8a6d"/>
<circle cx="92.8" cy="220.53" r="1.15" fill="#4d8a6d"/>
<circle cx="95.9" cy="230.4" r="1.15" fill="#4d8a6d"/>
<circle cx="99.4" cy="226.34" r="1.15" fill="#4d8a6d"/>
<circle cx="102.9" cy="225.23" r="1.15" fill="#4d8a6d"/>
<circle cx="106.4" cy="225.23" r="1.15" fill="#4d8a6d"/>
<circle cx="109.2" cy="222.89" r="1.15" fill="#4d8a6d"/>
<circle cx="112.2" cy="229.79" r="1.15" fill="#4d8a6d"/>
<circle cx="115.3" cy="223.99" r="1.15" fill="#4d8a6d"/>
<circle cx="118.5" cy="219.3" r="1.15" fill="#4d8a6d"/>
<circle cx="121.6" cy="220.54" r="1.15" fill="#4d8a6d"/>
<circle cx="125" cy="221.78" r="1.15" fill="#4d8a6d"/>
<circle cx="128.6" cy="221.78" r="1.15" fill="#4d8a6d"/>
<circle cx="131.6" cy="223.99" r="1.15" fill="#4d8a6d"/>
<circle cx="134.4" cy="228.96" r="1.15" fill="#4d8a6d"/>
<circle cx="137.2" cy="222.38" r="1.15" fill="#4d8a6d"/>
<circle cx="140.3" cy="220.18" r="1.15" fill="#4d8a6d"/>
<circle cx="143.8" cy="215.08" r="1.15" fill="#4d8a6d"/>
<circle cx="147.3" cy="207.81" r="1.15" fill="#4d8a6d"/>
<circle cx="150.3" cy="215.29" r="1.15" fill="#4d8a6d"/>
<circle cx="153.1" cy="189.51" r="1.15" fill="#4d8a6d"/>
<circle cx="155.9" cy="190.44" r="1.15" fill="#4d8a6d"/>
<circle cx="159" cy="216.61" r="1.15" fill="#4d8a6d"/>
<circle cx="162.5" cy="226.59" r="1.15" fill="#4d8a6d"/>
<circle cx="166" cy="223.62" r="1.15" fill="#4d8a6d"/>
<circle cx="169.5" cy="218.08" r="1.15" fill="#4d8a6d"/>
<circle cx="172.3" cy="168.66" r="1.15" fill="#4d8a6d"/>
<circle cx="175.3" cy="166.11" r="1.15" fill="#4d8a6d"/>
<circle cx="178.8" cy="196.65" r="1.15" fill="#4d8a6d"/>
<circle cx="182.3" cy="176.56" r="1.15" fill="#4d8a6d"/>
<circle cx="185.1" cy="184.74" r="1.15" fill="#4d8a6d"/>
<circle cx="188.1" cy="206.65" r="1.15" fill="#4d8a6d"/>
<circle cx="191.2" cy="213.24" r="1.15" fill="#4d8a6d"/>
<circle cx="194.5" cy="215.03" r="1.15" fill="#4d8a6d"/>
<circle cx="197.5" cy="203.57" r="1.15" fill="#4d8a6d"/>
<circle cx="201" cy="202.61" r="1.15" fill="#4d8a6d"/>
<circle cx="204" cy="218.86" r="1.15" fill="#4d8a6d"/>
<circle cx="206.8" cy="231.04" r="1.15" fill="#4d8a6d"/>
<circle cx="210.3" cy="225.84" r="1.15" fill="#4d8a6d"/>
<circle cx="213.8" cy="222.32" r="1.15" fill="#4d8a6d"/>
<circle cx="216.7" cy="233.51" r="1.15" fill="#4d8a6d"/>
<circle cx="219.5" cy="226.02" r="1.15" fill="#4d8a6d"/>
<circle cx="222.5" cy="216.77" r="1.15" fill="#4d8a6d"/>
<circle cx="226" cy="202.59" r="1.15" fill="#4d8a6d"/>
<circle cx="229" cy="206.45" r="1.15" fill="#4d8a6d"/>
<circle cx="231.9" cy="210.75" r="1.15" fill="#4d8a6d"/>
<circle cx="235.4" cy="228.79" r="1.15" fill="#4d8a6d"/>
<circle cx="238.9" cy="220.09" r="1.15" fill="#4d8a6d"/>
<circle cx="242.4" cy="219.06" r="1.15" fill="#4d8a6d"/>
<circle cx="245.2" cy="207.52" r="1.15" fill="#4d8a6d"/>
<circle cx="248.4" cy="192.04" r="1.15" fill="#4d8a6d"/>
<circle cx="251.7" cy="229.42" r="1.15" fill="#4d8a6d"/>
<circle cx="254.8" cy="233.21" r="1.15" fill="#4d8a6d"/>
<circle cx="258.3" cy="240.73" r="1.15" fill="#4d8a6d"/>
<circle cx="261.5" cy="247.92" r="1.15" fill="#4d8a6d"/>
<circle cx="264.6" cy="242.03" r="1.15" fill="#4d8a6d"/>
<circle cx="267.6" cy="226.99" r="1.15" fill="#4d8a6d"/>
<circle cx="270.9" cy="216.82" r="1.15" fill="#4d8a6d"/>
<circle cx="273.9" cy="210.19" r="1.15" fill="#4d8a6d"/>
<circle cx="276.9" cy="198.74" r="1.15" fill="#4d8a6d"/>
<circle cx="280.2" cy="208.66" r="1.15" fill="#4d8a6d"/>
<circle cx="283.3" cy="205.64" r="1.15" fill="#4d8a6d"/>
<circle cx="286.3" cy="206.85" r="1.15" fill="#4d8a6d"/>
<circle cx="289.6" cy="219.4" r="1.15" fill="#4d8a6d"/>
<circle cx="292.6" cy="220.3" r="1.15" fill="#4d8a6d"/>
<circle cx="296.1" cy="232.67" r="1.15" fill="#4d8a6d"/>
<circle cx="299.1" cy="216.41" r="1.15" fill="#4d8a6d"/>
<circle cx="302.2" cy="204.32" r="1.15" fill="#4d8a6d"/>
<circle cx="305.4" cy="202.41" r="1.15" fill="#4d8a6d"/>
<circle cx="308.5" cy="169.26" r="1.15" fill="#4d8a6d"/>
<circle cx="311.8" cy="153.27" r="1.15" fill="#4d8a6d"/>
<circle cx="314.8" cy="158.17" r="1.15" fill="#4d8a6d"/>
<circle cx="318.3" cy="161.61" r="1.15" fill="#4d8a6d"/>
<circle cx="321.3" cy="158.94" r="1.15" fill="#4d8a6d"/>
<circle cx="324.6" cy="154.62" r="1.15" fill="#4d8a6d"/>
<circle cx="327.6" cy="160.13" r="1.15" fill="#4d8a6d"/>
<circle cx="331.1" cy="172.67" r="1.15" fill="#4d8a6d"/>
<circle cx="334.2" cy="174.29" r="1.15" fill="#4d8a6d"/>
<circle cx="337.4" cy="159.86" r="1.15" fill="#4d8a6d"/>
<circle cx="340.5" cy="169.14" r="1.15" fill="#4d8a6d"/>
<circle cx="344" cy="190.08" r="1.15" fill="#4d8a6d"/>
<circle cx="346.8" cy="184.25" r="1.15" fill="#4d8a6d"/>
<circle cx="349.8" cy="172.65" r="1.15" fill="#4d8a6d"/>
<circle cx="353.3" cy="171.41" r="1.15" fill="#4d8a6d"/>
<circle cx="356.4" cy="177.91" r="1.15" fill="#4d8a6d"/>
<circle cx="359.7" cy="155.19" r="1.15" fill="#4d8a6d"/>
<circle cx="362.7" cy="160.07" r="1.15" fill="#4d8a6d"/>
<circle cx="366" cy="177.12" r="1.15" fill="#4d8a6d"/>
<circle cx="369" cy="209.32" r="1.15" fill="#4d8a6d"/>
<circle cx="372.5" cy="213.94" r="1.15" fill="#4d8a6d"/>
<circle cx="375.6" cy="217.24" r="1.15" fill="#4d8a6d"/>
<circle cx="378.4" cy="213.65" r="1.15" fill="#4d8a6d"/>
<circle cx="381.9" cy="207.9" r="1.15" fill="#4d8a6d"/>
<circle cx="384.9" cy="223.5" r="1.15" fill="#4d8a6d"/>
<circle cx="388.2" cy="223.57" r="1.15" fill="#4d8a6d"/>
<circle cx="391.2" cy="223.5" r="1.15" fill="#4d8a6d"/>
<circle cx="394.2" cy="228.3" r="1.15" fill="#4d8a6d"/>
<circle cx="397.5" cy="231.01" r="1.15" fill="#4d8a6d"/>
<circle cx="400.5" cy="217.69" r="1.15" fill="#4d8a6d"/>
<circle cx="404" cy="224.82" r="1.15" fill="#4d8a6d"/>
<circle cx="406.9" cy="213.35" r="1.15" fill="#4d8a6d"/>
<circle cx="409.9" cy="208.92" r="1.15" fill="#4d8a6d"/>
<circle cx="412.9" cy="220.76" r="1.15" fill="#4d8a6d"/>
<circle cx="416.2" cy="214.74" r="1.15" fill="#4d8a6d"/>
<circle cx="419.2" cy="214.79" r="1.15" fill="#4d8a6d"/>
<circle cx="422.7" cy="221.27" r="1.15" fill="#4d8a6d"/>
<circle cx="425.8" cy="225.08" r="1.15" fill="#4d8a6d"/>
<circle cx="429.3" cy="219.17" r="1.15" fill="#4d8a6d"/>
<circle cx="432.6" cy="219.6" r="1.15" fill="#4d8a6d"/>
<circle cx="441.4" cy="188.8" r="1.15" fill="#4d8a6d"/>
<circle cx="445" cy="188.8" r="1.15" fill="#4d8a6d"/>
<circle cx="455.4" cy="217.78" r="1.15" fill="#4d8a6d"/>
<circle cx="459" cy="212.26" r="1.15" fill="#4d8a6d"/>
<circle cx="462.5" cy="206.74" r="1.15" fill="#4d8a6d"/>
<circle cx="465.3" cy="206.74" r="1.15" fill="#4d8a6d"/>
<circle cx="468.2" cy="206.74" r="1.15" fill="#4d8a6d"/>
<circle cx="471.1" cy="209.5" r="1.15" fill="#4d8a6d"/>
<circle cx="474.1" cy="223.3" r="1.15" fill="#4d8a6d"/>
<circle cx="476.9" cy="227.44" r="1.15" fill="#4d8a6d"/>
<circle cx="480" cy="211.04" r="1.15" fill="#4d8a6d"/>
<circle cx="483" cy="184.61" r="1.15" fill="#4d8a6d"/>
<circle cx="486.3" cy="158.66" r="1.15" fill="#4d8a6d"/>
<circle cx="489.3" cy="180.96" r="1.15" fill="#4d8a6d"/>
<circle cx="492.8" cy="214.55" r="1.15" fill="#4d8a6d"/>
<circle cx="495.9" cy="212.45" r="1.15" fill="#4d8a6d"/>
<circle cx="499.1" cy="195.28" r="1.15" fill="#4d8a6d"/>
<circle cx="502.2" cy="212.47" r="1.15" fill="#4d8a6d"/>
<circle cx="505.2" cy="206.39" r="1.15" fill="#4d8a6d"/>
<circle cx="508.5" cy="178.23" r="1.15" fill="#4d8a6d"/>
<circle cx="511.6" cy="166.09" r="1.15" fill="#4d8a6d"/>
<circle cx="515.2" cy="186.04" r="1.15" fill="#4d8a6d"/>
<circle cx="518.3" cy="187.05" r="1.15" fill="#4d8a6d"/>
<circle cx="521.6" cy="192.77" r="1.15" fill="#4d8a6d"/>
<circle cx="524.9" cy="180.96" r="1.15" fill="#4d8a6d"/>
<circle cx="528" cy="179.75" r="1.15" fill="#4d8a6d"/>
<circle cx="531.3" cy="188.8" r="1.15" fill="#4d8a6d"/>
<circle cx="534.4" cy="202.6" r="1.15" fill="#4d8a6d"/>
<circle cx="537.7" cy="208.12" r="1.15" fill="#4d8a6d"/>
<circle cx="540.8" cy="202.6" r="1.15" fill="#4d8a6d"/>
<circle cx="543.8" cy="199.84" r="1.15" fill="#4d8a6d"/>
<circle cx="547.7" cy="205.36" r="1.15" fill="#4d8a6d"/>
<circle cx="550.2" cy="216.4" r="1.15" fill="#4d8a6d"/>
<circle cx="553.5" cy="212.26" r="1.15" fill="#4d8a6d"/>
<circle cx="556.9" cy="206.74" r="1.15" fill="#4d8a6d"/>
<circle cx="559.9" cy="209.5" r="1.15" fill="#4d8a6d"/>
<circle cx="563" cy="216.4" r="1.15" fill="#4d8a6d"/>
<circle cx="565.9" cy="219.16" r="1.15" fill="#4d8a6d"/>
<circle cx="572.2" cy="208.5" r="1.15" fill="#4d8a6d"/>
<circle cx="575.3" cy="201.98" r="1.15" fill="#4d8a6d"/>
<circle cx="578.6" cy="206.22" r="1.15" fill="#4d8a6d"/>
<circle cx="581.7" cy="217.84" r="1.15" fill="#4d8a6d"/>
<circle cx="584.7" cy="230.2" r="1.15" fill="#4d8a6d"/>
<circle cx="588" cy="230.2" r="1.15" fill="#4d8a6d"/>
<circle cx="597" cy="228.83" r="1.15" fill="#4d8a6d"/>
<circle cx="600" cy="225" r="1.15" fill="#4d8a6d"/>
<circle cx="603.4" cy="221.33" r="1.15" fill="#4d8a6d"/>
<circle cx="612.5" cy="206.74" r="1.15" fill="#4d8a6d"/>
<circle cx="615.7" cy="209.5" r="1.15" fill="#4d8a6d"/>
<circle cx="618.9" cy="209.5" r="1.15" fill="#4d8a6d"/>
<circle cx="622.3" cy="210.88" r="1.15" fill="#4d8a6d"/>
<circle cx="632.2" cy="216.4" r="1.15" fill="#4d8a6d"/>
<circle cx="635.5" cy="221.92" r="1.15" fill="#4d8a6d"/>
<circle cx="638.8" cy="216.22" r="1.15" fill="#4d8a6d"/>
<circle cx="651.2" cy="220.54" r="1.15" fill="#4d8a6d"/>
<circle cx="654.5" cy="172.24" r="1.15" fill="#4d8a6d"/>
<circle cx="657.7" cy="172.24" r="1.15" fill="#4d8a6d"/>
<circle cx="660.8" cy="182.59" r="1.15" fill="#4d8a6d"/>
<circle cx="663.9" cy="202.6" r="1.15" fill="#4d8a6d"/>
<circle cx="667" cy="210.19" r="1.15" fill="#4d8a6d"/>
<circle cx="60.8" cy="164.24" r="1.15" fill="#58aca8"/>
<circle cx="64.3" cy="157.92" r="1.15" fill="#58aca8"/>
<circle cx="67.8" cy="163.52" r="1.15" fill="#58aca8"/>
<circle cx="70.9" cy="181.84" r="1.15" fill="#58aca8"/>
<circle cx="74.2" cy="208.5" r="1.15" fill="#58aca8"/>
<circle cx="77.2" cy="212.22" r="1.15" fill="#58aca8"/>
<circle cx="80.7" cy="217.64" r="1.15" fill="#58aca8"/>
<circle cx="84.2" cy="224.42" r="1.15" fill="#58aca8"/>
<circle cx="87.2" cy="225.01" r="1.15" fill="#58aca8"/>
<circle cx="90" cy="213.1" r="1.15" fill="#58aca8"/>
<circle cx="92.8" cy="216.43" r="1.15" fill="#58aca8"/>
<circle cx="95.9" cy="228.35" r="1.15" fill="#58aca8"/>
<circle cx="99.4" cy="213.23" r="1.15" fill="#58aca8"/>
<circle cx="102.9" cy="212.12" r="1.15" fill="#58aca8"/>
<circle cx="106.4" cy="212.12" r="1.15" fill="#58aca8"/>
<circle cx="109.2" cy="209.78" r="1.15" fill="#58aca8"/>
<circle cx="112.2" cy="216.68" r="1.15" fill="#58aca8"/>
<circle cx="115.3" cy="210.88" r="1.15" fill="#58aca8"/>
<circle cx="118.5" cy="206.19" r="1.15" fill="#58aca8"/>
<circle cx="121.6" cy="207.43" r="1.15" fill="#58aca8"/>
<circle cx="125" cy="208.67" r="1.15" fill="#58aca8"/>
<circle cx="128.6" cy="208.67" r="1.15" fill="#58aca8"/>
<circle cx="131.6" cy="210.88" r="1.15" fill="#58aca8"/>
<circle cx="134.4" cy="232.27" r="1.15" fill="#58aca8"/>
<circle cx="137.2" cy="223.62" r="1.15" fill="#58aca8"/>
<circle cx="140.3" cy="221.56" r="1.15" fill="#58aca8"/>
<circle cx="143.8" cy="214.17" r="1.15" fill="#58aca8"/>
<circle cx="147.3" cy="209.24" r="1.15" fill="#58aca8"/>
<circle cx="150.3" cy="211.79" r="1.15" fill="#58aca8"/>
<circle cx="153.1" cy="189.93" r="1.15" fill="#58aca8"/>
<circle cx="155.9" cy="193.13" r="1.15" fill="#58aca8"/>
<circle cx="159" cy="222.12" r="1.15" fill="#58aca8"/>
<circle cx="162.5" cy="232.44" r="1.15" fill="#58aca8"/>
<circle cx="166" cy="226.75" r="1.15" fill="#58aca8"/>
<circle cx="169.5" cy="222.03" r="1.15" fill="#58aca8"/>
<circle cx="172.3" cy="165.54" r="1.15" fill="#58aca8"/>
<circle cx="175.3" cy="166.37" r="1.15" fill="#58aca8"/>
<circle cx="178.8" cy="202.69" r="1.15" fill="#58aca8"/>
<circle cx="182.3" cy="182.54" r="1.15" fill="#58aca8"/>
<circle cx="185.1" cy="181.1" r="1.15" fill="#58aca8"/>
<circle cx="188.1" cy="206.81" r="1.15" fill="#58aca8"/>
<circle cx="191.2" cy="216.02" r="1.15" fill="#58aca8"/>
<circle cx="194.5" cy="214.6" r="1.15" fill="#58aca8"/>
<circle cx="197.5" cy="203.45" r="1.15" fill="#58aca8"/>
<circle cx="201" cy="200.05" r="1.15" fill="#58aca8"/>
<circle cx="204" cy="220.68" r="1.15" fill="#58aca8"/>
<circle cx="206.8" cy="223.41" r="1.15" fill="#58aca8"/>
<circle cx="210.3" cy="226.33" r="1.15" fill="#58aca8"/>
<circle cx="213.8" cy="222.25" r="1.15" fill="#58aca8"/>
<circle cx="216.7" cy="228.94" r="1.15" fill="#58aca8"/>
<circle cx="219.5" cy="225.21" r="1.15" fill="#58aca8"/>
<circle cx="222.5" cy="215.23" r="1.15" fill="#58aca8"/>
<circle cx="226" cy="196.33" r="1.15" fill="#58aca8"/>
<circle cx="229" cy="208.31" r="1.15" fill="#58aca8"/>
<circle cx="231.9" cy="213.16" r="1.15" fill="#58aca8"/>
<circle cx="235.4" cy="227.38" r="1.15" fill="#58aca8"/>
<circle cx="238.9" cy="224" r="1.15" fill="#58aca8"/>
<circle cx="242.4" cy="219.69" r="1.15" fill="#58aca8"/>
<circle cx="245.2" cy="209.07" r="1.15" fill="#58aca8"/>
<circle cx="248.4" cy="192.05" r="1.15" fill="#58aca8"/>
<circle cx="251.7" cy="234.42" r="1.15" fill="#58aca8"/>
<circle cx="254.8" cy="230.16" r="1.15" fill="#58aca8"/>
<circle cx="258.3" cy="240.26" r="1.15" fill="#58aca8"/>
<circle cx="261.5" cy="244.92" r="1.15" fill="#58aca8"/>
<circle cx="264.6" cy="245.31" r="1.15" fill="#58aca8"/>
<circle cx="267.6" cy="225.35" r="1.15" fill="#58aca8"/>
<circle cx="270.9" cy="218.31" r="1.15" fill="#58aca8"/>
<circle cx="273.9" cy="208.42" r="1.15" fill="#58aca8"/>
<circle cx="276.9" cy="215.71" r="1.15" fill="#58aca8"/>
<circle cx="280.2" cy="216.95" r="1.15" fill="#58aca8"/>
<circle cx="283.3" cy="219.16" r="1.15" fill="#58aca8"/>
<circle cx="286.3" cy="213.48" r="1.15" fill="#58aca8"/>
<circle cx="289.6" cy="217.76" r="1.15" fill="#58aca8"/>
<circle cx="292.6" cy="220.65" r="1.15" fill="#58aca8"/>
<circle cx="296.1" cy="236.64" r="1.15" fill="#58aca8"/>
<circle cx="299.1" cy="217.45" r="1.15" fill="#58aca8"/>
<circle cx="302.2" cy="205.01" r="1.15" fill="#58aca8"/>
<circle cx="305.4" cy="204.65" r="1.15" fill="#58aca8"/>
<circle cx="308.5" cy="168.03" r="1.15" fill="#58aca8"/>
<circle cx="311.8" cy="154.31" r="1.15" fill="#58aca8"/>
<circle cx="314.8" cy="160.8" r="1.15" fill="#58aca8"/>
<circle cx="318.3" cy="163.32" r="1.15" fill="#58aca8"/>
<circle cx="321.3" cy="162.71" r="1.15" fill="#58aca8"/>
<circle cx="324.6" cy="157.02" r="1.15" fill="#58aca8"/>
<circle cx="327.6" cy="159.12" r="1.15" fill="#58aca8"/>
<circle cx="331.1" cy="176.64" r="1.15" fill="#58aca8"/>
<circle cx="334.2" cy="178.78" r="1.15" fill="#58aca8"/>
<circle cx="337.4" cy="166.19" r="1.15" fill="#58aca8"/>
<circle cx="340.5" cy="170.12" r="1.15" fill="#58aca8"/>
<circle cx="344" cy="188.16" r="1.15" fill="#58aca8"/>
<circle cx="346.8" cy="193.96" r="1.15" fill="#58aca8"/>
<circle cx="349.8" cy="183.82" r="1.15" fill="#58aca8"/>
<circle cx="353.3" cy="183" r="1.15" fill="#58aca8"/>
<circle cx="356.4" cy="176.53" r="1.15" fill="#58aca8"/>
<circle cx="359.7" cy="169.48" r="1.15" fill="#58aca8"/>
<circle cx="362.7" cy="169.48" r="1.15" fill="#58aca8"/>
<circle cx="366" cy="179.89" r="1.15" fill="#58aca8"/>
<circle cx="369" cy="213.78" r="1.15" fill="#58aca8"/>
<circle cx="372.5" cy="215.59" r="1.15" fill="#58aca8"/>
<circle cx="375.6" cy="224.12" r="1.15" fill="#58aca8"/>
<circle cx="378.4" cy="208.63" r="1.15" fill="#58aca8"/>
<circle cx="381.9" cy="209.51" r="1.15" fill="#58aca8"/>
<circle cx="384.9" cy="230.1" r="1.15" fill="#58aca8"/>
<circle cx="388.2" cy="223.42" r="1.15" fill="#58aca8"/>
<circle cx="391.2" cy="226.51" r="1.15" fill="#58aca8"/>
<circle cx="394.2" cy="238.06" r="1.15" fill="#58aca8"/>
<circle cx="397.5" cy="233.38" r="1.15" fill="#58aca8"/>
<circle cx="400.5" cy="220" r="1.15" fill="#58aca8"/>
<circle cx="404" cy="228.36" r="1.15" fill="#58aca8"/>
<circle cx="406.9" cy="218.45" r="1.15" fill="#58aca8"/>
<circle cx="409.9" cy="209.29" r="1.15" fill="#58aca8"/>
<circle cx="412.9" cy="219.26" r="1.15" fill="#58aca8"/>
<circle cx="416.2" cy="219.6" r="1.15" fill="#58aca8"/>
<circle cx="419.2" cy="216.96" r="1.15" fill="#58aca8"/>
<circle cx="422.7" cy="216.32" r="1.15" fill="#58aca8"/>
<circle cx="425.8" cy="220.57" r="1.15" fill="#58aca8"/>
<circle cx="429.3" cy="227.62" r="1.15" fill="#58aca8"/>
<circle cx="432.6" cy="224.49" r="1.15" fill="#58aca8"/>
<circle cx="441.4" cy="206.74" r="1.15" fill="#58aca8"/>
<circle cx="445" cy="206.74" r="1.15" fill="#58aca8"/>
<circle cx="455.4" cy="202.6" r="1.15" fill="#58aca8"/>
<circle cx="459" cy="209.5" r="1.15" fill="#58aca8"/>
<circle cx="462.5" cy="208.12" r="1.15" fill="#58aca8"/>
<circle cx="465.3" cy="199.84" r="1.15" fill="#58aca8"/>
<circle cx="468.2" cy="192.94" r="1.15" fill="#58aca8"/>
<circle cx="471.1" cy="199.84" r="1.15" fill="#58aca8"/>
<circle cx="474.1" cy="220.54" r="1.15" fill="#58aca8"/>
<circle cx="476.9" cy="224.68" r="1.15" fill="#58aca8"/>
<circle cx="480" cy="212.34" r="1.15" fill="#58aca8"/>
<circle cx="483" cy="188.86" r="1.15" fill="#58aca8"/>
<circle cx="486.3" cy="165.92" r="1.15" fill="#58aca8"/>
<circle cx="489.3" cy="179.76" r="1.15" fill="#58aca8"/>
<circle cx="492.8" cy="219.23" r="1.15" fill="#58aca8"/>
<circle cx="495.9" cy="215.34" r="1.15" fill="#58aca8"/>
<circle cx="499.1" cy="198.35" r="1.15" fill="#58aca8"/>
<circle cx="502.2" cy="213.91" r="1.15" fill="#58aca8"/>
<circle cx="505.2" cy="210.28" r="1.15" fill="#58aca8"/>
<circle cx="508.5" cy="176.04" r="1.15" fill="#58aca8"/>
<circle cx="511.6" cy="166.3" r="1.15" fill="#58aca8"/>
<circle cx="515.2" cy="184.05" r="1.15" fill="#58aca8"/>
<circle cx="518.3" cy="187.42" r="1.15" fill="#58aca8"/>
<circle cx="521.6" cy="193.2" r="1.15" fill="#58aca8"/>
<circle cx="524.9" cy="178.63" r="1.15" fill="#58aca8"/>
<circle cx="528" cy="184.33" r="1.15" fill="#58aca8"/>
<circle cx="531.3" cy="197.08" r="1.15" fill="#58aca8"/>
<circle cx="534.4" cy="199.84" r="1.15" fill="#58aca8"/>
<circle cx="537.7" cy="209.5" r="1.15" fill="#58aca8"/>
<circle cx="540.8" cy="216.4" r="1.15" fill="#58aca8"/>
<circle cx="543.8" cy="202.6" r="1.15" fill="#58aca8"/>
<circle cx="547.7" cy="213.64" r="1.15" fill="#58aca8"/>
<circle cx="550.2" cy="220.54" r="1.15" fill="#58aca8"/>
<circle cx="553.5" cy="216.4" r="1.15" fill="#58aca8"/>
<circle cx="556.9" cy="209.5" r="1.15" fill="#58aca8"/>
<circle cx="559.9" cy="202.6" r="1.15" fill="#58aca8"/>
<circle cx="563" cy="213.64" r="1.15" fill="#58aca8"/>
<circle cx="565.9" cy="216.4" r="1.15" fill="#58aca8"/>
<circle cx="572.2" cy="206.92" r="1.15" fill="#58aca8"/>
<circle cx="575.3" cy="197.75" r="1.15" fill="#58aca8"/>
<circle cx="578.6" cy="212.47" r="1.15" fill="#58aca8"/>
<circle cx="581.7" cy="216.51" r="1.15" fill="#58aca8"/>
<circle cx="584.7" cy="230.2" r="1.15" fill="#58aca8"/>
<circle cx="588" cy="230.2" r="1.15" fill="#58aca8"/>
<circle cx="597" cy="225.84" r="1.15" fill="#58aca8"/>
<circle cx="600" cy="226.42" r="1.15" fill="#58aca8"/>
<circle cx="603.4" cy="225.76" r="1.15" fill="#58aca8"/>
<circle cx="612.5" cy="213.64" r="1.15" fill="#58aca8"/>
<circle cx="615.7" cy="208.12" r="1.15" fill="#58aca8"/>
<circle cx="618.9" cy="208.12" r="1.15" fill="#58aca8"/>
<circle cx="622.3" cy="209.5" r="1.15" fill="#58aca8"/>
<circle cx="632.2" cy="242.62" r="1.15" fill="#58aca8"/>
<circle cx="635.5" cy="216.4" r="1.15" fill="#58aca8"/>
<circle cx="638.8" cy="224.81" r="1.15" fill="#58aca8"/>
<circle cx="651.2" cy="224.68" r="1.15" fill="#58aca8"/>
<circle cx="654.5" cy="214.6" r="1.15" fill="#58aca8"/>
<circle cx="657.7" cy="214.83" r="1.15" fill="#58aca8"/>
<circle cx="660.8" cy="226.77" r="1.15" fill="#58aca8"/>
<circle cx="663.9" cy="224.43" r="1.15" fill="#58aca8"/>
<circle cx="667" cy="220.75" r="1.15" fill="#58aca8"/>
<circle cx="60.8" cy="171.69" r="1.15" fill="#3a6584"/>
<circle cx="64.3" cy="163.04" r="1.15" fill="#3a6584"/>
<circle cx="67.8" cy="162.36" r="1.15" fill="#3a6584"/>
<circle cx="70.9" cy="183.13" r="1.15" fill="#3a6584"/>
<circle cx="74.2" cy="202.97" r="1.15" fill="#3a6584"/>
<circle cx="77.2" cy="214.88" r="1.15" fill="#3a6584"/>
<circle cx="80.7" cy="221.1" r="1.15" fill="#3a6584"/>
<circle cx="84.2" cy="226.39" r="1.15" fill="#3a6584"/>
<circle cx="87.2" cy="224.46" r="1.15" fill="#3a6584"/>
<circle cx="90" cy="214.23" r="1.15" fill="#3a6584"/>
<circle cx="92.8" cy="218.34" r="1.15" fill="#3a6584"/>
<circle cx="95.9" cy="223.99" r="1.15" fill="#3a6584"/>
<circle cx="99.4" cy="223.99" r="1.15" fill="#3a6584"/>
<circle cx="102.9" cy="223.99" r="1.15" fill="#3a6584"/>
<circle cx="106.4" cy="223.99" r="1.15" fill="#3a6584"/>
<circle cx="109.2" cy="223.99" r="1.15" fill="#3a6584"/>
<circle cx="112.2" cy="223.99" r="1.15" fill="#3a6584"/>
<circle cx="115.3" cy="223.99" r="1.15" fill="#3a6584"/>
<circle cx="118.5" cy="221.6" r="1.15" fill="#3a6584"/>
<circle cx="121.6" cy="223.99" r="1.15" fill="#3a6584"/>
<circle cx="125" cy="223.99" r="1.15" fill="#3a6584"/>
<circle cx="128.6" cy="223.99" r="1.15" fill="#3a6584"/>
<circle cx="131.6" cy="223.99" r="1.15" fill="#3a6584"/>
<circle cx="134.4" cy="223.99" r="1.15" fill="#3a6584"/>
<circle cx="137.2" cy="223.99" r="1.15" fill="#3a6584"/>
<circle cx="140.3" cy="220.03" r="1.15" fill="#3a6584"/>
<circle cx="143.8" cy="214.77" r="1.15" fill="#3a6584"/>
<circle cx="147.3" cy="210.96" r="1.15" fill="#3a6584"/>
<circle cx="150.3" cy="213.59" r="1.15" fill="#3a6584"/>
<circle cx="153.1" cy="192.18" r="1.15" fill="#3a6584"/>
<circle cx="155.9" cy="195.21" r="1.15" fill="#3a6584"/>
<circle cx="159" cy="220.69" r="1.15" fill="#3a6584"/>
<circle cx="162.5" cy="226.96" r="1.15" fill="#3a6584"/>
<circle cx="166" cy="226.89" r="1.15" fill="#3a6584"/>
<circle cx="169.5" cy="222.24" r="1.15" fill="#3a6584"/>
<circle cx="172.3" cy="171.14" r="1.15" fill="#3a6584"/>
<circle cx="175.3" cy="165.39" r="1.15" fill="#3a6584"/>
<circle cx="178.8" cy="198.95" r="1.15" fill="#3a6584"/>
<circle cx="182.3" cy="183.4" r="1.15" fill="#3a6584"/>
<circle cx="185.1" cy="185.76" r="1.15" fill="#3a6584"/>
<circle cx="188.1" cy="207.75" r="1.15" fill="#3a6584"/>
<circle cx="191.2" cy="213.25" r="1.15" fill="#3a6584"/>
<circle cx="194.5" cy="212.27" r="1.15" fill="#3a6584"/>
<circle cx="197.5" cy="206.33" r="1.15" fill="#3a6584"/>
<circle cx="201" cy="196.46" r="1.15" fill="#3a6584"/>
<circle cx="204" cy="222.54" r="1.15" fill="#3a6584"/>
<circle cx="206.8" cy="224.99" r="1.15" fill="#3a6584"/>
<circle cx="210.3" cy="228.4" r="1.15" fill="#3a6584"/>
<circle cx="213.8" cy="220.27" r="1.15" fill="#3a6584"/>
<circle cx="216.7" cy="236.6" r="1.15" fill="#3a6584"/>
<circle cx="219.5" cy="231.55" r="1.15" fill="#3a6584"/>
<circle cx="222.5" cy="217.61" r="1.15" fill="#3a6584"/>
<circle cx="226" cy="198.01" r="1.15" fill="#3a6584"/>
<circle cx="229" cy="200.98" r="1.15" fill="#3a6584"/>
<circle cx="231.9" cy="212.75" r="1.15" fill="#3a6584"/>
<circle cx="235.4" cy="226.78" r="1.15" fill="#3a6584"/>
<circle cx="238.9" cy="222.19" r="1.15" fill="#3a6584"/>
<circle cx="242.4" cy="220.66" r="1.15" fill="#3a6584"/>
<circle cx="245.2" cy="209.96" r="1.15" fill="#3a6584"/>
<circle cx="248.4" cy="195.24" r="1.15" fill="#3a6584"/>
<circle cx="251.7" cy="233.42" r="1.15" fill="#3a6584"/>
<circle cx="254.8" cy="239.35" r="1.15" fill="#3a6584"/>
<circle cx="258.3" cy="255.04" r="1.15" fill="#3a6584"/>
<circle cx="261.5" cy="255.04" r="1.15" fill="#3a6584"/>
<circle cx="264.6" cy="245.62" r="1.15" fill="#3a6584"/>
<circle cx="267.6" cy="227.16" r="1.15" fill="#3a6584"/>
<circle cx="270.9" cy="218.72" r="1.15" fill="#3a6584"/>
<circle cx="273.9" cy="211.11" r="1.15" fill="#3a6584"/>
<circle cx="276.9" cy="202.63" r="1.15" fill="#3a6584"/>
<circle cx="280.2" cy="206.54" r="1.15" fill="#3a6584"/>
<circle cx="283.3" cy="210.7" r="1.15" fill="#3a6584"/>
<circle cx="286.3" cy="214" r="1.15" fill="#3a6584"/>
<circle cx="289.6" cy="217.93" r="1.15" fill="#3a6584"/>
<circle cx="292.6" cy="222.32" r="1.15" fill="#3a6584"/>
<circle cx="296.1" cy="240.98" r="1.15" fill="#3a6584"/>
<circle cx="299.1" cy="214.08" r="1.15" fill="#3a6584"/>
<circle cx="302.2" cy="203.8" r="1.15" fill="#3a6584"/>
<circle cx="305.4" cy="206.56" r="1.15" fill="#3a6584"/>
<circle cx="308.5" cy="168.57" r="1.15" fill="#3a6584"/>
<circle cx="311.8" cy="156.13" r="1.15" fill="#3a6584"/>
<circle cx="314.8" cy="157.61" r="1.15" fill="#3a6584"/>
<circle cx="318.3" cy="167.27" r="1.15" fill="#3a6584"/>
<circle cx="321.3" cy="159.34" r="1.15" fill="#3a6584"/>
<circle cx="324.6" cy="157.36" r="1.15" fill="#3a6584"/>
<circle cx="327.6" cy="161.45" r="1.15" fill="#3a6584"/>
<circle cx="331.1" cy="172.21" r="1.15" fill="#3a6584"/>
<circle cx="334.2" cy="175.32" r="1.15" fill="#3a6584"/>
<circle cx="337.4" cy="162.19" r="1.15" fill="#3a6584"/>
<circle cx="340.5" cy="170.79" r="1.15" fill="#3a6584"/>
<circle cx="344" cy="188.28" r="1.15" fill="#3a6584"/>
<circle cx="346.8" cy="196.09" r="1.15" fill="#3a6584"/>
<circle cx="349.8" cy="183.66" r="1.15" fill="#3a6584"/>
<circle cx="353.3" cy="179.57" r="1.15" fill="#3a6584"/>
<circle cx="356.4" cy="171.24" r="1.15" fill="#3a6584"/>
<circle cx="359.7" cy="175" r="1.15" fill="#3a6584"/>
<circle cx="362.7" cy="175" r="1.15" fill="#3a6584"/>
<circle cx="366" cy="183.13" r="1.15" fill="#3a6584"/>
<circle cx="369" cy="210.55" r="1.15" fill="#3a6584"/>
<circle cx="372.5" cy="223.71" r="1.15" fill="#3a6584"/>
<circle cx="375.6" cy="223.71" r="1.15" fill="#3a6584"/>
<circle cx="378.4" cy="215.26" r="1.15" fill="#3a6584"/>
<circle cx="381.9" cy="208.21" r="1.15" fill="#3a6584"/>
<circle cx="384.9" cy="223.13" r="1.15" fill="#3a6584"/>
<circle cx="388.2" cy="226.84" r="1.15" fill="#3a6584"/>
<circle cx="391.2" cy="232.21" r="1.15" fill="#3a6584"/>
<circle cx="394.2" cy="238.42" r="1.15" fill="#3a6584"/>
<circle cx="397.5" cy="227.03" r="1.15" fill="#3a6584"/>
<circle cx="400.5" cy="223.71" r="1.15" fill="#3a6584"/>
<circle cx="404" cy="223.71" r="1.15" fill="#3a6584"/>
<circle cx="406.9" cy="223.71" r="1.15" fill="#3a6584"/>
<circle cx="409.9" cy="223.71" r="1.15" fill="#3a6584"/>
<circle cx="412.9" cy="223.71" r="1.15" fill="#3a6584"/>
<circle cx="416.2" cy="223.71" r="1.15" fill="#3a6584"/>
<circle cx="419.2" cy="223.71" r="1.15" fill="#3a6584"/>
<circle cx="422.7" cy="223.71" r="1.15" fill="#3a6584"/>
<circle cx="425.8" cy="223.71" r="1.15" fill="#3a6584"/>
<circle cx="429.3" cy="232.96" r="1.15" fill="#3a6584"/>
<circle cx="432.6" cy="232.96" r="1.15" fill="#3a6584"/>
<circle cx="441.4" cy="223.3" r="1.15" fill="#3a6584"/>
<circle cx="445" cy="223.3" r="1.15" fill="#3a6584"/>
<circle cx="455.4" cy="221.92" r="1.15" fill="#3a6584"/>
<circle cx="459" cy="220.54" r="1.15" fill="#3a6584"/>
<circle cx="462.5" cy="226.06" r="1.15" fill="#3a6584"/>
<circle cx="465.3" cy="197.08" r="1.15" fill="#3a6584"/>
<circle cx="468.2" cy="187.42" r="1.15" fill="#3a6584"/>
<circle cx="471.1" cy="194.32" r="1.15" fill="#3a6584"/>
<circle cx="474.1" cy="219.16" r="1.15" fill="#3a6584"/>
<circle cx="476.9" cy="224.68" r="1.15" fill="#3a6584"/>
<circle cx="480" cy="212.98" r="1.15" fill="#3a6584"/>
<circle cx="483" cy="189.03" r="1.15" fill="#3a6584"/>
<circle cx="486.3" cy="171.99" r="1.15" fill="#3a6584"/>
<circle cx="489.3" cy="180.87" r="1.15" fill="#3a6584"/>
<circle cx="492.8" cy="215.37" r="1.15" fill="#3a6584"/>
<circle cx="495.9" cy="212.84" r="1.15" fill="#3a6584"/>
<circle cx="499.1" cy="186.04" r="1.15" fill="#3a6584"/>
<circle cx="502.2" cy="213.58" r="1.15" fill="#3a6584"/>
<circle cx="505.2" cy="209.71" r="1.15" fill="#3a6584"/>
<circle cx="508.5" cy="178.11" r="1.15" fill="#3a6584"/>
<circle cx="511.6" cy="165.88" r="1.15" fill="#3a6584"/>
<circle cx="515.2" cy="182.2" r="1.15" fill="#3a6584"/>
<circle cx="518.3" cy="191.62" r="1.15" fill="#3a6584"/>
<circle cx="521.6" cy="197.72" r="1.15" fill="#3a6584"/>
<circle cx="524.9" cy="177.27" r="1.15" fill="#3a6584"/>
<circle cx="528" cy="180.8" r="1.15" fill="#3a6584"/>
<circle cx="531.3" cy="194.32" r="1.15" fill="#3a6584"/>
<circle cx="534.4" cy="201.22" r="1.15" fill="#3a6584"/>
<circle cx="537.7" cy="202.6" r="1.15" fill="#3a6584"/>
<circle cx="540.8" cy="202.6" r="1.15" fill="#3a6584"/>
<circle cx="543.8" cy="194.32" r="1.15" fill="#3a6584"/>
<circle cx="547.7" cy="223.3" r="1.15" fill="#3a6584"/>
<circle cx="550.2" cy="223.3" r="1.15" fill="#3a6584"/>
<circle cx="553.5" cy="213.64" r="1.15" fill="#3a6584"/>
<circle cx="556.9" cy="205.36" r="1.15" fill="#3a6584"/>
<circle cx="559.9" cy="202.6" r="1.15" fill="#3a6584"/>
<circle cx="563" cy="223.3" r="1.15" fill="#3a6584"/>
<circle cx="565.9" cy="223.3" r="1.15" fill="#3a6584"/>
<circle cx="572.2" cy="187.42" r="1.15" fill="#3a6584"/>
<circle cx="575.3" cy="187.42" r="1.15" fill="#3a6584"/>
<circle cx="578.6" cy="187.42" r="1.15" fill="#3a6584"/>
<circle cx="581.7" cy="187.42" r="1.15" fill="#3a6584"/>
<circle cx="584.7" cy="261.94" r="1.15" fill="#3a6584"/>
<circle cx="588" cy="261.94" r="1.15" fill="#3a6584"/>
<circle cx="597" cy="228.41" r="1.15" fill="#3a6584"/>
<circle cx="600" cy="226.86" r="1.15" fill="#3a6584"/>
<circle cx="603.4" cy="225.03" r="1.15" fill="#3a6584"/>
<circle cx="612.5" cy="209.5" r="1.15" fill="#3a6584"/>
<circle cx="615.7" cy="223.3" r="1.15" fill="#3a6584"/>
<circle cx="618.9" cy="223.3" r="1.15" fill="#3a6584"/>
<circle cx="622.3" cy="223.3" r="1.15" fill="#3a6584"/>
<circle cx="632.2" cy="227.44" r="1.15" fill="#3a6584"/>
<circle cx="635.5" cy="221.92" r="1.15" fill="#3a6584"/>
<circle cx="638.8" cy="222.14" r="1.15" fill="#3a6584"/>
<circle cx="651.2" cy="230.2" r="1.15" fill="#3a6584"/>
<circle cx="654.5" cy="210.91" r="1.15" fill="#3a6584"/>
<circle cx="657.7" cy="217.87" r="1.15" fill="#3a6584"/>
<circle cx="660.8" cy="224.76" r="1.15" fill="#3a6584"/>
<circle cx="663.9" cy="229.43" r="1.15" fill="#3a6584"/>
<circle cx="667" cy="218.27" r="1.15" fill="#3a6584"/>
<circle cx="60.8" cy="167.87" r="1.15" fill="#c9696b"/>
<circle cx="64.3" cy="156.69" r="1.15" fill="#c9696b"/>
<circle cx="67.8" cy="159.85" r="1.15" fill="#c9696b"/>
<circle cx="70.9" cy="176.02" r="1.15" fill="#c9696b"/>
<circle cx="74.2" cy="198.87" r="1.15" fill="#c9696b"/>
<circle cx="77.2" cy="207.98" r="1.15" fill="#c9696b"/>
<circle cx="80.7" cy="215.85" r="1.15" fill="#c9696b"/>
<circle cx="84.2" cy="224.53" r="1.15" fill="#c9696b"/>
<circle cx="87.2" cy="222.74" r="1.15" fill="#c9696b"/>
<circle cx="90" cy="210.88" r="1.15" fill="#c9696b"/>
<circle cx="92.8" cy="214.05" r="1.15" fill="#c9696b"/>
<circle cx="95.9" cy="225.26" r="1.15" fill="#c9696b"/>
<circle cx="99.4" cy="221.55" r="1.15" fill="#c9696b"/>
<circle cx="102.9" cy="216.86" r="1.15" fill="#c9696b"/>
<circle cx="106.4" cy="223.44" r="1.15" fill="#c9696b"/>
<circle cx="109.2" cy="219.41" r="1.15" fill="#c9696b"/>
<circle cx="112.2" cy="219.78" r="1.15" fill="#c9696b"/>
<circle cx="115.3" cy="224.92" r="1.15" fill="#c9696b"/>
<circle cx="118.5" cy="217.07" r="1.15" fill="#c9696b"/>
<circle cx="121.6" cy="216.69" r="1.15" fill="#c9696b"/>
<circle cx="125" cy="217.97" r="1.15" fill="#c9696b"/>
<circle cx="128.6" cy="217.38" r="1.15" fill="#c9696b"/>
<circle cx="131.6" cy="221.1" r="1.15" fill="#c9696b"/>
<circle cx="134.4" cy="229.07" r="1.15" fill="#c9696b"/>
<circle cx="137.2" cy="220.42" r="1.15" fill="#c9696b"/>
<circle cx="140.3" cy="214.04" r="1.15" fill="#c9696b"/>
<circle cx="143.8" cy="216.84" r="1.15" fill="#c9696b"/>
<circle cx="147.3" cy="211.02" r="1.15" fill="#c9696b"/>
<circle cx="150.3" cy="210.06" r="1.15" fill="#c9696b"/>
<circle cx="153.1" cy="189.15" r="1.15" fill="#c9696b"/>
<circle cx="155.9" cy="193.87" r="1.15" fill="#c9696b"/>
<circle cx="159" cy="215.62" r="1.15" fill="#c9696b"/>
<circle cx="162.5" cy="226.76" r="1.15" fill="#c9696b"/>
<circle cx="166" cy="222.64" r="1.15" fill="#c9696b"/>
<circle cx="169.5" cy="215.34" r="1.15" fill="#c9696b"/>
<circle cx="172.3" cy="163.79" r="1.15" fill="#c9696b"/>
<circle cx="175.3" cy="159.87" r="1.15" fill="#c9696b"/>
<circle cx="178.8" cy="194.01" r="1.15" fill="#c9696b"/>
<circle cx="182.3" cy="180.65" r="1.15" fill="#c9696b"/>
<circle cx="185.1" cy="182.11" r="1.15" fill="#c9696b"/>
<circle cx="188.1" cy="202.09" r="1.15" fill="#c9696b"/>
<circle cx="191.2" cy="211.29" r="1.15" fill="#c9696b"/>
<circle cx="194.5" cy="210.29" r="1.15" fill="#c9696b"/>
<circle cx="197.5" cy="200.15" r="1.15" fill="#c9696b"/>
<circle cx="201" cy="200.52" r="1.15" fill="#c9696b"/>
<circle cx="204" cy="216.83" r="1.15" fill="#c9696b"/>
<circle cx="206.8" cy="219.76" r="1.15" fill="#c9696b"/>
<circle cx="210.3" cy="226.53" r="1.15" fill="#c9696b"/>
<circle cx="213.8" cy="219.09" r="1.15" fill="#c9696b"/>
<circle cx="216.7" cy="227.93" r="1.15" fill="#c9696b"/>
<circle cx="219.5" cy="222.72" r="1.15" fill="#c9696b"/>
<circle cx="222.5" cy="214" r="1.15" fill="#c9696b"/>
<circle cx="226" cy="193.87" r="1.15" fill="#c9696b"/>
<circle cx="229" cy="204.63" r="1.15" fill="#c9696b"/>
<circle cx="231.9" cy="210.09" r="1.15" fill="#c9696b"/>
<circle cx="235.4" cy="226.36" r="1.15" fill="#c9696b"/>
<circle cx="238.9" cy="224.71" r="1.15" fill="#c9696b"/>
<circle cx="242.4" cy="216.06" r="1.15" fill="#c9696b"/>
<circle cx="245.2" cy="205.6" r="1.15" fill="#c9696b"/>
<circle cx="248.4" cy="195.53" r="1.15" fill="#c9696b"/>
<circle cx="251.7" cy="229.42" r="1.15" fill="#c9696b"/>
<circle cx="254.8" cy="233.68" r="1.15" fill="#c9696b"/>
<circle cx="258.3" cy="239.36" r="1.15" fill="#c9696b"/>
<circle cx="261.5" cy="240.79" r="1.15" fill="#c9696b"/>
<circle cx="264.6" cy="246.27" r="1.15" fill="#c9696b"/>
<circle cx="267.6" cy="229.18" r="1.15" fill="#c9696b"/>
<circle cx="270.9" cy="211.24" r="1.15" fill="#c9696b"/>
<circle cx="273.9" cy="209.05" r="1.15" fill="#c9696b"/>
<circle cx="276.9" cy="204.31" r="1.15" fill="#c9696b"/>
<circle cx="280.2" cy="206.34" r="1.15" fill="#c9696b"/>
<circle cx="283.3" cy="208.22" r="1.15" fill="#c9696b"/>
<circle cx="286.3" cy="210.37" r="1.15" fill="#c9696b"/>
<circle cx="289.6" cy="211.88" r="1.15" fill="#c9696b"/>
<circle cx="292.6" cy="219.53" r="1.15" fill="#c9696b"/>
<circle cx="296.1" cy="235.14" r="1.15" fill="#c9696b"/>
<circle cx="299.1" cy="209.5" r="1.15" fill="#c9696b"/>
<circle cx="302.2" cy="205.47" r="1.15" fill="#c9696b"/>
<circle cx="305.4" cy="204.73" r="1.15" fill="#c9696b"/>
<circle cx="308.5" cy="164.51" r="1.15" fill="#c9696b"/>
<circle cx="311.8" cy="150.39" r="1.15" fill="#c9696b"/>
<circle cx="314.8" cy="159.85" r="1.15" fill="#c9696b"/>
<circle cx="318.3" cy="164.91" r="1.15" fill="#c9696b"/>
<circle cx="321.3" cy="156.79" r="1.15" fill="#c9696b"/>
<circle cx="324.6" cy="152.2" r="1.15" fill="#c9696b"/>
<circle cx="327.6" cy="159.44" r="1.15" fill="#c9696b"/>
<circle cx="331.1" cy="170.92" r="1.15" fill="#c9696b"/>
<circle cx="334.2" cy="176.27" r="1.15" fill="#c9696b"/>
<circle cx="337.4" cy="157.64" r="1.15" fill="#c9696b"/>
<circle cx="340.5" cy="166.03" r="1.15" fill="#c9696b"/>
<circle cx="344" cy="186.93" r="1.15" fill="#c9696b"/>
<circle cx="346.8" cy="193.36" r="1.15" fill="#c9696b"/>
<circle cx="349.8" cy="178.46" r="1.15" fill="#c9696b"/>
<circle cx="353.3" cy="176.43" r="1.15" fill="#c9696b"/>
<circle cx="356.4" cy="171.31" r="1.15" fill="#c9696b"/>
<circle cx="359.7" cy="153.28" r="1.15" fill="#c9696b"/>
<circle cx="362.7" cy="161.6" r="1.15" fill="#c9696b"/>
<circle cx="366" cy="179.52" r="1.15" fill="#c9696b"/>
<circle cx="369" cy="207.19" r="1.15" fill="#c9696b"/>
<circle cx="372.5" cy="208.85" r="1.15" fill="#c9696b"/>
<circle cx="375.6" cy="217.99" r="1.15" fill="#c9696b"/>
<circle cx="378.4" cy="207.88" r="1.15" fill="#c9696b"/>
<circle cx="381.9" cy="208.49" r="1.15" fill="#c9696b"/>
<circle cx="384.9" cy="226.4" r="1.15" fill="#c9696b"/>
<circle cx="388.2" cy="220.5" r="1.15" fill="#c9696b"/>
<circle cx="391.2" cy="226.82" r="1.15" fill="#c9696b"/>
<circle cx="394.2" cy="230.29" r="1.15" fill="#c9696b"/>
<circle cx="397.5" cy="228.99" r="1.15" fill="#c9696b"/>
<circle cx="400.5" cy="219.38" r="1.15" fill="#c9696b"/>
<circle cx="404" cy="224.04" r="1.15" fill="#c9696b"/>
<circle cx="406.9" cy="211.79" r="1.15" fill="#c9696b"/>
<circle cx="409.9" cy="207.89" r="1.15" fill="#c9696b"/>
<circle cx="412.9" cy="215" r="1.15" fill="#c9696b"/>
<circle cx="416.2" cy="218.97" r="1.15" fill="#c9696b"/>
<circle cx="419.2" cy="217.27" r="1.15" fill="#c9696b"/>
<circle cx="422.7" cy="215.97" r="1.15" fill="#c9696b"/>
<circle cx="425.8" cy="224.22" r="1.15" fill="#c9696b"/>
<circle cx="429.3" cy="223.37" r="1.15" fill="#c9696b"/>
<circle cx="432.6" cy="220.59" r="1.15" fill="#c9696b"/>
<circle cx="441.4" cy="217.78" r="1.15" fill="#c9696b"/>
<circle cx="445" cy="217.78" r="1.15" fill="#c9696b"/>
<circle cx="455.4" cy="230.2" r="1.15" fill="#c9696b"/>
<circle cx="459" cy="224.68" r="1.15" fill="#c9696b"/>
<circle cx="462.5" cy="223.3" r="1.15" fill="#c9696b"/>
<circle cx="465.3" cy="216.4" r="1.15" fill="#c9696b"/>
<circle cx="468.2" cy="220.54" r="1.15" fill="#c9696b"/>
<circle cx="471.1" cy="223.3" r="1.15" fill="#c9696b"/>
<circle cx="474.1" cy="230.2" r="1.15" fill="#c9696b"/>
<circle cx="476.9" cy="231.58" r="1.15" fill="#c9696b"/>
<circle cx="480" cy="211.83" r="1.15" fill="#c9696b"/>
<circle cx="483" cy="184.44" r="1.15" fill="#c9696b"/>
<circle cx="486.3" cy="163.14" r="1.15" fill="#c9696b"/>
<circle cx="489.3" cy="176.04" r="1.15" fill="#c9696b"/>
<circle cx="492.8" cy="212.12" r="1.15" fill="#c9696b"/>
<circle cx="495.9" cy="213.02" r="1.15" fill="#c9696b"/>
<circle cx="499.1" cy="197.64" r="1.15" fill="#c9696b"/>
<circle cx="502.2" cy="215.02" r="1.15" fill="#c9696b"/>
<circle cx="505.2" cy="208.1" r="1.15" fill="#c9696b"/>
<circle cx="508.5" cy="173.86" r="1.15" fill="#c9696b"/>
<circle cx="511.6" cy="164.1" r="1.15" fill="#c9696b"/>
<circle cx="515.2" cy="183.7" r="1.15" fill="#c9696b"/>
<circle cx="518.3" cy="186.45" r="1.15" fill="#c9696b"/>
<circle cx="521.6" cy="187.57" r="1.15" fill="#c9696b"/>
<circle cx="524.9" cy="175.79" r="1.15" fill="#c9696b"/>
<circle cx="528" cy="179.2" r="1.15" fill="#c9696b"/>
<circle cx="531.3" cy="199.84" r="1.15" fill="#c9696b"/>
<circle cx="534.4" cy="208.12" r="1.15" fill="#c9696b"/>
<circle cx="537.7" cy="215.02" r="1.15" fill="#c9696b"/>
<circle cx="540.8" cy="216.4" r="1.15" fill="#c9696b"/>
<circle cx="543.8" cy="208.12" r="1.15" fill="#c9696b"/>
<circle cx="547.7" cy="202.6" r="1.15" fill="#c9696b"/>
<circle cx="550.2" cy="220.54" r="1.15" fill="#c9696b"/>
<circle cx="553.5" cy="209.5" r="1.15" fill="#c9696b"/>
<circle cx="556.9" cy="202.6" r="1.15" fill="#c9696b"/>
<circle cx="559.9" cy="205.36" r="1.15" fill="#c9696b"/>
<circle cx="563" cy="216.4" r="1.15" fill="#c9696b"/>
<circle cx="565.9" cy="216.4" r="1.15" fill="#c9696b"/>
<circle cx="572.2" cy="203.64" r="1.15" fill="#c9696b"/>
<circle cx="575.3" cy="204.18" r="1.15" fill="#c9696b"/>
<circle cx="578.6" cy="205.34" r="1.15" fill="#c9696b"/>
<circle cx="581.7" cy="212.99" r="1.15" fill="#c9696b"/>
<circle cx="584.7" cy="236.49" r="1.15" fill="#c9696b"/>
<circle cx="588" cy="241" r="1.15" fill="#c9696b"/>
<circle cx="597" cy="224.9" r="1.15" fill="#c9696b"/>
<circle cx="600" cy="228.94" r="1.15" fill="#c9696b"/>
<circle cx="603.4" cy="223.35" r="1.15" fill="#c9696b"/>
<circle cx="612.5" cy="194.32" r="1.15" fill="#c9696b"/>
<circle cx="615.7" cy="205.36" r="1.15" fill="#c9696b"/>
<circle cx="618.9" cy="216.4" r="1.15" fill="#c9696b"/>
<circle cx="622.3" cy="230.2" r="1.15" fill="#c9696b"/>
<circle cx="632.2" cy="234.34" r="1.15" fill="#c9696b"/>
<circle cx="635.5" cy="223.3" r="1.15" fill="#c9696b"/>
<circle cx="638.8" cy="222.67" r="1.15" fill="#c9696b"/>
<circle cx="651.2" cy="232.96" r="1.15" fill="#c9696b"/>
<circle cx="654.5" cy="207.62" r="1.15" fill="#c9696b"/>
<circle cx="657.7" cy="220.1" r="1.15" fill="#c9696b"/>
<circle cx="660.8" cy="219.2" r="1.15" fill="#c9696b"/>
<circle cx="663.9" cy="224.61" r="1.15" fill="#c9696b"/>
<circle cx="667" cy="220.58" r="1.15" fill="#c9696b"/>
<circle cx="60.8" cy="162.38" r="1.15" fill="#7b5453"/>
<circle cx="64.3" cy="156.06" r="1.15" fill="#7b5453"/>
<circle cx="67.8" cy="156.61" r="1.15" fill="#7b5453"/>
<circle cx="70.9" cy="179.85" r="1.15" fill="#7b5453"/>
<circle cx="74.2" cy="198.58" r="1.15" fill="#7b5453"/>
<circle cx="77.2" cy="202.42" r="1.15" fill="#7b5453"/>
<circle cx="80.7" cy="214.97" r="1.15" fill="#7b5453"/>
<circle cx="84.2" cy="215.95" r="1.15" fill="#7b5453"/>
<circle cx="87.2" cy="220.67" r="1.15" fill="#7b5453"/>
<circle cx="90" cy="208.63" r="1.15" fill="#7b5453"/>
<circle cx="92.8" cy="212.96" r="1.15" fill="#7b5453"/>
<circle cx="95.9" cy="222.69" r="1.15" fill="#7b5453"/>
<circle cx="99.4" cy="224.41" r="1.15" fill="#7b5453"/>
<circle cx="102.9" cy="225.33" r="1.15" fill="#7b5453"/>
<circle cx="106.4" cy="218.98" r="1.15" fill="#7b5453"/>
<circle cx="109.2" cy="216.19" r="1.15" fill="#7b5453"/>
<circle cx="112.2" cy="223.49" r="1.15" fill="#7b5453"/>
<circle cx="115.3" cy="212.99" r="1.15" fill="#7b5453"/>
<circle cx="118.5" cy="213.99" r="1.15" fill="#7b5453"/>
<circle cx="121.6" cy="215.11" r="1.15" fill="#7b5453"/>
<circle cx="125" cy="214.77" r="1.15" fill="#7b5453"/>
<circle cx="128.6" cy="216.09" r="1.15" fill="#7b5453"/>
<circle cx="131.6" cy="215.26" r="1.15" fill="#7b5453"/>
<circle cx="134.4" cy="231.45" r="1.15" fill="#7b5453"/>
<circle cx="137.2" cy="220.04" r="1.15" fill="#7b5453"/>
<circle cx="140.3" cy="222.55" r="1.15" fill="#7b5453"/>
<circle cx="143.8" cy="209.11" r="1.15" fill="#7b5453"/>
<circle cx="147.3" cy="208.44" r="1.15" fill="#7b5453"/>
<circle cx="150.3" cy="206.5" r="1.15" fill="#7b5453"/>
<circle cx="153.1" cy="180.3" r="1.15" fill="#7b5453"/>
<circle cx="155.9" cy="190.06" r="1.15" fill="#7b5453"/>
<circle cx="159" cy="216.31" r="1.15" fill="#7b5453"/>
<circle cx="162.5" cy="225.02" r="1.15" fill="#7b5453"/>
<circle cx="166" cy="224.71" r="1.15" fill="#7b5453"/>
<circle cx="169.5" cy="217.19" r="1.15" fill="#7b5453"/>
<circle cx="172.3" cy="161.63" r="1.15" fill="#7b5453"/>
<circle cx="175.3" cy="159.6" r="1.15" fill="#7b5453"/>
<circle cx="178.8" cy="192.23" r="1.15" fill="#7b5453"/>
<circle cx="182.3" cy="176.37" r="1.15" fill="#7b5453"/>
<circle cx="185.1" cy="178.51" r="1.15" fill="#7b5453"/>
<circle cx="188.1" cy="200.61" r="1.15" fill="#7b5453"/>
<circle cx="191.2" cy="209" r="1.15" fill="#7b5453"/>
<circle cx="194.5" cy="207.11" r="1.15" fill="#7b5453"/>
<circle cx="197.5" cy="200.89" r="1.15" fill="#7b5453"/>
<circle cx="201" cy="199.78" r="1.15" fill="#7b5453"/>
<circle cx="204" cy="213.54" r="1.15" fill="#7b5453"/>
<circle cx="206.8" cy="221.66" r="1.15" fill="#7b5453"/>
<circle cx="210.3" cy="226.1" r="1.15" fill="#7b5453"/>
<circle cx="213.8" cy="215.53" r="1.15" fill="#7b5453"/>
<circle cx="216.7" cy="225.39" r="1.15" fill="#7b5453"/>
<circle cx="219.5" cy="228.63" r="1.15" fill="#7b5453"/>
<circle cx="222.5" cy="209.59" r="1.15" fill="#7b5453"/>
<circle cx="226" cy="193.81" r="1.15" fill="#7b5453"/>
<circle cx="229" cy="199.54" r="1.15" fill="#7b5453"/>
<circle cx="231.9" cy="208.21" r="1.15" fill="#7b5453"/>
<circle cx="235.4" cy="225.31" r="1.15" fill="#7b5453"/>
<circle cx="238.9" cy="222.79" r="1.15" fill="#7b5453"/>
<circle cx="242.4" cy="215.78" r="1.15" fill="#7b5453"/>
<circle cx="245.2" cy="206.26" r="1.15" fill="#7b5453"/>
<circle cx="248.4" cy="190.71" r="1.15" fill="#7b5453"/>
<circle cx="251.7" cy="228.96" r="1.15" fill="#7b5453"/>
<circle cx="254.8" cy="231.81" r="1.15" fill="#7b5453"/>
<circle cx="258.3" cy="237.45" r="1.15" fill="#7b5453"/>
<circle cx="261.5" cy="241.14" r="1.15" fill="#7b5453"/>
<circle cx="264.6" cy="241.46" r="1.15" fill="#7b5453"/>
<circle cx="267.6" cy="232.32" r="1.15" fill="#7b5453"/>
<circle cx="270.9" cy="214.36" r="1.15" fill="#7b5453"/>
<circle cx="273.9" cy="204.74" r="1.15" fill="#7b5453"/>
<circle cx="276.9" cy="197.39" r="1.15" fill="#7b5453"/>
<circle cx="280.2" cy="202.63" r="1.15" fill="#7b5453"/>
<circle cx="283.3" cy="204.26" r="1.15" fill="#7b5453"/>
<circle cx="286.3" cy="206.06" r="1.15" fill="#7b5453"/>
<circle cx="289.6" cy="215.23" r="1.15" fill="#7b5453"/>
<circle cx="292.6" cy="217.44" r="1.15" fill="#7b5453"/>
<circle cx="296.1" cy="230.4" r="1.15" fill="#7b5453"/>
<circle cx="299.1" cy="213.27" r="1.15" fill="#7b5453"/>
<circle cx="302.2" cy="200" r="1.15" fill="#7b5453"/>
<circle cx="305.4" cy="203.44" r="1.15" fill="#7b5453"/>
<circle cx="308.5" cy="163.89" r="1.15" fill="#7b5453"/>
<circle cx="311.8" cy="150.48" r="1.15" fill="#7b5453"/>
<circle cx="314.8" cy="155.82" r="1.15" fill="#7b5453"/>
<circle cx="318.3" cy="158.14" r="1.15" fill="#7b5453"/>
<circle cx="321.3" cy="150.49" r="1.15" fill="#7b5453"/>
<circle cx="324.6" cy="152.96" r="1.15" fill="#7b5453"/>
<circle cx="327.6" cy="156.34" r="1.15" fill="#7b5453"/>
<circle cx="331.1" cy="167.9" r="1.15" fill="#7b5453"/>
<circle cx="334.2" cy="176.1" r="1.15" fill="#7b5453"/>
<circle cx="337.4" cy="156.17" r="1.15" fill="#7b5453"/>
<circle cx="340.5" cy="163.03" r="1.15" fill="#7b5453"/>
<circle cx="344" cy="186" r="1.15" fill="#7b5453"/>
<circle cx="346.8" cy="189.9" r="1.15" fill="#7b5453"/>
<circle cx="349.8" cy="183.19" r="1.15" fill="#7b5453"/>
<circle cx="353.3" cy="176.53" r="1.15" fill="#7b5453"/>
<circle cx="356.4" cy="172.69" r="1.15" fill="#7b5453"/>
<circle cx="359.7" cy="155.52" r="1.15" fill="#7b5453"/>
<circle cx="362.7" cy="159.74" r="1.15" fill="#7b5453"/>
<circle cx="366" cy="179.25" r="1.15" fill="#7b5453"/>
<circle cx="369" cy="205.55" r="1.15" fill="#7b5453"/>
<circle cx="372.5" cy="210.83" r="1.15" fill="#7b5453"/>
<circle cx="375.6" cy="216.64" r="1.15" fill="#7b5453"/>
<circle cx="378.4" cy="205.05" r="1.15" fill="#7b5453"/>
<circle cx="381.9" cy="203.86" r="1.15" fill="#7b5453"/>
<circle cx="384.9" cy="221.49" r="1.15" fill="#7b5453"/>
<circle cx="388.2" cy="218.3" r="1.15" fill="#7b5453"/>
<circle cx="391.2" cy="220.94" r="1.15" fill="#7b5453"/>
<circle cx="394.2" cy="229.16" r="1.15" fill="#7b5453"/>
<circle cx="397.5" cy="227.97" r="1.15" fill="#7b5453"/>
<circle cx="400.5" cy="207.52" r="1.15" fill="#7b5453"/>
<circle cx="404" cy="217.57" r="1.15" fill="#7b5453"/>
<circle cx="406.9" cy="215.67" r="1.15" fill="#7b5453"/>
<circle cx="409.9" cy="205.31" r="1.15" fill="#7b5453"/>
<circle cx="412.9" cy="214.73" r="1.15" fill="#7b5453"/>
<circle cx="416.2" cy="214.69" r="1.15" fill="#7b5453"/>
<circle cx="419.2" cy="212.9" r="1.15" fill="#7b5453"/>
<circle cx="422.7" cy="216.35" r="1.15" fill="#7b5453"/>
<circle cx="425.8" cy="221.63" r="1.15" fill="#7b5453"/>
<circle cx="429.3" cy="220.16" r="1.15" fill="#7b5453"/>
<circle cx="432.6" cy="216.74" r="1.15" fill="#7b5453"/>
<circle cx="441.4" cy="213.64" r="1.15" fill="#7b5453"/>
<circle cx="445" cy="213.64" r="1.15" fill="#7b5453"/>
<circle cx="455.4" cy="220.54" r="1.15" fill="#7b5453"/>
<circle cx="459" cy="216.4" r="1.15" fill="#7b5453"/>
<circle cx="462.5" cy="213.64" r="1.15" fill="#7b5453"/>
<circle cx="465.3" cy="208.12" r="1.15" fill="#7b5453"/>
<circle cx="468.2" cy="216.4" r="1.15" fill="#7b5453"/>
<circle cx="471.1" cy="213.64" r="1.15" fill="#7b5453"/>
<circle cx="474.1" cy="223.3" r="1.15" fill="#7b5453"/>
<circle cx="476.9" cy="228.82" r="1.15" fill="#7b5453"/>
<circle cx="480" cy="205.89" r="1.15" fill="#7b5453"/>
<circle cx="483" cy="182.22" r="1.15" fill="#7b5453"/>
<circle cx="486.3" cy="163.33" r="1.15" fill="#7b5453"/>
<circle cx="489.3" cy="175" r="1.15" fill="#7b5453"/>
<circle cx="492.8" cy="207.21" r="1.15" fill="#7b5453"/>
<circle cx="495.9" cy="208.31" r="1.15" fill="#7b5453"/>
<circle cx="499.1" cy="191.64" r="1.15" fill="#7b5453"/>
<circle cx="502.2" cy="208.44" r="1.15" fill="#7b5453"/>
<circle cx="505.2" cy="205.11" r="1.15" fill="#7b5453"/>
<circle cx="508.5" cy="174.09" r="1.15" fill="#7b5453"/>
<circle cx="511.6" cy="162.96" r="1.15" fill="#7b5453"/>
<circle cx="515.2" cy="178.99" r="1.15" fill="#7b5453"/>
<circle cx="518.3" cy="188.02" r="1.15" fill="#7b5453"/>
<circle cx="521.6" cy="188.53" r="1.15" fill="#7b5453"/>
<circle cx="524.9" cy="173.88" r="1.15" fill="#7b5453"/>
<circle cx="528" cy="180.89" r="1.15" fill="#7b5453"/>
<circle cx="531.3" cy="186.04" r="1.15" fill="#7b5453"/>
<circle cx="534.4" cy="187.42" r="1.15" fill="#7b5453"/>
<circle cx="537.7" cy="188.8" r="1.15" fill="#7b5453"/>
<circle cx="540.8" cy="184.66" r="1.15" fill="#7b5453"/>
<circle cx="543.8" cy="183.28" r="1.15" fill="#7b5453"/>
<circle cx="547.7" cy="173.62" r="1.15" fill="#7b5453"/>
<circle cx="550.2" cy="202.6" r="1.15" fill="#7b5453"/>
<circle cx="553.5" cy="203.98" r="1.15" fill="#7b5453"/>
<circle cx="556.9" cy="205.36" r="1.15" fill="#7b5453"/>
<circle cx="559.9" cy="199.84" r="1.15" fill="#7b5453"/>
<circle cx="563" cy="209.5" r="1.15" fill="#7b5453"/>
<circle cx="565.9" cy="209.5" r="1.15" fill="#7b5453"/>
<circle cx="569.1" cy="283.33" r="1.15" fill="#7b5453"/>
<circle cx="572.2" cy="203.99" r="1.15" fill="#7b5453"/>
<circle cx="575.3" cy="199.77" r="1.15" fill="#7b5453"/>
<circle cx="578.6" cy="201.81" r="1.15" fill="#7b5453"/>
<circle cx="581.7" cy="214.67" r="1.15" fill="#7b5453"/>
<circle cx="584.7" cy="255.04" r="1.15" fill="#7b5453"/>
<circle cx="588" cy="255.04" r="1.15" fill="#7b5453"/>
<circle cx="597" cy="225.39" r="1.15" fill="#7b5453"/>
<circle cx="600" cy="220.39" r="1.15" fill="#7b5453"/>
<circle cx="603.4" cy="223.35" r="1.15" fill="#7b5453"/>
<circle cx="612.5" cy="205.36" r="1.15" fill="#7b5453"/>
<circle cx="615.7" cy="206.74" r="1.15" fill="#7b5453"/>
<circle cx="618.9" cy="208.12" r="1.15" fill="#7b5453"/>
<circle cx="622.3" cy="223.3" r="1.15" fill="#7b5453"/>
<circle cx="632.2" cy="230.2" r="1.15" fill="#7b5453"/>
<circle cx="635.5" cy="224.68" r="1.15" fill="#7b5453"/>
<circle cx="638.8" cy="219.09" r="1.15" fill="#7b5453"/>
<circle cx="651.2" cy="235.72" r="1.15" fill="#7b5453"/>
<circle cx="654.5" cy="205.64" r="1.15" fill="#7b5453"/>
<circle cx="657.7" cy="209.75" r="1.15" fill="#7b5453"/>
<circle cx="660.8" cy="223.08" r="1.15" fill="#7b5453"/>
<circle cx="663.9" cy="219.67" r="1.15" fill="#7b5453"/>
<circle cx="667" cy="215.39" r="1.15" fill="#7b5453"/>
<rect x="49.7" y="141.1" width="627.6" height="149.1" fill="none" stroke="#3a3a3a" stroke-width="1.3"/>
<line x1="45.3" y1="147.3" x2="49.7" y2="147.3" stroke="#3a3a3a" stroke-width="1.1"/>
<text transform="translate(44,153.3) scale(0.9401709401709403,1)" font-size="11" text-anchor="end">1</text>
<line x1="45.3" y1="181.43" x2="49.7" y2="181.43" stroke="#3a3a3a" stroke-width="1.1"/>
<text transform="translate(44,187.43) scale(0.9401709401709403,1)" font-size="11" text-anchor="end">0.75</text>
<line x1="45.3" y1="215.55" x2="49.7" y2="215.55" stroke="#3a3a3a" stroke-width="1.1"/>
<text transform="translate(44,221.55) scale(0.9401709401709403,1)" font-size="11" text-anchor="end">0.5</text>
<line x1="45.3" y1="249.68" x2="49.7" y2="249.68" stroke="#3a3a3a" stroke-width="1.1"/>
<text transform="translate(44,255.68) scale(0.9401709401709403,1)" font-size="11" text-anchor="end">0.25</text>
<line x1="45.3" y1="283.8" x2="49.7" y2="283.8" stroke="#3a3a3a" stroke-width="1.1"/>
<text transform="translate(44,289.8) scale(0.9401709401709403,1)" font-size="11" text-anchor="end">0</text>
<line x1="116.8" y1="290.2" x2="116.8" y2="293.6" stroke="#3a3a3a" stroke-width="1.1"/>
<text transform="translate(116.8,305.5) scale(0.9401709401709403,1)" font-size="10.88" text-anchor="middle">5</text>
<line x1="243.95" y1="290.2" x2="243.95" y2="293.6" stroke="#3a3a3a" stroke-width="1.1"/>
<text transform="translate(243.95,305.5) scale(0.9401709401709403,1)" font-size="10.88" text-anchor="middle">10</text>
<line x1="371.1" y1="290.2" x2="371.1" y2="293.6" stroke="#3a3a3a" stroke-width="1.1"/>
<text transform="translate(371.1,305.5) scale(0.9401709401709403,1)" font-size="10.88" text-anchor="middle">15</text>
<line x1="498.25" y1="290.2" x2="498.25" y2="293.6" stroke="#3a3a3a" stroke-width="1.1"/>
<text transform="translate(498.25,305.5) scale(0.9401709401709403,1)" font-size="10.88" text-anchor="middle">20</text>
<line x1="625.4" y1="290.2" x2="625.4" y2="293.6" stroke="#3a3a3a" stroke-width="1.1"/>
<text transform="translate(625.4,305.5) scale(0.9401709401709403,1)" font-size="10.88" text-anchor="middle">25</text>
<text transform="translate(366.2,318.9) scale(0.9401709401709403,1)" font-size="13.92" text-anchor="middle">Position (Mb)</text>
<text transform="translate(20.6,213.2) rotate(-90) scale(1,0.9401709401709403)" font-size="13.41" text-anchor="middle">5mC frequency</text>
<text transform="translate(5,341.8) scale(0.9658119658119658,1)" font-size="15.68" font-weight="bold" stroke="#000" stroke-width="0.4">b</text>
<text transform="translate(20.8,350.9) scale(0.9230769230769232,1)" font-size="12.87">CGI</text>
<polygon points="98.1,386.48 105.32,390.8 105.32,397.8 98.1,402.12 90.88,397.8 90.88,390.8" fill="none" stroke="#7a7a7a" stroke-width="0.7" stroke-dasharray="2.8 2.6"/>
<polygon points="98.1,378.66 112.54,387.3 112.54,401.3 98.1,409.94 83.66,401.3 83.66,387.3" fill="none" stroke="#7a7a7a" stroke-width="0.7" stroke-dasharray="2.8 2.6"/>
<polygon points="98.1,370.84 119.76,383.8 119.76,404.8 98.1,417.76 76.44,404.8 76.44,383.8" fill="none" stroke="#7a7a7a" stroke-width="0.7" stroke-dasharray="2.8 2.6"/>
<polygon points="98.1,363.02 126.98,380.3 126.98,408.3 98.1,425.58 69.22,408.3 69.22,380.3" fill="none" stroke="#7a7a7a" stroke-width="0.7" stroke-dasharray="2.8 2.6"/>
<polygon points="98.1,355.2 134.2,376.8 134.2,411.8 98.1,433.4 62,411.8 62,376.8" fill="none" stroke="#7a7a7a" stroke-width="0.7" stroke-dasharray="2.8 2.6"/>
<line x1="98.1" y1="386.48" x2="98.1" y2="355.2" stroke="#7a7a7a" stroke-width="0.7" stroke-dasharray="2.8 2.6"/>
<line x1="105.32" y1="390.8" x2="134.2" y2="376.8" stroke="#7a7a7a" stroke-width="0.7" stroke-dasharray="2.8 2.6"/>
<line x1="105.32" y1="397.8" x2="134.2" y2="411.8" stroke="#7a7a7a" stroke-width="0.7" stroke-dasharray="2.8 2.6"/>
<line x1="98.1" y1="402.12" x2="98.1" y2="433.4" stroke="#7a7a7a" stroke-width="0.7" stroke-dasharray="2.8 2.6"/>
<line x1="90.88" y1="397.8" x2="62" y2="411.8" stroke="#7a7a7a" stroke-width="0.7" stroke-dasharray="2.8 2.6"/>
<line x1="90.88" y1="390.8" x2="62" y2="376.8" stroke="#7a7a7a" stroke-width="0.7" stroke-dasharray="2.8 2.6"/>
<text transform="translate(103.1,349.3) scale(0.9401709401709403,1)" font-size="8.31" text-anchor="middle">X−degenerate</text>
<text transform="translate(137.1,376) scale(0.9401709401709403,1)" font-size="8.31">Others</text>
<text transform="translate(121.3,420.2) scale(0.9401709401709403,1)" font-size="8.31">Heterochromatic</text>
<text transform="translate(103.1,439.5) scale(0.9401709401709403,1)" font-size="8.31" text-anchor="middle">Pseudo−autosomal</text>
<text transform="translate(61.8,420.2) scale(0.9401709401709403,1)" font-size="8.31" text-anchor="end">Ampliconic</text>
<text transform="translate(67.3,376) scale(0.9401709401709403,1)" font-size="8.31" text-anchor="end">X−transposed</text>
<text transform="translate(99.3,357.8) scale(0.9401709401709403,1)" font-size="8.31" fill="#3c3c3c">1</text>
<text transform="translate(99.3,365.62) scale(0.9401709401709403,1)" font-size="8.31" fill="#3c3c3c">0.75</text>
<text transform="translate(99.3,373.44) scale(0.9401709401709403,1)" font-size="8.31" fill="#3c3c3c">0.5</text>
<text transform="translate(99.3,381.26) scale(0.9401709401709403,1)" font-size="8.31" fill="#3c3c3c">0.25</text>
<text transform="translate(99.3,389.08) scale(0.9401709401709403,1)" font-size="8.31" fill="#3c3c3c">0</text>
<polygon points="98.1,380.22 131.31,378.2 130.91,410.2 98.1,430.74 64.13,410.77 87.53,389.17" fill="none" stroke="#3a6584" stroke-width="1.35" stroke-opacity="0.75" stroke-linejoin="round"/>
<circle cx="98.1" cy="380.22" r="1.9" fill="#3a6584" fill-opacity="0.8"/>
<circle cx="131.31" cy="378.2" r="1.9" fill="#3a6584" fill-opacity="0.8"/>
<circle cx="130.91" cy="410.2" r="1.9" fill="#3a6584" fill-opacity="0.8"/>
<circle cx="98.1" cy="430.74" r="1.9" fill="#3a6584" fill-opacity="0.8"/>
<circle cx="64.13" cy="410.77" r="1.9" fill="#3a6584" fill-opacity="0.8"/>
<circle cx="87.53" cy="389.17" r="1.9" fill="#3a6584" fill-opacity="0.8"/>
<polyline points="63.53,411.06 87.43,389.13 98.1,380.85 131.31,378.2 122.07,405.92" fill="none" stroke="#58aca8" stroke-width="1.35" stroke-opacity="0.75" stroke-linejoin="round"/>
<circle cx="98.1" cy="380.85" r="1.9" fill="#58aca8" fill-opacity="0.8"/>
<circle cx="131.31" cy="378.2" r="1.9" fill="#58aca8" fill-opacity="0.8"/>
<circle cx="122.07" cy="405.92" r="1.9" fill="#58aca8" fill-opacity="0.8"/>
<circle cx="63.53" cy="411.06" r="1.9" fill="#58aca8" fill-opacity="0.8"/>
<circle cx="87.43" cy="389.13" r="1.9" fill="#58aca8" fill-opacity="0.8"/>
<polygon points="98.1,378.03 131.76,377.98 131.15,410.32 98.1,430.07 64.6,410.54 88.07,389.44" fill="none" stroke="#4d8a6d" stroke-width="1.35" stroke-opacity="0.75" stroke-linejoin="round"/>
<circle cx="98.1" cy="378.03" r="1.9" fill="#4d8a6d" fill-opacity="0.8"/>
<circle cx="131.76" cy="377.98" r="1.9" fill="#4d8a6d" fill-opacity="0.8"/>
<circle cx="131.15" cy="410.32" r="1.9" fill="#4d8a6d" fill-opacity="0.8"/>
<circle cx="98.1" cy="430.07" r="1.9" fill="#4d8a6d" fill-opacity="0.8"/>
<circle cx="64.6" cy="410.54" r="1.9" fill="#4d8a6d" fill-opacity="0.8"/>
<circle cx="88.07" cy="389.44" r="1.9" fill="#4d8a6d" fill-opacity="0.8"/>
<polygon points="98.1,379.74 132.08,377.83 131.24,410.36 98.1,430.12 63.99,410.83 87.99,389.4" fill="none" stroke="#ce914e" stroke-width="1.35" stroke-opacity="0.75" stroke-linejoin="round"/>
<circle cx="98.1" cy="379.74" r="1.9" fill="#ce914e" fill-opacity="0.8"/>
<circle cx="132.08" cy="377.83" r="1.9" fill="#ce914e" fill-opacity="0.8"/>
<circle cx="131.24" cy="410.36" r="1.9" fill="#ce914e" fill-opacity="0.8"/>
<circle cx="98.1" cy="430.12" r="1.9" fill="#ce914e" fill-opacity="0.8"/>
<circle cx="63.99" cy="410.83" r="1.9" fill="#ce914e" fill-opacity="0.8"/>
<circle cx="87.99" cy="389.4" r="1.9" fill="#ce914e" fill-opacity="0.8"/>
<polygon points="98.1,379.01 133.33,377.22 132.47,410.96 98.1,429.87 63.44,411.1 88.29,389.54" fill="none" stroke="#c9696b" stroke-width="1.35" stroke-opacity="0.75" stroke-linejoin="round"/>
<circle cx="98.1" cy="379.01" r="1.9" fill="#c9696b" fill-opacity="0.8"/>
<circle cx="133.33" cy="377.22" r="1.9" fill="#c9696b" fill-opacity="0.8"/>
<circle cx="132.47" cy="410.96" r="1.9" fill="#c9696b" fill-opacity="0.8"/>
<circle cx="98.1" cy="429.87" r="1.9" fill="#c9696b" fill-opacity="0.8"/>
<circle cx="63.44" cy="411.1" r="1.9" fill="#c9696b" fill-opacity="0.8"/>
<circle cx="88.29" cy="389.54" r="1.9" fill="#c9696b" fill-opacity="0.8"/>
<polygon points="98.1,379.21 131.23,378.24 130.7,410.1 98.1,430.79 64.98,410.36 87.07,388.95" fill="none" stroke="#924b3b" stroke-width="1.35" stroke-opacity="0.75" stroke-linejoin="round"/>
<circle cx="98.1" cy="379.21" r="1.9" fill="#924b3b" fill-opacity="0.8"/>
<circle cx="131.23" cy="378.24" r="1.9" fill="#924b3b" fill-opacity="0.8"/>
<circle cx="130.7" cy="410.1" r="1.9" fill="#924b3b" fill-opacity="0.8"/>
<circle cx="98.1" cy="430.79" r="1.9" fill="#924b3b" fill-opacity="0.8"/>
<circle cx="64.98" cy="410.36" r="1.9" fill="#924b3b" fill-opacity="0.8"/>
<circle cx="87.07" cy="388.95" r="1.9" fill="#924b3b" fill-opacity="0.8"/>
<polygon points="98.1,378.82 132.04,377.85 131.51,410.5 98.1,430.52 63.57,411.04 87.51,389.17" fill="none" stroke="#7b5453" stroke-width="1.35" stroke-opacity="0.75" stroke-linejoin="round"/>
<circle cx="98.1" cy="378.82" r="1.9" fill="#7b5453" fill-opacity="0.8"/>
<circle cx="132.04" cy="377.85" r="1.9" fill="#7b5453" fill-opacity="0.8"/>
<circle cx="131.51" cy="410.5" r="1.9" fill="#7b5453" fill-opacity="0.8"/>
<circle cx="98.1" cy="430.52" r="1.9" fill="#7b5453" fill-opacity="0.8"/>
<circle cx="63.57" cy="411.04" r="1.9" fill="#7b5453" fill-opacity="0.8"/>
<circle cx="87.51" cy="389.17" r="1.9" fill="#7b5453" fill-opacity="0.8"/>
<text transform="translate(184.6,350.7) scale(0.9230769230769232,1)" font-size="12.87">CpG shore</text>
<polygon points="262.45,388.8 270.47,393.54 270.47,400.86 262.45,405.6 254.43,400.86 254.43,393.54" fill="none" stroke="#7a7a7a" stroke-width="0.7" stroke-dasharray="2.8 2.6"/>
<polygon points="262.45,380.4 278.49,389.88 278.49,404.52 262.45,414 246.41,404.52 246.41,389.88" fill="none" stroke="#7a7a7a" stroke-width="0.7" stroke-dasharray="2.8 2.6"/>
<polygon points="262.45,372 286.51,386.22 286.51,408.18 262.45,422.4 238.39,408.18 238.39,386.22" fill="none" stroke="#7a7a7a" stroke-width="0.7" stroke-dasharray="2.8 2.6"/>
<polygon points="262.45,363.6 294.53,382.56 294.53,411.84 262.45,430.8 230.37,411.84 230.37,382.56" fill="none" stroke="#7a7a7a" stroke-width="0.7" stroke-dasharray="2.8 2.6"/>
<polygon points="262.45,355.2 302.55,378.9 302.55,415.5 262.45,439.2 222.35,415.5 222.35,378.9" fill="none" stroke="#7a7a7a" stroke-width="0.7" stroke-dasharray="2.8 2.6"/>
<line x1="262.45" y1="388.8" x2="262.45" y2="355.2" stroke="#7a7a7a" stroke-width="0.7" stroke-dasharray="2.8 2.6"/>
<line x1="270.47" y1="393.54" x2="302.55" y2="378.9" stroke="#7a7a7a" stroke-width="0.7" stroke-dasharray="2.8 2.6"/>
<line x1="270.47" y1="400.86" x2="302.55" y2="415.5" stroke="#7a7a7a" stroke-width="0.7" stroke-dasharray="2.8 2.6"/>
<line x1="262.45" y1="405.6" x2="262.45" y2="439.2" stroke="#7a7a7a" stroke-width="0.7" stroke-dasharray="2.8 2.6"/>
<line x1="254.43" y1="400.86" x2="222.35" y2="415.5" stroke="#7a7a7a" stroke-width="0.7" stroke-dasharray="2.8 2.6"/>
<line x1="254.43" y1="393.54" x2="222.35" y2="378.9" stroke="#7a7a7a" stroke-width="0.7" stroke-dasharray="2.8 2.6"/>
<text transform="translate(267.45,352.2) scale(0.9401709401709403,1)" font-size="8.31" text-anchor="middle">X−degenerate</text>
<text transform="translate(301.45,378.9) scale(0.9401709401709403,1)" font-size="8.31">Others</text>
<text transform="translate(285.65,423.1) scale(0.9401709401709403,1)" font-size="8.31">Heterochromatic</text>
<text transform="translate(267.45,442.4) scale(0.9401709401709403,1)" font-size="8.31" text-anchor="middle">Pseudo−autosomal</text>
<text transform="translate(226.15,423.1) scale(0.9401709401709403,1)" font-size="8.31" text-anchor="end">Ampliconic</text>
<text transform="translate(231.65,378.9) scale(0.9401709401709403,1)" font-size="8.31" text-anchor="end">X−transposed</text>
<text transform="translate(263.65,357.8) scale(0.9401709401709403,1)" font-size="8.31" fill="#3c3c3c">1</text>
<text transform="translate(263.65,366.2) scale(0.9401709401709403,1)" font-size="8.31" fill="#3c3c3c">0.75</text>
<text transform="translate(263.65,374.6) scale(0.9401709401709403,1)" font-size="8.31" fill="#3c3c3c">0.5</text>
<text transform="translate(263.65,383) scale(0.9401709401709403,1)" font-size="8.31" fill="#3c3c3c">0.25</text>
<text transform="translate(263.65,391.4) scale(0.9401709401709403,1)" font-size="8.31" fill="#3c3c3c">0</text>
<polygon points="262.45,372.34 297.42,381.24 298,413.42 262.45,431.22 228.82,412.55 253.15,392.95" fill="none" stroke="#3a6584" stroke-width="1.35" stroke-opacity="0.75" stroke-linejoin="round"/>
<circle cx="262.45" cy="372.34" r="1.9" fill="#3a6584" fill-opacity="0.8"/>
<circle cx="297.42" cy="381.24" r="1.9" fill="#3a6584" fill-opacity="0.8"/>
<circle cx="298" cy="413.42" r="1.9" fill="#3a6584" fill-opacity="0.8"/>
<circle cx="262.45" cy="431.22" r="1.9" fill="#3a6584" fill-opacity="0.8"/>
<circle cx="228.82" cy="412.55" r="1.9" fill="#3a6584" fill-opacity="0.8"/>
<circle cx="253.15" cy="392.95" r="1.9" fill="#3a6584" fill-opacity="0.8"/>
<polyline points="228.61,412.64 250.69,391.83 262.45,374.69 295.17,382.27 288.43,409.06" fill="none" stroke="#58aca8" stroke-width="1.35" stroke-opacity="0.75" stroke-linejoin="round"/>
<circle cx="262.45" cy="374.69" r="1.9" fill="#58aca8" fill-opacity="0.8"/>
<circle cx="295.17" cy="382.27" r="1.9" fill="#58aca8" fill-opacity="0.8"/>
<circle cx="288.43" cy="409.06" r="1.9" fill="#58aca8" fill-opacity="0.8"/>
<circle cx="228.61" cy="412.64" r="1.9" fill="#58aca8" fill-opacity="0.8"/>
<circle cx="250.69" cy="391.83" r="1.9" fill="#58aca8" fill-opacity="0.8"/>
<polygon points="262.45,376.67 295.17,382.27 297.25,413.08 262.45,432 228.5,412.69 250.56,391.77" fill="none" stroke="#4d8a6d" stroke-width="1.35" stroke-opacity="0.75" stroke-linejoin="round"/>
<circle cx="262.45" cy="376.67" r="1.9" fill="#4d8a6d" fill-opacity="0.8"/>
<circle cx="295.17" cy="382.27" r="1.9" fill="#4d8a6d" fill-opacity="0.8"/>
<circle cx="297.25" cy="413.08" r="1.9" fill="#4d8a6d" fill-opacity="0.8"/>
<circle cx="262.45" cy="432" r="1.9" fill="#4d8a6d" fill-opacity="0.8"/>
<circle cx="228.5" cy="412.69" r="1.9" fill="#4d8a6d" fill-opacity="0.8"/>
<circle cx="250.56" cy="391.77" r="1.9" fill="#4d8a6d" fill-opacity="0.8"/>
<polygon points="262.45,376.53 299.22,380.42 297.76,413.31 262.45,437.52 228.7,412.6 252.83,392.81" fill="none" stroke="#ce914e" stroke-width="1.35" stroke-opacity="0.75" stroke-linejoin="round"/>
<circle cx="262.45" cy="376.53" r="1.9" fill="#ce914e" fill-opacity="0.8"/>
<circle cx="299.22" cy="380.42" r="1.9" fill="#ce914e" fill-opacity="0.8"/>
<circle cx="297.76" cy="413.31" r="1.9" fill="#ce914e" fill-opacity="0.8"/>
<circle cx="262.45" cy="437.52" r="1.9" fill="#ce914e" fill-opacity="0.8"/>
<circle cx="228.7" cy="412.6" r="1.9" fill="#ce914e" fill-opacity="0.8"/>
<circle cx="252.83" cy="392.81" r="1.9" fill="#ce914e" fill-opacity="0.8"/>
<polygon points="262.45,376.52 298.24,380.86 298.52,413.66 262.45,432.15 228.7,412.6 250.58,391.78" fill="none" stroke="#c9696b" stroke-width="1.35" stroke-opacity="0.75" stroke-linejoin="round"/>
<circle cx="262.45" cy="376.52" r="1.9" fill="#c9696b" fill-opacity="0.8"/>
<circle cx="298.24" cy="380.86" r="1.9" fill="#c9696b" fill-opacity="0.8"/>
<circle cx="298.52" cy="413.66" r="1.9" fill="#c9696b" fill-opacity="0.8"/>
<circle cx="262.45" cy="432.15" r="1.9" fill="#c9696b" fill-opacity="0.8"/>
<circle cx="228.7" cy="412.6" r="1.9" fill="#c9696b" fill-opacity="0.8"/>
<circle cx="250.58" cy="391.78" r="1.9" fill="#c9696b" fill-opacity="0.8"/>
<polygon points="262.45,375.55 298.29,380.84 297.5,413.19 262.45,433.14 229.33,412.32 250.72,391.85" fill="none" stroke="#924b3b" stroke-width="1.35" stroke-opacity="0.75" stroke-linejoin="round"/>
<circle cx="262.45" cy="375.55" r="1.9" fill="#924b3b" fill-opacity="0.8"/>
<circle cx="298.29" cy="380.84" r="1.9" fill="#924b3b" fill-opacity="0.8"/>
<circle cx="297.5" cy="413.19" r="1.9" fill="#924b3b" fill-opacity="0.8"/>
<circle cx="262.45" cy="433.14" r="1.9" fill="#924b3b" fill-opacity="0.8"/>
<circle cx="229.33" cy="412.32" r="1.9" fill="#924b3b" fill-opacity="0.8"/>
<circle cx="250.72" cy="391.85" r="1.9" fill="#924b3b" fill-opacity="0.8"/>
<polygon points="262.45,376.1 299.26,380.4 297.37,413.14 262.45,431.17 228.51,412.69 249.94,391.49" fill="none" stroke="#7b5453" stroke-width="1.35" stroke-opacity="0.75" stroke-linejoin="round"/>
<circle cx="262.45" cy="376.1" r="1.9" fill="#7b5453" fill-opacity="0.8"/>
<circle cx="299.26" cy="380.4" r="1.9" fill="#7b5453" fill-opacity="0.8"/>
<circle cx="297.37" cy="413.14" r="1.9" fill="#7b5453" fill-opacity="0.8"/>
<circle cx="262.45" cy="431.17" r="1.9" fill="#7b5453" fill-opacity="0.8"/>
<circle cx="228.51" cy="412.69" r="1.9" fill="#7b5453" fill-opacity="0.8"/>
<circle cx="249.94" cy="391.49" r="1.9" fill="#7b5453" fill-opacity="0.8"/>
<text transform="translate(21,465.5) scale(0.9230769230769232,1)" font-size="12.87">CpG shelf</text>
<polygon points="98.1,500.1 105.94,504.5 105.94,511.9 98.1,516.3 90.26,511.9 90.26,504.5" fill="none" stroke="#7a7a7a" stroke-width="0.7" stroke-dasharray="2.8 2.6"/>
<polygon points="98.1,492 113.78,500.8 113.78,515.6 98.1,524.4 82.42,515.6 82.42,500.8" fill="none" stroke="#7a7a7a" stroke-width="0.7" stroke-dasharray="2.8 2.6"/>
<polygon points="98.1,483.9 121.62,497.1 121.62,519.3 98.1,532.5 74.58,519.3 74.58,497.1" fill="none" stroke="#7a7a7a" stroke-width="0.7" stroke-dasharray="2.8 2.6"/>
<polygon points="98.1,475.8 129.46,493.4 129.46,523 98.1,540.6 66.74,523 66.74,493.4" fill="none" stroke="#7a7a7a" stroke-width="0.7" stroke-dasharray="2.8 2.6"/>
<polygon points="98.1,467.7 137.3,489.7 137.3,526.7 98.1,548.7 58.9,526.7 58.9,489.7" fill="none" stroke="#7a7a7a" stroke-width="0.7" stroke-dasharray="2.8 2.6"/>
<line x1="98.1" y1="500.1" x2="98.1" y2="467.7" stroke="#7a7a7a" stroke-width="0.7" stroke-dasharray="2.8 2.6"/>
<line x1="105.94" y1="504.5" x2="137.3" y2="489.7" stroke="#7a7a7a" stroke-width="0.7" stroke-dasharray="2.8 2.6"/>
<line x1="105.94" y1="511.9" x2="137.3" y2="526.7" stroke="#7a7a7a" stroke-width="0.7" stroke-dasharray="2.8 2.6"/>
<line x1="98.1" y1="516.3" x2="98.1" y2="548.7" stroke="#7a7a7a" stroke-width="0.7" stroke-dasharray="2.8 2.6"/>
<line x1="90.26" y1="511.9" x2="58.9" y2="526.7" stroke="#7a7a7a" stroke-width="0.7" stroke-dasharray="2.8 2.6"/>
<line x1="90.26" y1="504.5" x2="58.9" y2="489.7" stroke="#7a7a7a" stroke-width="0.7" stroke-dasharray="2.8 2.6"/>
<text transform="translate(103.1,463.6) scale(0.9401709401709403,1)" font-size="8.31" text-anchor="middle">X−degenerate</text>
<text transform="translate(137.1,490.3) scale(0.9401709401709403,1)" font-size="8.31">Others</text>
<text transform="translate(121.3,534.5) scale(0.9401709401709403,1)" font-size="8.31">Heterochromatic</text>
<text transform="translate(103.1,553.8) scale(0.9401709401709403,1)" font-size="8.31" text-anchor="middle">Pseudo−autosomal</text>
<text transform="translate(61.8,534.5) scale(0.9401709401709403,1)" font-size="8.31" text-anchor="end">Ampliconic</text>
<text transform="translate(67.3,490.3) scale(0.9401709401709403,1)" font-size="8.31" text-anchor="end">X−transposed</text>
<text transform="translate(99.3,470.3) scale(0.9401709401709403,1)" font-size="8.31" fill="#3c3c3c">1</text>
<text transform="translate(99.3,478.4) scale(0.9401709401709403,1)" font-size="8.31" fill="#3c3c3c">0.75</text>
<text transform="translate(99.3,486.5) scale(0.9401709401709403,1)" font-size="8.31" fill="#3c3c3c">0.5</text>
<text transform="translate(99.3,494.6) scale(0.9401709401709403,1)" font-size="8.31" fill="#3c3c3c">0.25</text>
<text transform="translate(99.3,502.7) scale(0.9401709401709403,1)" font-size="8.31" fill="#3c3c3c">0</text>
<polygon points="98.1,471.59 121.31,497.25 125.14,520.96 98.1,538.93 67.7,522.55 85.2,502.11" fill="none" stroke="#3a6584" stroke-width="1.35" stroke-opacity="0.75" stroke-linejoin="round"/>
<circle cx="98.1" cy="471.59" r="1.9" fill="#3a6584" fill-opacity="0.8"/>
<circle cx="121.31" cy="497.25" r="1.9" fill="#3a6584" fill-opacity="0.8"/>
<circle cx="125.14" cy="520.96" r="1.9" fill="#3a6584" fill-opacity="0.8"/>
<circle cx="98.1" cy="538.93" r="1.9" fill="#3a6584" fill-opacity="0.8"/>
<circle cx="67.7" cy="522.55" r="1.9" fill="#3a6584" fill-opacity="0.8"/>
<circle cx="85.2" cy="502.11" r="1.9" fill="#3a6584" fill-opacity="0.8"/>
<polygon points="98.1,473.27 130.4,492.96 119.11,518.12 98.1,548.05 67.88,522.46 81.17,500.21" fill="none" stroke="#58aca8" stroke-width="1.35" stroke-opacity="0.75" stroke-linejoin="round"/>
<circle cx="98.1" cy="473.27" r="1.9" fill="#58aca8" fill-opacity="0.8"/>
<circle cx="130.4" cy="492.96" r="1.9" fill="#58aca8" fill-opacity="0.8"/>
<circle cx="119.11" cy="518.12" r="1.9" fill="#58aca8" fill-opacity="0.8"/>
<circle cx="98.1" cy="548.05" r="1.9" fill="#58aca8" fill-opacity="0.8"/>
<circle cx="67.88" cy="522.46" r="1.9" fill="#58aca8" fill-opacity="0.8"/>
<circle cx="81.17" cy="500.21" r="1.9" fill="#58aca8" fill-opacity="0.8"/>
<polygon points="98.1,473.79 129.15,493.55 124.06,520.45 98.1,537.22 68.59,522.13 83.36,501.24" fill="none" stroke="#4d8a6d" stroke-width="1.35" stroke-opacity="0.75" stroke-linejoin="round"/>
<circle cx="98.1" cy="473.79" r="1.9" fill="#4d8a6d" fill-opacity="0.8"/>
<circle cx="129.15" cy="493.55" r="1.9" fill="#4d8a6d" fill-opacity="0.8"/>
<circle cx="124.06" cy="520.45" r="1.9" fill="#4d8a6d" fill-opacity="0.8"/>
<circle cx="98.1" cy="537.22" r="1.9" fill="#4d8a6d" fill-opacity="0.8"/>
<circle cx="68.59" cy="522.13" r="1.9" fill="#4d8a6d" fill-opacity="0.8"/>
<circle cx="83.36" cy="501.24" r="1.9" fill="#4d8a6d" fill-opacity="0.8"/>
<polygon points="98.1,475.37 124.69,495.65 122.99,519.95 98.1,540.6 69.59,521.66 79.6,499.47" fill="none" stroke="#ce914e" stroke-width="1.35" stroke-opacity="0.75" stroke-linejoin="round"/>
<circle cx="98.1" cy="475.37" r="1.9" fill="#ce914e" fill-opacity="0.8"/>
<circle cx="124.69" cy="495.65" r="1.9" fill="#ce914e" fill-opacity="0.8"/>
<circle cx="122.99" cy="519.95" r="1.9" fill="#ce914e" fill-opacity="0.8"/>
<circle cx="98.1" cy="540.6" r="1.9" fill="#ce914e" fill-opacity="0.8"/>
<circle cx="69.59" cy="521.66" r="1.9" fill="#ce914e" fill-opacity="0.8"/>
<circle cx="79.6" cy="499.47" r="1.9" fill="#ce914e" fill-opacity="0.8"/>
<polygon points="98.1,472.99 125.14,495.44 123.55,520.21 98.1,536.53 68.92,521.97 87.75,503.32" fill="none" stroke="#c9696b" stroke-width="1.35" stroke-opacity="0.75" stroke-linejoin="round"/>
<circle cx="98.1" cy="472.99" r="1.9" fill="#c9696b" fill-opacity="0.8"/>
<circle cx="125.14" cy="495.44" r="1.9" fill="#c9696b" fill-opacity="0.8"/>
<circle cx="123.55" cy="520.21" r="1.9" fill="#c9696b" fill-opacity="0.8"/>
<circle cx="98.1" cy="536.53" r="1.9" fill="#c9696b" fill-opacity="0.8"/>
<circle cx="68.92" cy="521.97" r="1.9" fill="#c9696b" fill-opacity="0.8"/>
<circle cx="87.75" cy="503.32" r="1.9" fill="#c9696b" fill-opacity="0.8"/>
<polygon points="98.1,473.59 125.29,495.37 123.85,520.35 98.1,539.13 68.11,522.35 88.38,503.61" fill="none" stroke="#924b3b" stroke-width="1.35" stroke-opacity="0.75" stroke-linejoin="round"/>
<circle cx="98.1" cy="473.59" r="1.9" fill="#924b3b" fill-opacity="0.8"/>
<circle cx="125.29" cy="495.37" r="1.9" fill="#924b3b" fill-opacity="0.8"/>
<circle cx="123.85" cy="520.35" r="1.9" fill="#924b3b" fill-opacity="0.8"/>
<circle cx="98.1" cy="539.13" r="1.9" fill="#924b3b" fill-opacity="0.8"/>
<circle cx="68.11" cy="522.35" r="1.9" fill="#924b3b" fill-opacity="0.8"/>
<circle cx="88.38" cy="503.61" r="1.9" fill="#924b3b" fill-opacity="0.8"/>
<polygon points="98.1,473.33 124.58,495.71 123.47,520.17 98.1,538.33 67.81,522.5 85.24,502.13" fill="none" stroke="#7b5453" stroke-width="1.35" stroke-opacity="0.75" stroke-linejoin="round"/>
<circle cx="98.1" cy="473.33" r="1.9" fill="#7b5453" fill-opacity="0.8"/>
<circle cx="124.58" cy="495.71" r="1.9" fill="#7b5453" fill-opacity="0.8"/>
<circle cx="123.47" cy="520.17" r="1.9" fill="#7b5453" fill-opacity="0.8"/>
<circle cx="98.1" cy="538.33" r="1.9" fill="#7b5453" fill-opacity="0.8"/>
<circle cx="67.81" cy="522.5" r="1.9" fill="#7b5453" fill-opacity="0.8"/>
<circle cx="85.24" cy="502.13" r="1.9" fill="#7b5453" fill-opacity="0.8"/>
<text transform="translate(185,466) scale(0.9230769230769232,1)" font-size="12.87">Open sea</text>
<polygon points="262.6,498.8 270.56,503.1 270.56,510.9 262.6,515.2 254.64,510.9 254.64,503.1" fill="none" stroke="#7a7a7a" stroke-width="0.7" stroke-dasharray="2.8 2.6"/>
<polygon points="262.6,490.6 278.52,499.2 278.52,514.8 262.6,523.4 246.68,514.8 246.68,499.2" fill="none" stroke="#7a7a7a" stroke-width="0.7" stroke-dasharray="2.8 2.6"/>
<polygon points="262.6,482.4 286.48,495.3 286.48,518.7 262.6,531.6 238.72,518.7 238.72,495.3" fill="none" stroke="#7a7a7a" stroke-width="0.7" stroke-dasharray="2.8 2.6"/>
<polygon points="262.6,474.2 294.44,491.4 294.44,522.6 262.6,539.8 230.76,522.6 230.76,491.4" fill="none" stroke="#7a7a7a" stroke-width="0.7" stroke-dasharray="2.8 2.6"/>
<polygon points="262.6,466 302.4,487.5 302.4,526.5 262.6,548 222.8,526.5 222.8,487.5" fill="none" stroke="#7a7a7a" stroke-width="0.7" stroke-dasharray="2.8 2.6"/>
<line x1="262.6" y1="498.8" x2="262.6" y2="466" stroke="#7a7a7a" stroke-width="0.7" stroke-dasharray="2.8 2.6"/>
<line x1="270.56" y1="503.1" x2="302.4" y2="487.5" stroke="#7a7a7a" stroke-width="0.7" stroke-dasharray="2.8 2.6"/>
<line x1="270.56" y1="510.9" x2="302.4" y2="526.5" stroke="#7a7a7a" stroke-width="0.7" stroke-dasharray="2.8 2.6"/>
<line x1="262.6" y1="515.2" x2="262.6" y2="548" stroke="#7a7a7a" stroke-width="0.7" stroke-dasharray="2.8 2.6"/>
<line x1="254.64" y1="510.9" x2="222.8" y2="526.5" stroke="#7a7a7a" stroke-width="0.7" stroke-dasharray="2.8 2.6"/>
<line x1="254.64" y1="503.1" x2="222.8" y2="487.5" stroke="#7a7a7a" stroke-width="0.7" stroke-dasharray="2.8 2.6"/>
<text transform="translate(267.6,463.6) scale(0.9401709401709403,1)" font-size="8.31" text-anchor="middle">X−degenerate</text>
<text transform="translate(301.6,490.3) scale(0.9401709401709403,1)" font-size="8.31">Others</text>
<text transform="translate(285.8,534.5) scale(0.9401709401709403,1)" font-size="8.31">Heterochromatic</text>
<text transform="translate(267.6,553.8) scale(0.9401709401709403,1)" font-size="8.31" text-anchor="middle">Pseudo−autosomal</text>
<text transform="translate(226.3,534.5) scale(0.9401709401709403,1)" font-size="8.31" text-anchor="end">Ampliconic</text>
<text transform="translate(231.8,490.3) scale(0.9401709401709403,1)" font-size="8.31" text-anchor="end">X−transposed</text>
<text transform="translate(263.8,468.6) scale(0.9401709401709403,1)" font-size="8.31" fill="#3c3c3c">1</text>
<text transform="translate(263.8,476.8) scale(0.9401709401709403,1)" font-size="8.31" fill="#3c3c3c">0.75</text>
<text transform="translate(263.8,485) scale(0.9401709401709403,1)" font-size="8.31" fill="#3c3c3c">0.5</text>
<text transform="translate(263.8,493.2) scale(0.9401709401709403,1)" font-size="8.31" fill="#3c3c3c">0.25</text>
<text transform="translate(263.8,501.4) scale(0.9401709401709403,1)" font-size="8.31" fill="#3c3c3c">0</text>
<polygon points="262.6,475.26 289.47,493.84 289.66,520.26 262.6,531.43 236.28,519.9 235.88,493.91" fill="none" stroke="#3a6584" stroke-width="1.35" stroke-opacity="0.75" stroke-linejoin="round"/>
<circle cx="262.6" cy="475.26" r="1.9" fill="#3a6584" fill-opacity="0.8"/>
<circle cx="289.47" cy="493.84" r="1.9" fill="#3a6584" fill-opacity="0.8"/>
<circle cx="289.66" cy="520.26" r="1.9" fill="#3a6584" fill-opacity="0.8"/>
<circle cx="262.6" cy="531.43" r="1.9" fill="#3a6584" fill-opacity="0.8"/>
<circle cx="236.28" cy="519.9" r="1.9" fill="#3a6584" fill-opacity="0.8"/>
<circle cx="235.88" cy="493.91" r="1.9" fill="#3a6584" fill-opacity="0.8"/>
<polygon points="262.6,474.7 289.7,493.72 288.96,519.91 262.6,533.24 235.63,520.21 234.9,493.43" fill="none" stroke="#58aca8" stroke-width="1.35" stroke-opacity="0.75" stroke-linejoin="round"/>
<circle cx="262.6" cy="474.7" r="1.9" fill="#58aca8" fill-opacity="0.8"/>
<circle cx="289.7" cy="493.72" r="1.9" fill="#58aca8" fill-opacity="0.8"/>
<circle cx="288.96" cy="519.91" r="1.9" fill="#58aca8" fill-opacity="0.8"/>
<circle cx="262.6" cy="533.24" r="1.9" fill="#58aca8" fill-opacity="0.8"/>
<circle cx="235.63" cy="520.21" r="1.9" fill="#58aca8" fill-opacity="0.8"/>
<circle cx="234.9" cy="493.43" r="1.9" fill="#58aca8" fill-opacity="0.8"/>
<polygon points="262.6,474.35 289.66,493.74 289.31,520.09 262.6,531.51 235.04,520.51 235.95,493.94" fill="none" stroke="#4d8a6d" stroke-width="1.35" stroke-opacity="0.75" stroke-linejoin="round"/>
<circle cx="262.6" cy="474.35" r="1.9" fill="#4d8a6d" fill-opacity="0.8"/>
<circle cx="289.66" cy="493.74" r="1.9" fill="#4d8a6d" fill-opacity="0.8"/>
<circle cx="289.31" cy="520.09" r="1.9" fill="#4d8a6d" fill-opacity="0.8"/>
<circle cx="262.6" cy="531.51" r="1.9" fill="#4d8a6d" fill-opacity="0.8"/>
<circle cx="235.04" cy="520.51" r="1.9" fill="#4d8a6d" fill-opacity="0.8"/>
<circle cx="235.95" cy="493.94" r="1.9" fill="#4d8a6d" fill-opacity="0.8"/>
<polygon points="262.6,475.11 288.98,494.07 289.38,520.12 262.6,534.22 235.96,520.05 235.87,493.91" fill="none" stroke="#ce914e" stroke-width="1.35" stroke-opacity="0.75" stroke-linejoin="round"/>
<circle cx="262.6" cy="475.11" r="1.9" fill="#ce914e" fill-opacity="0.8"/>
<circle cx="288.98" cy="494.07" r="1.9" fill="#ce914e" fill-opacity="0.8"/>
<circle cx="289.38" cy="520.12" r="1.9" fill="#ce914e" fill-opacity="0.8"/>
<circle cx="262.6" cy="534.22" r="1.9" fill="#ce914e" fill-opacity="0.8"/>
<circle cx="235.96" cy="520.05" r="1.9" fill="#ce914e" fill-opacity="0.8"/>
<circle cx="235.87" cy="493.91" r="1.9" fill="#ce914e" fill-opacity="0.8"/>
<polygon points="262.6,474.77 289.57,493.79 289.69,520.28 262.6,531.67 236.42,519.82 235.63,493.79" fill="none" stroke="#c9696b" stroke-width="1.35" stroke-opacity="0.75" stroke-linejoin="round"/>
<circle cx="262.6" cy="474.77" r="1.9" fill="#c9696b" fill-opacity="0.8"/>
<circle cx="289.57" cy="493.79" r="1.9" fill="#c9696b" fill-opacity="0.8"/>
<circle cx="289.69" cy="520.28" r="1.9" fill="#c9696b" fill-opacity="0.8"/>
<circle cx="262.6" cy="531.67" r="1.9" fill="#c9696b" fill-opacity="0.8"/>
<circle cx="236.42" cy="519.82" r="1.9" fill="#c9696b" fill-opacity="0.8"/>
<circle cx="235.63" cy="493.79" r="1.9" fill="#c9696b" fill-opacity="0.8"/>
<polygon points="262.6,475.32 289.29,493.92 288.88,519.87 262.6,531.6 236.1,519.98 235.79,493.86" fill="none" stroke="#924b3b" stroke-width="1.35" stroke-opacity="0.75" stroke-linejoin="round"/>
<circle cx="262.6" cy="475.32" r="1.9" fill="#924b3b" fill-opacity="0.8"/>
<circle cx="289.29" cy="493.92" r="1.9" fill="#924b3b" fill-opacity="0.8"/>
<circle cx="288.88" cy="519.87" r="1.9" fill="#924b3b" fill-opacity="0.8"/>
<circle cx="262.6" cy="531.6" r="1.9" fill="#924b3b" fill-opacity="0.8"/>
<circle cx="236.1" cy="519.98" r="1.9" fill="#924b3b" fill-opacity="0.8"/>
<circle cx="235.79" cy="493.86" r="1.9" fill="#924b3b" fill-opacity="0.8"/>
<polygon points="262.6,473.77 289.33,493.9 289.61,520.24 262.6,531.17 235.95,520.06 235.64,493.79" fill="none" stroke="#7b5453" stroke-width="1.35" stroke-opacity="0.75" stroke-linejoin="round"/>
<circle cx="262.6" cy="473.77" r="1.9" fill="#7b5453" fill-opacity="0.8"/>
<circle cx="289.33" cy="493.9" r="1.9" fill="#7b5453" fill-opacity="0.8"/>
<circle cx="289.61" cy="520.24" r="1.9" fill="#7b5453" fill-opacity="0.8"/>
<circle cx="262.6" cy="531.17" r="1.9" fill="#7b5453" fill-opacity="0.8"/>
<circle cx="235.95" cy="520.06" r="1.9" fill="#7b5453" fill-opacity="0.8"/>
<circle cx="235.64" cy="493.79" r="1.9" fill="#7b5453" fill-opacity="0.8"/>
<text transform="translate(345,341.8) scale(0.9658119658119658,1)" font-size="15.68" font-weight="bold" stroke="#000" stroke-width="0.4">d</text>
<rect x="418.9" y="336" width="247.3" height="11.7" fill="#a8cba8"/>
<text transform="translate(541.9,344.9) scale(1.012820512820513,1)" font-size="10.53" text-anchor="middle">X−degenerate</text>
<text transform="translate(361,370.5) scale(0.9401709401709403,1)" font-size="10.76">Genes</text>
<text transform="translate(404.6,363.3) scale(0.9401709401709403,1)" font-size="10.3">+</text>
<text transform="translate(404.6,379) scale(0.9401709401709403,1)" font-size="10.3">−</text>
<text transform="translate(361,397.2) scale(0.9401709401709403,1)" font-size="10.76">CGI</text>
<rect x="433.1" y="351.2" width="199.4" height="15.8" fill="#2e8656"/>
<line x1="505.5" y1="351.2" x2="505.5" y2="367" stroke="#7f6b82" stroke-width="0.8"/>
<text transform="translate(634,361.4) scale(1.0085470085470085,1)" font-size="10.53" font-style="italic" fill="#2e8656">NLGN4Y</text>
<rect x="600.2" y="366.7" width="6.5" height="16.1" fill="#d2683a"/>
<text transform="translate(488,378.3) scale(1.0,1)" font-size="10.53" font-style="italic" fill="#8c6297">AGKP1</text>
<text transform="translate(611,378.3) scale(1.0,1)" font-size="10.53" font-style="italic" fill="#d2683a">NLGN4Y-AS1</text>
<path d="M431.5,384.2 h5.6 l-2.8,4 z M431.5,401.7 h5.6 l-2.8,-4 z" fill="#000"/>
<line x1="434.3" y1="387" x2="434.3" y2="399" stroke="#111" stroke-width="1.2"/>
<path d="M620.3,384.2 h5.6 l-2.8,4 z M620.3,401.7 h5.6 l-2.8,-4 z" fill="#000"/>
<line x1="623.1" y1="387" x2="623.1" y2="399" stroke="#cfcfcf" stroke-width="1.2"/>
<circle cx="425.8" cy="528.4" r="2.1" fill="#3a6584"/>
<circle cx="427.1" cy="527.1" r="2.1" fill="#7b5453"/>
<circle cx="427.9" cy="531.1" r="2.1" fill="#58aca8"/>
<circle cx="429.5" cy="529.5" r="2.1" fill="#4d8a6d"/>
<circle cx="436.8" cy="525.5" r="2.1" fill="#c9696b"/>
<circle cx="438.5" cy="526.5" r="2.1" fill="#924b3b"/>
<circle cx="442" cy="525" r="2.1" fill="#3a6584"/>
<circle cx="442.9" cy="528.7" r="2.1" fill="#4d8a6d"/>
<circle cx="441.6" cy="532.3" r="2.1" fill="#7b5453"/>
<circle cx="440.5" cy="530.5" r="2.1" fill="#ce914e"/>
<circle cx="614.6" cy="415.6" r="2.1" fill="#3a6584"/>
<circle cx="616.5" cy="416" r="2.1" fill="#58aca8"/>
<circle cx="617.4" cy="420.3" r="2.1" fill="#ce914e"/>
<circle cx="627" cy="415.8" r="2.1" fill="#7b5453"/>
<circle cx="628" cy="415" r="2.1" fill="#c9696b"/>
<circle cx="626" cy="417.5" r="2.1" fill="#924b3b"/>
<circle cx="434.1" cy="530.6" r="4.3" fill="#fff" stroke="#000" stroke-width="1.3"/>
<circle cx="622.9" cy="416.4" r="4.3" fill="#fff" stroke="#000" stroke-width="1.3"/>
<line x1="423.1" y1="519.9" x2="432.2" y2="527.2" stroke="#000" stroke-width="0.9"/>
<text transform="translate(429.5,518.4) scale(0.9145299145299146,1)" font-size="12.87" text-anchor="middle">CGI_1</text>
<text transform="translate(453.8,534) scale(0.9145299145299146,1)" font-size="12.87">CGI_2</text>
<text transform="translate(636,437.6) scale(0.9145299145299146,1)" font-size="12.87" text-anchor="middle">CGI_3</text>
<rect x="406.6" y="408.3" width="271.2" height="129.6" fill="none" stroke="#3a3a3a" stroke-width="1.2"/>
<line x1="403" y1="415.3" x2="406.6" y2="415.3" stroke="#3a3a3a" stroke-width="1"/>
<text transform="translate(400.4,420.6) scale(0.9401709401709403,1)" font-size="10.88" text-anchor="end">1</text>
<line x1="403" y1="444.57" x2="406.6" y2="444.57" stroke="#3a3a3a" stroke-width="1"/>
<text transform="translate(400.4,449.88) scale(0.9401709401709403,1)" font-size="10.88" text-anchor="end">0.75</text>
<line x1="403" y1="473.85" x2="406.6" y2="473.85" stroke="#3a3a3a" stroke-width="1"/>
<text transform="translate(400.4,479.15) scale(0.9401709401709403,1)" font-size="10.88" text-anchor="end">0.5</text>
<line x1="403" y1="503.12" x2="406.6" y2="503.12" stroke="#3a3a3a" stroke-width="1"/>
<text transform="translate(400.4,508.43) scale(0.9401709401709403,1)" font-size="10.88" text-anchor="end">0.25</text>
<line x1="403" y1="532.4" x2="406.6" y2="532.4" stroke="#3a3a3a" stroke-width="1"/>
<text transform="translate(400.4,537.7) scale(0.9401709401709403,1)" font-size="10.88" text-anchor="end">0</text>
<line x1="419" y1="537.9" x2="419" y2="541.2" stroke="#3a3a3a" stroke-width="1"/>
<text transform="translate(418.2,553.5) scale(0.9401709401709403,1)" font-size="10.88" text-anchor="middle">14.5</text>
<line x1="480.7" y1="537.9" x2="480.7" y2="541.2" stroke="#3a3a3a" stroke-width="1"/>
<text transform="translate(479.9,553.5) scale(0.9401709401709403,1)" font-size="10.88" text-anchor="middle">14.6</text>
<line x1="542.4" y1="537.9" x2="542.4" y2="541.2" stroke="#3a3a3a" stroke-width="1"/>
<text transform="translate(541.6,553.5) scale(0.9401709401709403,1)" font-size="10.88" text-anchor="middle">14.7</text>
<line x1="604.1" y1="537.9" x2="604.1" y2="541.2" stroke="#3a3a3a" stroke-width="1"/>
<text transform="translate(603.3,553.5) scale(0.9401709401709403,1)" font-size="10.88" text-anchor="middle">14.8</text>
<line x1="665.8" y1="537.9" x2="665.8" y2="541.2" stroke="#3a3a3a" stroke-width="1"/>
<text transform="translate(665,553.5) scale(0.9401709401709403,1)" font-size="10.88" text-anchor="middle">14.9</text>
<text transform="translate(544.3,566.8) scale(0.9401709401709403,1)" font-size="14.16" text-anchor="middle">Position (Mb)</text>
<text transform="translate(371.6,471.6) rotate(-90) scale(1,0.9401709401709403)" font-size="13.31" text-anchor="middle">5mC frequency</text>
<text transform="translate(5,588.4) scale(0.9658119658119658,1)" font-size="15.68" font-weight="bold" stroke="#000" stroke-width="0.4">c</text>
<text transform="translate(128.1,586.6) scale(0.9401709401709403,1)" font-size="10.76" text-anchor="middle">TSS</text>
<text transform="translate(287.6,586.6) scale(0.9401709401709403,1)" font-size="10.76" text-anchor="middle">5'UTR</text>
<text transform="translate(447.4,586.6) scale(0.9401709401709403,1)" font-size="10.76" text-anchor="middle">Intragenic</text>
<text transform="translate(606.3,586.6) scale(0.9401709401709403,1)" font-size="10.76" text-anchor="middle">3'UTR</text>
<clipPath id="c1"><rect x="49.3" y="591.5" width="154.6" height="86.6"/></clipPath>
<g clip-path="url(#c1)">
<path d="M56.1,611.2 L56.1,596.2 57.3,595.49 58.5,594.87 59.7,594.36 60.9,593.94 62.1,593.62 63.3,593.39 64.5,593.25 65.7,593.2 66.9,593.27 68.1,593.49 69.3,593.82 70.5,594.23 71.7,594.67 72.9,595.12 74.1,595.56 75.3,596.08 76.5,596.67 77.7,597.32 78.9,597.99 80.1,598.67 81.3,599.34 82.5,599.98 83.7,600.56 84.9,601.06 86.1,601.51 87.3,601.96 88.5,602.39 89.7,602.81 90.9,603.2 92.1,603.57 93.3,603.9 94.5,604.19 95.7,604.44 96.9,604.63 98.1,604.8 99.3,604.96 100.5,605.13 101.7,605.28 102.9,605.44 104.1,605.58 105.3,605.73 106.5,605.86 107.7,605.99 108.9,606.12 110.1,606.24 111.3,606.35 112.5,606.45 113.7,606.55 114.9,606.63 116.1,606.71 117.3,606.78 118.5,606.84 119.7,606.89 120.9,606.94 122.1,606.97 123.3,606.99 124.5,607 125.7,607 126.9,607 128.1,606.99 129.3,606.98 130.5,606.97 131.7,606.96 132.9,606.95 134.1,606.93 135.3,606.91 136.5,606.89 137.7,606.87 138.9,606.84 140.1,606.82 141.3,606.79 142.5,606.76 143.7,606.73 144.9,606.69 146.1,606.66 147.3,606.62 148.5,606.59 149.7,606.55 150.9,606.51 152.1,606.47 153.3,606.43 154.5,606.39 155.7,606.33 156.9,606.25 158.1,606.14 159.3,606.02 160.5,605.88 161.7,605.73 162.9,605.57 164.1,605.4 165.3,605.22 166.5,605.03 167.7,604.85 168.9,604.66 170.1,604.47 171.3,604.29 172.5,604.12 173.7,603.95 174.9,603.79 176.1,603.65 177.3,603.53 178.5,603.42 179.7,603.33 180.9,603.26 182.1,603.22 183.3,603.2 184.5,603.22 185.7,603.27 186.9,603.37 188.1,603.49 189.3,603.64 190.5,603.82 191.7,604.03 192.9,604.25 194.1,604.49 195.3,604.74 196.5,605 197.4,605.2 L197.4,611.2 Z" fill="#7b5453" stroke="#000" stroke-width="1.1" stroke-linejoin="round"/>
<line x1="86.2" y1="611.2" x2="86.2" y2="601.55" stroke="#000" stroke-width="1"/>
<path d="M56.1,622.03 L56.1,608.73 57.3,607.85 58.5,607.05 59.7,606.34 60.9,605.73 62.1,605.21 63.3,604.79 64.5,604.47 65.7,604.25 66.9,604.14 68.1,604.15 69.3,604.29 70.5,604.54 71.7,604.9 72.9,605.33 74.1,605.83 75.3,606.36 76.5,606.92 77.7,607.47 78.9,608 80.1,608.54 81.3,609.17 82.5,609.83 83.7,610.49 84.9,611.08 86.1,611.63 87.3,612.19 88.5,612.75 89.7,613.29 90.9,613.82 92.1,614.31 93.3,614.76 94.5,615.16 95.7,615.5 96.9,615.77 98.1,616.01 99.3,616.25 100.5,616.48 101.7,616.71 102.9,616.93 104.1,617.14 105.3,617.35 106.5,617.55 107.7,617.74 108.9,617.92 110.1,618.09 111.3,618.26 112.5,618.41 113.7,618.55 114.9,618.68 116.1,618.8 117.3,618.9 118.5,618.99 119.7,619.07 120.9,619.13 122.1,619.18 123.3,619.21 124.5,619.23 125.7,619.23 126.9,619.21 128.1,619.19 129.3,619.15 130.5,619.11 131.7,619.05 132.9,618.98 134.1,618.91 135.3,618.82 136.5,618.73 137.7,618.63 138.9,618.53 140.1,618.42 141.3,618.31 142.5,618.19 143.7,618.06 144.9,617.94 146.1,617.81 147.3,617.68 148.5,617.55 149.7,617.42 150.9,617.29 152.1,617.16 153.3,617.03 154.5,616.9 155.7,616.75 156.9,616.58 158.1,616.38 159.3,616.17 160.5,615.94 161.7,615.7 162.9,615.45 164.1,615.19 165.3,614.93 166.5,614.67 167.7,614.41 168.9,614.16 170.1,613.92 171.3,613.69 172.5,613.47 173.7,613.27 174.9,613.09 176.1,612.94 177.3,612.81 178.5,612.72 179.7,612.66 180.9,612.63 182.1,612.65 183.3,612.7 184.5,612.8 185.7,612.93 186.9,613.1 188.1,613.3 189.3,613.53 190.5,613.79 191.7,614.08 192.9,614.39 194.1,614.72 195.3,615.08 196.5,615.44 197.4,615.73 L197.4,622.03 Z" fill="#c9696b" stroke="#000" stroke-width="1.1" stroke-linejoin="round"/>
<line x1="85.3" y1="622.03" x2="85.3" y2="611.27" stroke="#000" stroke-width="1"/>
<path d="M56.1,632.86 L56.1,622.16 57.3,621.35 58.5,620.63 59.7,619.99 60.9,619.45 62.1,618.99 63.3,618.63 64.5,618.35 65.7,618.16 66.9,618.07 68.1,618.08 69.3,618.25 70.5,618.55 71.7,618.96 72.9,619.45 74.1,619.98 75.3,620.54 76.5,621.1 77.7,621.61 78.9,622.06 80.1,622.45 81.3,622.85 82.5,623.25 83.7,623.66 84.9,624.07 86.1,624.47 87.3,624.85 88.5,625.22 89.7,625.57 90.9,625.9 92.1,626.19 93.3,626.46 94.5,626.68 95.7,626.87 96.9,627.05 98.1,627.23 99.3,627.4 100.5,627.58 101.7,627.75 102.9,627.91 104.1,628.07 105.3,628.23 106.5,628.38 107.7,628.53 108.9,628.66 110.1,628.79 111.3,628.92 112.5,629.03 113.7,629.14 114.9,629.24 116.1,629.33 117.3,629.41 118.5,629.48 119.7,629.54 120.9,629.59 122.1,629.62 123.3,629.65 124.5,629.66 125.7,629.66 126.9,629.65 128.1,629.63 129.3,629.61 130.5,629.58 131.7,629.54 132.9,629.49 134.1,629.44 135.3,629.38 136.5,629.32 137.7,629.25 138.9,629.18 140.1,629.1 141.3,629.02 142.5,628.93 143.7,628.84 144.9,628.75 146.1,628.65 147.3,628.55 148.5,628.45 149.7,628.35 150.9,628.25 152.1,628.14 153.3,628.04 154.5,627.93 155.7,627.8 156.9,627.64 158.1,627.44 159.3,627.23 160.5,626.98 161.7,626.73 162.9,626.45 164.1,626.16 165.3,625.87 166.5,625.57 167.7,625.26 168.9,624.96 170.1,624.67 171.3,624.38 172.5,624.1 173.7,623.84 174.9,623.59 176.1,623.37 177.3,623.17 178.5,623 179.7,622.86 180.9,622.75 182.1,622.69 183.3,622.66 184.5,622.69 185.7,622.77 186.9,622.9 188.1,623.09 189.3,623.32 190.5,623.58 191.7,623.89 192.9,624.22 194.1,624.58 195.3,624.96 196.5,625.35 197.4,625.66 L197.4,632.86 Z" fill="#3a6584" stroke="#000" stroke-width="1.1" stroke-linejoin="round"/>
<line x1="95" y1="632.86" x2="95" y2="626.76" stroke="#000" stroke-width="1"/>
<path d="M56.1,643.69 L56.1,625.69 57.3,625.21 58.5,624.8 59.7,624.46 60.9,624.19 62.1,624 63.3,623.91 64.5,623.9 65.7,623.97 66.9,624.11 68.1,624.31 69.3,624.55 70.5,624.82 71.7,625.12 72.9,625.56 74.1,626.2 75.3,626.97 76.5,627.82 77.7,628.68 78.9,629.5 80.1,630.27 81.3,631.12 82.5,632 83.7,632.88 84.9,633.72 86.1,634.47 87.3,635.11 88.5,635.59 89.7,635.96 90.9,636.32 92.1,636.64 93.3,636.95 94.5,637.23 95.7,637.48 96.9,637.71 98.1,637.92 99.3,638.11 100.5,638.27 101.7,638.4 102.9,638.52 104.1,638.62 105.3,638.72 106.5,638.82 107.7,638.92 108.9,639.01 110.1,639.1 111.3,639.18 112.5,639.26 113.7,639.33 114.9,639.4 116.1,639.46 117.3,639.52 118.5,639.56 119.7,639.61 120.9,639.64 122.1,639.66 123.3,639.68 124.5,639.69 125.7,639.69 126.9,639.68 128.1,639.67 129.3,639.65 130.5,639.62 131.7,639.59 132.9,639.55 134.1,639.51 135.3,639.46 136.5,639.42 137.7,639.36 138.9,639.31 140.1,639.25 141.3,639.19 142.5,639.12 143.7,639.06 144.9,638.99 146.1,638.93 147.3,638.86 148.5,638.79 149.7,638.73 150.9,638.66 152.1,638.6 153.3,638.54 154.5,638.47 155.7,638.41 156.9,638.33 158.1,638.25 159.3,638.16 160.5,638.07 161.7,637.97 162.9,637.87 164.1,637.77 165.3,637.67 166.5,637.57 167.7,637.47 168.9,637.37 170.1,637.28 171.3,637.19 172.5,637.11 173.7,637.03 174.9,636.96 176.1,636.91 177.3,636.86 178.5,636.82 179.7,636.8 180.9,636.79 182.1,636.8 183.3,636.85 184.5,636.93 185.7,637.03 186.9,637.17 188.1,637.32 189.3,637.5 190.5,637.7 191.7,637.92 192.9,638.15 194.1,638.39 195.3,638.64 196.5,638.89 197.4,639.09 L197.4,643.69 Z" fill="#58aca8" stroke="#000" stroke-width="1.1" stroke-linejoin="round"/>
<line x1="71.6" y1="643.69" x2="71.6" y2="625.09" stroke="#000" stroke-width="1"/>
<path d="M56.1,654.52 L56.1,644.32 57.3,643.79 58.5,643.31 59.7,642.87 60.9,642.48 62.1,642.14 63.3,641.87 64.5,641.65 65.7,641.5 66.9,641.43 68.1,641.43 69.3,641.48 70.5,641.59 71.7,641.74 72.9,641.93 74.1,642.15 75.3,642.38 76.5,642.64 77.7,642.9 78.9,643.16 80.1,643.45 81.3,643.83 82.5,644.3 83.7,644.81 84.9,645.34 86.1,645.87 87.3,646.36 88.5,646.78 89.7,647.11 90.9,647.32 92.1,647.46 93.3,647.59 94.5,647.71 95.7,647.83 96.9,647.94 98.1,648.04 99.3,648.13 100.5,648.21 101.7,648.27 102.9,648.33 104.1,648.37 105.3,648.4 106.5,648.42 107.7,648.42 108.9,648.42 110.1,648.42 111.3,648.42 112.5,648.42 113.7,648.42 114.9,648.42 116.1,648.42 117.3,648.42 118.5,648.42 119.7,648.42 120.9,648.42 122.1,648.42 123.3,648.42 124.5,648.42 125.7,648.42 126.9,648.43 128.1,648.46 129.3,648.49 130.5,648.53 131.7,648.58 132.9,648.64 134.1,648.7 135.3,648.76 136.5,648.83 137.7,648.9 138.9,648.98 140.1,649.05 141.3,649.12 142.5,649.2 143.7,649.27 144.9,649.33 146.1,649.39 147.3,649.45 148.5,649.5 149.7,649.54 150.9,649.58 152.1,649.6 153.3,649.62 154.5,649.62 155.7,649.59 156.9,649.52 158.1,649.42 159.3,649.29 160.5,649.13 161.7,648.95 162.9,648.74 164.1,648.53 165.3,648.29 166.5,648.05 167.7,647.8 168.9,647.55 170.1,647.3 171.3,647.05 172.5,646.81 173.7,646.58 174.9,646.36 176.1,646.16 177.3,645.98 178.5,645.83 179.7,645.7 180.9,645.61 182.1,645.54 183.3,645.52 184.5,645.54 185.7,645.6 186.9,645.71 188.1,645.85 189.3,646.02 190.5,646.23 191.7,646.46 192.9,646.71 194.1,646.99 195.3,647.28 196.5,647.59 197.4,647.82 L197.4,654.52 Z" fill="#4d8a6d" stroke="#000" stroke-width="1.1" stroke-linejoin="round"/>
<line x1="107.5" y1="654.52" x2="107.5" y2="648.42" stroke="#000" stroke-width="1"/>
<path d="M56.1,665.35 L56.1,648.35 57.3,647.78 58.5,647.29 59.7,646.88 60.9,646.56 62.1,646.31 63.3,646.15 64.5,646.06 65.7,646.06 66.9,646.17 68.1,646.36 69.3,646.63 70.5,646.94 71.7,647.28 72.9,647.73 74.1,648.36 75.3,649.12 76.5,649.98 77.7,650.89 78.9,651.81 80.1,652.7 81.3,653.52 82.5,654.31 83.7,655.15 84.9,656.01 86.1,656.85 87.3,657.66 88.5,658.38 89.7,658.99 90.9,659.45 92.1,659.81 93.3,660.15 94.5,660.47 95.7,660.76 96.9,661.02 98.1,661.25 99.3,661.45 100.5,661.62 101.7,661.76 102.9,661.88 104.1,661.97 105.3,662.07 106.5,662.16 107.7,662.25 108.9,662.34 110.1,662.42 111.3,662.49 112.5,662.57 113.7,662.63 114.9,662.69 116.1,662.75 117.3,662.8 118.5,662.84 119.7,662.88 120.9,662.9 122.1,662.93 123.3,662.94 124.5,662.95 125.7,662.95 126.9,662.93 128.1,662.91 129.3,662.87 130.5,662.82 131.7,662.77 132.9,662.7 134.1,662.63 135.3,662.54 136.5,662.45 137.7,662.35 138.9,662.25 140.1,662.14 141.3,662.03 142.5,661.91 143.7,661.78 144.9,661.66 146.1,661.53 147.3,661.4 148.5,661.27 149.7,661.14 150.9,661.01 152.1,660.88 153.3,660.75 154.5,660.62 155.7,660.47 156.9,660.3 158.1,660.11 159.3,659.9 160.5,659.68 161.7,659.44 162.9,659.19 164.1,658.94 165.3,658.68 166.5,658.41 167.7,658.15 168.9,657.89 170.1,657.64 171.3,657.39 172.5,657.16 173.7,656.93 174.9,656.73 176.1,656.54 177.3,656.37 178.5,656.23 179.7,656.11 180.9,656.03 182.1,655.97 183.3,655.95 184.5,655.97 185.7,656.03 186.9,656.13 188.1,656.27 189.3,656.44 190.5,656.65 191.7,656.88 192.9,657.13 194.1,657.41 195.3,657.7 196.5,658.01 197.4,658.25 L197.4,665.35 Z" fill="#ce914e" stroke="#000" stroke-width="1.1" stroke-linejoin="round"/>
<line x1="71.6" y1="665.35" x2="71.6" y2="647.25" stroke="#000" stroke-width="1"/>
<path d="M56.1,676.18 L56.1,665.88 57.3,664.91 58.5,664.02 59.7,663.21 60.9,662.47 62.1,661.81 63.3,661.23 64.5,660.73 65.7,660.32 66.9,659.98 68.1,659.73 69.3,659.57 70.5,659.49 71.7,659.5 72.9,659.63 74.1,659.86 75.3,660.18 76.5,660.56 77.7,660.99 78.9,661.46 80.1,661.95 81.3,662.43 82.5,662.9 83.7,663.39 84.9,663.97 86.1,664.62 87.3,665.31 88.5,666.01 89.7,666.71 90.9,667.38 92.1,667.98 93.3,668.5 94.5,668.91 95.7,669.26 96.9,669.59 98.1,669.9 99.3,670.2 100.5,670.48 101.7,670.73 102.9,670.97 104.1,671.19 105.3,671.38 106.5,671.56 107.7,671.7 108.9,671.83 110.1,671.95 111.3,672.07 112.5,672.19 113.7,672.3 114.9,672.4 116.1,672.5 117.3,672.58 118.5,672.66 119.7,672.73 120.9,672.79 122.1,672.83 123.3,672.86 124.5,672.88 125.7,672.88 126.9,672.87 128.1,672.86 129.3,672.85 130.5,672.83 131.7,672.81 132.9,672.78 134.1,672.75 135.3,672.72 136.5,672.68 137.7,672.64 138.9,672.59 140.1,672.54 141.3,672.49 142.5,672.44 143.7,672.38 144.9,672.32 146.1,672.26 147.3,672.19 148.5,672.13 149.7,672.06 150.9,671.99 152.1,671.91 153.3,671.84 154.5,671.76 155.7,671.64 156.9,671.48 158.1,671.28 159.3,671.04 160.5,670.78 161.7,670.48 162.9,670.16 164.1,669.82 165.3,669.47 166.5,669.12 167.7,668.76 168.9,668.4 170.1,668.04 171.3,667.7 172.5,667.37 173.7,667.07 174.9,666.78 176.1,666.53 177.3,666.31 178.5,666.13 179.7,666 180.9,665.91 182.1,665.88 183.3,665.89 184.5,665.94 185.7,666.02 186.9,666.14 188.1,666.28 189.3,666.45 190.5,666.65 191.7,666.88 192.9,667.13 194.1,667.41 195.3,667.71 196.5,668.03 197.4,668.28 L197.4,676.18 Z" fill="#924b3b" stroke="#000" stroke-width="1.1" stroke-linejoin="round"/>
<line x1="94.6" y1="676.18" x2="94.6" y2="668.94" stroke="#000" stroke-width="1"/>
</g>
<rect x="49.3" y="591.5" width="154.6" height="86.6" fill="none" stroke="#222" stroke-width="1.1"/>
<clipPath id="c2"><rect x="208.8" y="591.5" width="154.6" height="86.6"/></clipPath>
<g clip-path="url(#c2)">
<path d="M215.2,611.2 L215.2,607 216.4,604.22 217.6,601.78 218.8,599.74 220,598.18 221.2,597.14 222.4,596.71 223.6,596.92 224.8,597.68 226,598.83 227.2,600.21 228.4,601.66 229.6,603.04 230.8,604.17 232,604.97 233.2,605.72 234.4,606.45 235.6,607.15 236.8,607.81 238,608.41 239.2,608.94 240.4,609.39 241.6,609.74 242.8,609.97 244,610.13 245.2,610.27 246.4,610.39 247.6,610.5 248.8,610.59 250,610.65 251.2,610.69 252.4,610.7 253.6,610.71 254.8,610.71 256,610.72 257.2,610.72 258.4,610.73 259.6,610.73 260.8,610.74 262,610.74 263.2,610.75 264.4,610.75 265.6,610.76 266.8,610.76 268,610.76 269.2,610.77 270.4,610.77 271.6,610.77 272.8,610.77 274,610.78 275.2,610.78 276.4,610.78 277.6,610.78 278.8,610.79 280,610.79 281.2,610.79 282.4,610.79 283.6,610.79 284.8,610.79 286,610.79 287.2,610.8 288.4,610.8 289.6,610.8 290.8,610.8 292,610.8 293.2,610.8 294.4,610.8 295.6,610.8 296.8,610.8 298,610.8 299.2,610.8 300.4,610.8 301.6,610.8 302.8,610.8 304,610.8 305.2,610.8 306.4,610.8 307.6,610.79 308.8,610.79 310,610.79 311.2,610.79 312.4,610.78 313.6,610.78 314.8,610.78 316,610.77 317.2,610.77 318.4,610.76 319.6,610.76 320.8,610.75 322,610.75 323.2,610.74 324.4,610.73 325.6,610.73 326.8,610.72 328,610.71 329.2,610.71 330.4,610.7 331.6,610.67 332.8,610.62 334,610.56 335.2,610.48 336.4,610.39 337.6,610.29 338.8,610.19 340,610.09 341.2,609.99 342.4,609.9 343.6,609.81 344.8,609.73 346,609.67 347.2,609.63 348.4,609.6 349.6,609.61 350.8,609.69 352,609.82 353.2,610.01 354.4,610.22 355.6,610.46 356.8,610.7 356.8,610.7 L356.8,611.2 Z" fill="#7b5453" stroke="#000" stroke-width="1.1" stroke-linejoin="round"/>
<line x1="221.8" y1="611.2" x2="221.8" y2="596.85" stroke="#000" stroke-width="1"/>
<path d="M215.2,622.03 L215.2,621.03 216.4,617.15 217.6,613.89 218.8,611.22 220,609.09 221.2,607.47 222.4,606.31 223.6,605.59 224.8,605.26 226,605.48 227.2,606.86 228.4,609.02 229.6,611.47 230.8,613.73 232,615.46 233.2,617.22 234.4,618.8 235.6,619.86 236.8,620.26 238,620.57 239.2,620.83 240.4,621.04 241.6,621.21 242.8,621.33 244,621.41 245.2,621.43 246.4,621.44 247.6,621.45 248.8,621.45 250,621.46 251.2,621.46 252.4,621.47 253.6,621.47 254.8,621.48 256,621.48 257.2,621.49 258.4,621.49 259.6,621.49 260.8,621.5 262,621.5 263.2,621.5 264.4,621.5 265.6,621.5 266.8,621.51 268,621.51 269.2,621.51 270.4,621.51 271.6,621.51 272.8,621.52 274,621.52 275.2,621.52 276.4,621.52 277.6,621.52 278.8,621.53 280,621.53 281.2,621.53 282.4,621.54 283.6,621.54 284.8,621.54 286,621.55 287.2,621.55 288.4,621.56 289.6,621.56 290.8,621.56 292,621.57 293.2,621.57 294.4,621.58 295.6,621.58 296.8,621.58 298,621.59 299.2,621.59 300.4,621.59 301.6,621.6 302.8,621.6 304,621.61 305.2,621.61 306.4,621.61 307.6,621.61 308.8,621.62 310,621.62 311.2,621.62 312.4,621.62 313.6,621.63 314.8,621.63 316,621.63 317.2,621.63 318.4,621.63 319.6,621.63 320.8,621.63 322,621.62 323.2,621.6 324.4,621.57 325.6,621.53 326.8,621.49 328,621.44 329.2,621.39 330.4,621.34 331.6,621.28 332.8,621.22 334,621.16 335.2,621.09 336.4,621.03 337.6,620.97 338.8,620.91 340,620.86 341.2,620.81 342.4,620.76 343.6,620.72 344.8,620.69 346,620.66 347.2,620.64 348.4,620.63 349.6,620.64 350.8,620.7 352,620.82 353.2,620.98 354.4,621.16 355.6,621.35 356.8,621.53 356.8,621.53 L356.8,622.03 Z" fill="#c9696b" stroke="#000" stroke-width="1.1" stroke-linejoin="round"/>
<line x1="225.3" y1="622.03" x2="225.3" y2="605.23" stroke="#000" stroke-width="1"/>
<path d="M215.2,632.86 L215.2,629.86 216.4,626.05 217.6,622.86 218.8,620.27 220,618.25 221.2,616.76 222.4,615.77 223.6,615.26 224.8,615.24 226,616.34 227.2,618.38 228.4,620.94 229.6,623.58 230.8,625.88 232,627.56 233.2,629.21 234.4,630.65 235.6,631.54 236.8,631.78 238,631.94 239.2,632.08 240.4,632.18 241.6,632.26 242.8,632.32 244,632.35 245.2,632.36 246.4,632.36 247.6,632.36 248.8,632.36 250,632.36 251.2,632.36 252.4,632.36 253.6,632.36 254.8,632.36 256,632.36 257.2,632.36 258.4,632.36 259.6,632.36 260.8,632.36 262,632.36 263.2,632.36 264.4,632.36 265.6,632.36 266.8,632.36 268,632.36 269.2,632.36 270.4,632.36 271.6,632.36 272.8,632.36 274,632.36 275.2,632.36 276.4,632.36 277.6,632.36 278.8,632.36 280,632.36 281.2,632.36 282.4,632.36 283.6,632.36 284.8,632.36 286,632.36 287.2,632.36 288.4,632.36 289.6,632.36 290.8,632.36 292,632.36 293.2,632.36 294.4,632.36 295.6,632.36 296.8,632.36 298,632.36 299.2,632.36 300.4,632.36 301.6,632.36 302.8,632.35 304,632.34 305.2,632.33 306.4,632.32 307.6,632.3 308.8,632.28 310,632.26 311.2,632.24 312.4,632.22 313.6,632.19 314.8,632.16 316,632.13 317.2,632.11 318.4,632.07 319.6,632.04 320.8,632.01 322,631.98 323.2,631.95 324.4,631.91 325.6,631.88 326.8,631.85 328,631.81 329.2,631.78 330.4,631.75 331.6,631.72 332.8,631.69 334,631.66 335.2,631.63 336.4,631.61 337.6,631.58 338.8,631.56 340,631.54 341.2,631.52 342.4,631.5 343.6,631.49 344.8,631.48 346,631.47 347.2,631.46 348.4,631.46 349.6,631.47 350.8,631.54 352,631.66 353.2,631.82 354.4,632 355.6,632.19 356.8,632.36 356.8,632.36 L356.8,632.86 Z" fill="#3a6584" stroke="#000" stroke-width="1.1" stroke-linejoin="round"/>
<line x1="223" y1="632.86" x2="223" y2="615.46" stroke="#000" stroke-width="1"/>
<path d="M215.2,643.69 L215.2,638.49 216.4,634.62 217.6,631.28 218.8,628.53 220,626.43 221.2,625.07 222.4,624.5 223.6,624.84 224.8,626.04 226,627.87 227.2,630.07 228.4,632.42 229.6,634.66 230.8,636.55 232,637.96 233.2,639.37 234.4,640.69 235.6,641.76 236.8,642.4 238,642.59 239.2,642.73 240.4,642.85 241.6,642.95 242.8,643.03 244,643.1 245.2,643.14 246.4,643.18 247.6,643.19 248.8,643.19 250,643.19 251.2,643.19 252.4,643.19 253.6,643.19 254.8,643.19 256,643.19 257.2,643.19 258.4,643.19 259.6,643.19 260.8,643.19 262,643.19 263.2,643.19 264.4,643.19 265.6,643.19 266.8,643.19 268,643.19 269.2,643.19 270.4,643.19 271.6,643.19 272.8,643.19 274,643.19 275.2,643.19 276.4,643.19 277.6,643.19 278.8,643.19 280,643.19 281.2,643.19 282.4,643.19 283.6,643.19 284.8,643.19 286,643.19 287.2,643.19 288.4,643.19 289.6,643.19 290.8,643.19 292,643.19 293.2,643.19 294.4,643.19 295.6,643.19 296.8,643.19 298,643.19 299.2,643.19 300.4,643.19 301.6,643.18 302.8,643.17 304,643.15 305.2,643.12 306.4,643.09 307.6,643.06 308.8,643.03 310,642.99 311.2,642.95 312.4,642.92 313.6,642.89 314.8,642.86 316,642.83 317.2,642.81 318.4,642.8 319.6,642.79 320.8,642.79 322,642.8 323.2,642.82 324.4,642.84 325.6,642.87 326.8,642.9 328,642.93 329.2,642.97 330.4,643 331.6,643.04 332.8,643.07 334,643.1 335.2,643.13 336.4,643.16 337.6,643.17 338.8,643.19 340,643.19 341.2,643.19 342.4,643.19 343.6,643.19 344.8,643.19 346,643.19 347.2,643.19 348.4,643.19 349.6,643.19 350.8,643.19 352,643.19 353.2,643.19 354.4,643.19 355.6,643.19 356.8,643.19 356.8,643.19 L356.8,643.69 Z" fill="#58aca8" stroke="#000" stroke-width="1.1" stroke-linejoin="round"/>
<line x1="221.8" y1="643.69" x2="221.8" y2="624.68" stroke="#000" stroke-width="1"/>
<path d="M215.2,654.52 L215.2,653.12 216.4,650.34 217.6,647.97 218.8,646.02 220,644.47 221.2,643.3 222.4,642.52 223.6,642.1 224.8,642.09 226,643.03 227.2,644.75 228.4,646.88 229.6,649.02 230.8,650.79 232,651.81 233.2,651.91 234.4,651.82 235.6,651.69 236.8,651.52 238,651.33 239.2,651.15 240.4,650.99 241.6,650.87 242.8,650.82 244,650.85 245.2,650.94 246.4,651.09 247.6,651.29 248.8,651.53 250,651.8 251.2,652.08 252.4,652.37 253.6,652.66 254.8,652.93 256,653.18 257.2,653.39 258.4,653.56 259.6,653.67 260.8,653.72 262,653.75 263.2,653.77 264.4,653.79 265.6,653.81 266.8,653.83 268,653.85 269.2,653.87 270.4,653.89 271.6,653.9 272.8,653.92 274,653.93 275.2,653.95 276.4,653.96 277.6,653.97 278.8,653.98 280,653.99 281.2,653.99 282.4,654 283.6,654.01 284.8,654.01 286,654.01 287.2,654.02 288.4,654.02 289.6,654.02 290.8,654.02 292,654.02 293.2,654.02 294.4,654.02 295.6,654.02 296.8,654.02 298,654.02 299.2,654.02 300.4,654.02 301.6,654.02 302.8,654.02 304,654.02 305.2,654.02 306.4,654.02 307.6,654.02 308.8,654.02 310,654.02 311.2,654.02 312.4,654.02 313.6,654.02 314.8,654.02 316,654.02 317.2,654.02 318.4,654.02 319.6,654.02 320.8,654.02 322,654.02 323.2,654.02 324.4,654.02 325.6,654.02 326.8,654.02 328,654.02 329.2,654.02 330.4,654.02 331.6,654.02 332.8,654.02 334,654.02 335.2,654.02 336.4,654.02 337.6,654.02 338.8,653.98 340,653.78 341.2,653.47 342.4,653.07 343.6,652.63 344.8,652.2 346,651.81 347.2,651.51 348.4,651.34 349.6,651.34 350.8,651.5 352,651.79 353.2,652.21 354.4,652.73 355.6,653.34 356.8,654.02 356.8,654.02 L356.8,654.52 Z" fill="#4d8a6d" stroke="#000" stroke-width="1.1" stroke-linejoin="round"/>
<line x1="232.9" y1="654.52" x2="232.9" y2="651.92" stroke="#000" stroke-width="1"/>
<path d="M215.2,665.35 L215.2,658.25 216.4,655.27 217.6,652.93 218.8,651.17 220,649.95 221.2,649.23 222.4,648.96 223.6,649.43 224.8,650.96 226,653 227.2,655.01 228.4,656.53 229.6,658 230.8,659.47 232,660.82 233.2,661.95 234.4,662.74 235.6,663.18 236.8,663.54 238,663.87 239.2,664.15 240.4,664.4 241.6,664.59 242.8,664.74 244,664.82 245.2,664.85 246.4,664.86 247.6,664.86 248.8,664.87 250,664.87 251.2,664.88 252.4,664.88 253.6,664.89 254.8,664.89 256,664.89 257.2,664.9 258.4,664.9 259.6,664.9 260.8,664.91 262,664.91 263.2,664.91 264.4,664.92 265.6,664.92 266.8,664.92 268,664.92 269.2,664.93 270.4,664.93 271.6,664.93 272.8,664.93 274,664.93 275.2,664.94 276.4,664.94 277.6,664.94 278.8,664.94 280,664.94 281.2,664.94 282.4,664.94 283.6,664.94 284.8,664.95 286,664.95 287.2,664.95 288.4,664.95 289.6,664.95 290.8,664.95 292,664.95 293.2,664.95 294.4,664.95 295.6,664.95 296.8,664.95 298,664.95 299.2,664.95 300.4,664.95 301.6,664.95 302.8,664.95 304,664.95 305.2,664.95 306.4,664.95 307.6,664.95 308.8,664.95 310,664.95 311.2,664.94 312.4,664.94 313.6,664.94 314.8,664.94 316,664.94 317.2,664.94 318.4,664.93 319.6,664.93 320.8,664.93 322,664.93 323.2,664.92 324.4,664.92 325.6,664.92 326.8,664.91 328,664.91 329.2,664.9 330.4,664.9 331.6,664.89 332.8,664.89 334,664.88 335.2,664.88 336.4,664.87 337.6,664.86 338.8,664.86 340,664.85 341.2,664.73 342.4,664.44 343.6,664.04 344.8,663.57 346,663.11 347.2,662.72 348.4,662.44 349.6,662.35 350.8,662.44 352,662.69 353.2,663.07 354.4,663.56 355.6,664.16 356.8,664.85 356.8,664.85 L356.8,665.35 Z" fill="#ce914e" stroke="#000" stroke-width="1.1" stroke-linejoin="round"/>
<line x1="222" y1="665.35" x2="222" y2="649" stroke="#000" stroke-width="1"/>
<path d="M215.2,676.18 L215.2,675.68 216.4,675.12 217.6,674.32 218.8,673.32 220,672.16 221.2,670.88 222.4,669.45 223.6,667.2 224.8,664.37 226,661.51 227.2,659.16 228.4,657.88 229.6,658.18 230.8,659.96 232,662.63 233.2,665.54 234.4,668.08 235.6,669.9 236.8,671.74 238,673.37 239.2,674.44 240.4,674.68 241.6,674.63 242.8,674.56 244,674.48 245.2,674.41 246.4,674.38 247.6,674.4 248.8,674.47 250,674.58 251.2,674.72 252.4,674.87 253.6,675.03 254.8,675.18 256,675.33 257.2,675.45 258.4,675.53 259.6,675.58 260.8,675.58 262,675.57 263.2,675.55 264.4,675.52 265.6,675.48 266.8,675.44 268,675.4 269.2,675.35 270.4,675.3 271.6,675.26 272.8,675.21 274,675.16 275.2,675.12 276.4,675.08 277.6,675.04 278.8,675.01 280,674.99 281.2,674.98 282.4,674.98 283.6,674.99 284.8,675.02 286,675.06 287.2,675.11 288.4,675.17 289.6,675.23 290.8,675.3 292,675.37 293.2,675.43 294.4,675.5 295.6,675.55 296.8,675.6 298,675.64 299.2,675.67 300.4,675.68 301.6,675.69 302.8,675.7 304,675.71 305.2,675.72 306.4,675.73 307.6,675.74 308.8,675.75 310,675.75 311.2,675.76 312.4,675.76 313.6,675.77 314.8,675.77 316,675.78 317.2,675.78 318.4,675.78 319.6,675.78 320.8,675.78 322,675.77 323.2,675.76 324.4,675.74 325.6,675.72 326.8,675.7 328,675.67 329.2,675.64 330.4,675.6 331.6,675.57 332.8,675.53 334,675.5 335.2,675.46 336.4,675.42 337.6,675.39 338.8,675.35 340,675.32 341.2,675.29 342.4,675.26 343.6,675.23 344.8,675.21 346,675.2 347.2,675.19 348.4,675.18 349.6,675.18 350.8,675.22 352,675.29 353.2,675.37 354.4,675.47 355.6,675.58 356.8,675.68 356.8,675.68 L356.8,676.18 Z" fill="#924b3b" stroke="#000" stroke-width="1.1" stroke-linejoin="round"/>
<line x1="228.8" y1="676.18" x2="228.8" y2="657.78" stroke="#000" stroke-width="1"/>
</g>
<rect x="208.8" y="591.5" width="154.6" height="86.6" fill="none" stroke="#222" stroke-width="1.1"/>
<clipPath id="c3"><rect x="368.6" y="591.5" width="154.6" height="86.6"/></clipPath>
<g clip-path="url(#c3)">
<path d="M374.8,611.2 L374.8,610.7 376,610.05 377.2,609.43 378.4,608.87 379.6,608.38 380.8,607.99 382,607.73 383.2,607.61 384.4,607.62 385.6,607.69 386.8,607.81 388,607.96 389.2,608.13 390.4,608.3 391.6,608.45 392.8,608.58 394,608.67 395.2,608.7 396.4,608.7 397.6,608.7 398.8,608.7 400,608.7 401.2,608.7 402.4,608.7 403.6,608.7 404.8,608.7 406,608.7 407.2,608.7 408.4,608.7 409.6,608.7 410.8,608.7 412,608.7 413.2,608.7 414.4,608.7 415.6,608.7 416.8,608.7 418,608.7 419.2,608.7 420.4,608.7 421.6,608.69 422.8,608.68 424,608.66 425.2,608.63 426.4,608.6 427.6,608.56 428.8,608.52 430,608.48 431.2,608.43 432.4,608.38 433.6,608.33 434.8,608.28 436,608.23 437.2,608.18 438.4,608.13 439.6,608.09 440.8,608.04 442,608 443.2,607.97 444.4,607.93 445.6,607.91 446.8,607.89 448,607.87 449.2,607.85 450.4,607.84 451.6,607.82 452.8,607.81 454,607.8 455.2,607.79 456.4,607.78 457.6,607.77 458.8,607.76 460,607.75 461.2,607.74 462.4,607.72 463.6,607.71 464.8,607.69 466,607.68 467.2,607.66 468.4,607.63 469.6,607.61 470.8,607.58 472,607.54 473.2,607.49 474.4,607.42 475.6,607.34 476.8,607.26 478,607.15 479.2,607.04 480.4,606.91 481.6,606.77 482.8,606.61 484,606.44 485.2,606.25 486.4,606.05 487.6,605.83 488.8,605.6 490,605.35 491.2,605.06 492.4,604.55 493.6,603.84 494.8,603.01 496,602.13 497.2,601.23 498.4,600.07 499.6,598.69 500.8,597.22 502,595.74 503.2,594.38 504.4,593.23 505.6,592.41 506.8,592.02 508,592.13 509.2,592.67 510.4,593.62 511.6,594.94 512.8,596.62 514,598.62 515.2,600.93 516.4,603.5 L516.4,611.2 Z" fill="#7b5453" stroke="#000" stroke-width="1.1" stroke-linejoin="round"/>
<line x1="490.5" y1="611.2" x2="490.5" y2="605.24" stroke="#000" stroke-width="1"/>
<path d="M374.8,622.03 L374.8,621.53 376,620.65 377.2,619.85 378.4,619.14 379.6,618.54 380.8,618.05 382,617.68 383.2,617.44 384.4,617.33 385.6,617.39 386.8,617.63 388,617.99 389.2,618.42 390.4,618.86 391.6,619.25 392.8,619.53 394,619.63 395.2,619.63 396.4,619.63 397.6,619.62 398.8,619.61 400,619.61 401.2,619.6 402.4,619.58 403.6,619.57 404.8,619.56 406,619.54 407.2,619.53 408.4,619.51 409.6,619.49 410.8,619.48 412,619.46 413.2,619.44 414.4,619.42 415.6,619.4 416.8,619.38 418,619.36 419.2,619.34 420.4,619.32 421.6,619.3 422.8,619.28 424,619.26 425.2,619.23 426.4,619.2 427.6,619.17 428.8,619.14 430,619.11 431.2,619.08 432.4,619.05 433.6,619.02 434.8,618.98 436,618.95 437.2,618.92 438.4,618.89 439.6,618.86 440.8,618.83 442,618.81 443.2,618.78 444.4,618.76 445.6,618.74 446.8,618.72 448,618.7 449.2,618.69 450.4,618.67 451.6,618.66 452.8,618.65 454,618.64 455.2,618.63 456.4,618.62 457.6,618.61 458.8,618.6 460,618.59 461.2,618.57 462.4,618.56 463.6,618.54 464.8,618.53 466,618.51 467.2,618.49 468.4,618.47 469.6,618.44 470.8,618.41 472,618.35 473.2,618.28 474.4,618.18 475.6,618.07 476.8,617.93 478,617.78 479.2,617.6 480.4,617.41 481.6,617.21 482.8,616.98 484,616.74 485.2,616.48 486.4,616.21 487.6,615.93 488.8,615.62 490,615.16 491.2,614.56 492.4,613.86 493.6,613.08 494.8,612.29 496,611.5 497.2,610.74 498.4,609.83 499.6,608.81 500.8,607.75 502,606.71 503.2,605.76 504.4,604.97 505.6,604.41 506.8,604.14 508,604.26 509.2,604.81 510.4,605.77 511.6,607.09 512.8,608.73 514,610.66 515.2,612.84 516.4,615.23 L516.4,622.03 Z" fill="#c9696b" stroke="#000" stroke-width="1.1" stroke-linejoin="round"/>
<line x1="488.7" y1="622.03" x2="488.7" y2="615.65" stroke="#000" stroke-width="1"/>
<path d="M374.8,632.86 L374.8,632.36 376,631.65 377.2,631 378.4,630.42 379.6,629.93 380.8,629.54 382,629.28 383.2,629.17 384.4,629.2 385.6,629.34 386.8,629.56 388,629.83 389.2,630.12 390.4,630.4 391.6,630.63 392.8,630.8 394,630.86 395.2,630.86 396.4,630.85 397.6,630.84 398.8,630.83 400,630.82 401.2,630.8 402.4,630.78 403.6,630.75 404.8,630.72 406,630.7 407.2,630.66 408.4,630.63 409.6,630.59 410.8,630.55 412,630.51 413.2,630.47 414.4,630.43 415.6,630.38 416.8,630.34 418,630.29 419.2,630.24 420.4,630.19 421.6,630.14 422.8,630.09 424,630.04 425.2,629.99 426.4,629.94 427.6,629.88 428.8,629.83 430,629.78 431.2,629.73 432.4,629.68 433.6,629.62 434.8,629.57 436,629.52 437.2,629.48 438.4,629.43 439.6,629.38 440.8,629.34 442,629.29 443.2,629.25 444.4,629.21 445.6,629.17 446.8,629.14 448,629.1 449.2,629.07 450.4,629.04 451.6,629.01 452.8,628.99 454,628.96 455.2,628.93 456.4,628.91 457.6,628.88 458.8,628.85 460,628.82 461.2,628.79 462.4,628.75 463.6,628.72 464.8,628.68 466,628.63 467.2,628.59 468.4,628.54 469.6,628.48 470.8,628.42 472,628.34 473.2,628.24 474.4,628.14 475.6,628.01 476.8,627.87 478,627.71 479.2,627.54 480.4,627.35 481.6,627.15 482.8,626.93 484,626.69 485.2,626.44 486.4,626.17 487.6,625.88 488.8,625.58 490,625.26 491.2,624.9 492.4,624.39 493.6,623.73 494.8,622.96 496,622.14 497.2,621.3 498.4,620.44 499.6,619.34 500.8,618.09 502,616.79 503.2,615.56 504.4,614.51 505.6,613.74 506.8,613.38 508,613.5 509.2,614.08 510.4,615.11 511.6,616.54 512.8,618.34 514,620.48 515.2,622.93 516.4,625.66 L516.4,632.86 Z" fill="#3a6584" stroke="#000" stroke-width="1.1" stroke-linejoin="round"/>
<line x1="490.7" y1="632.86" x2="490.7" y2="625.06" stroke="#000" stroke-width="1"/>
<path d="M374.8,643.69 L374.8,643.19 376,642.41 377.2,641.69 378.4,641.05 379.6,640.52 380.8,640.1 382,639.82 383.2,639.7 384.4,639.73 385.6,639.91 386.8,640.18 388,640.52 389.2,640.87 390.4,641.22 391.6,641.51 392.8,641.71 394,641.79 395.2,641.79 396.4,641.78 397.6,641.78 398.8,641.76 400,641.75 401.2,641.73 402.4,641.72 403.6,641.69 404.8,641.67 406,641.64 407.2,641.62 408.4,641.59 409.6,641.55 410.8,641.52 412,641.48 413.2,641.45 414.4,641.41 415.6,641.37 416.8,641.33 418,641.28 419.2,641.24 420.4,641.2 421.6,641.15 422.8,641.11 424,641.06 425.2,641.02 426.4,640.97 427.6,640.92 428.8,640.88 430,640.83 431.2,640.79 432.4,640.74 433.6,640.7 434.8,640.65 436,640.61 437.2,640.57 438.4,640.52 439.6,640.48 440.8,640.44 442,640.41 443.2,640.37 444.4,640.33 445.6,640.3 446.8,640.27 448,640.24 449.2,640.21 450.4,640.19 451.6,640.17 452.8,640.14 454,640.12 455.2,640.1 456.4,640.08 457.6,640.06 458.8,640.03 460,640.01 461.2,639.98 462.4,639.95 463.6,639.92 464.8,639.89 466,639.85 467.2,639.81 468.4,639.76 469.6,639.71 470.8,639.64 472,639.54 473.2,639.4 474.4,639.23 475.6,639.03 476.8,638.81 478,638.56 479.2,638.28 480.4,638 481.6,637.69 482.8,637.38 484,637.06 485.2,636.73 486.4,636.41 487.6,636.08 488.8,635.72 490,635.33 491.2,634.91 492.4,634.46 493.6,633.98 494.8,633.48 496,632.96 497.2,632.39 498.4,631.64 499.6,630.77 500.8,629.85 502,628.98 503.2,628.22 504.4,627.67 505.6,627.4 506.8,627.49 508,627.9 509.2,628.62 510.4,629.64 511.6,630.94 512.8,632.49 514,634.27 515.2,636.28 516.4,638.49 L516.4,643.69 Z" fill="#58aca8" stroke="#000" stroke-width="1.1" stroke-linejoin="round"/>
<line x1="487.4" y1="643.69" x2="487.4" y2="636.14" stroke="#000" stroke-width="1"/>
<path d="M374.8,654.52 L374.8,654.02 376,653.33 377.2,652.68 378.4,652.1 379.6,651.6 380.8,651.21 382,650.95 383.2,650.83 384.4,650.85 385.6,650.97 386.8,651.16 388,651.4 389.2,651.66 390.4,651.92 391.6,652.16 392.8,652.36 394,652.48 395.2,652.52 396.4,652.52 397.6,652.51 398.8,652.5 400,652.49 401.2,652.48 402.4,652.46 403.6,652.44 404.8,652.42 406,652.4 407.2,652.37 408.4,652.35 409.6,652.32 410.8,652.29 412,652.25 413.2,652.22 414.4,652.18 415.6,652.15 416.8,652.11 418,652.07 419.2,652.04 420.4,652 421.6,651.96 422.8,651.92 424,651.88 425.2,651.84 426.4,651.8 427.6,651.76 428.8,651.73 430,651.69 431.2,651.65 432.4,651.62 433.6,651.58 434.8,651.55 436,651.52 437.2,651.48 438.4,651.46 439.6,651.43 440.8,651.4 442,651.38 443.2,651.36 444.4,651.34 445.6,651.32 446.8,651.31 448,651.3 449.2,651.29 450.4,651.28 451.6,651.27 452.8,651.26 454,651.26 455.2,651.25 456.4,651.24 457.6,651.24 458.8,651.23 460,651.22 461.2,651.22 462.4,651.21 463.6,651.2 464.8,651.19 466,651.17 467.2,651.16 468.4,651.14 469.6,651.13 470.8,651.1 472,651.04 473.2,650.94 474.4,650.82 475.6,650.66 476.8,650.48 478,650.27 479.2,650.04 480.4,649.8 481.6,649.53 482.8,649.25 484,648.96 485.2,648.66 486.4,648.35 487.6,648.03 488.8,647.71 490,647.33 491.2,646.88 492.4,646.37 493.6,645.82 494.8,645.24 496,644.63 497.2,643.98 498.4,643.14 499.6,642.14 500.8,641.08 502,640.01 503.2,639.03 504.4,638.2 505.6,637.61 506.8,637.33 508,637.46 509.2,638.05 510.4,639.06 511.6,640.46 512.8,642.19 514,644.23 515.2,646.52 516.4,649.02 L516.4,654.52 Z" fill="#4d8a6d" stroke="#000" stroke-width="1.1" stroke-linejoin="round"/>
<line x1="488.7" y1="654.52" x2="488.7" y2="647.74" stroke="#000" stroke-width="1"/>
<path d="M374.8,665.35 L374.8,664.85 376,664.26 377.2,663.67 378.4,663.13 379.6,662.64 380.8,662.25 382,661.98 383.2,661.86 384.4,661.86 385.6,661.92 386.8,662.01 388,662.13 389.2,662.27 390.4,662.43 391.6,662.61 392.8,662.78 394,662.95 395.2,663.11 396.4,663.26 397.6,663.38 398.8,663.48 400,663.53 401.2,663.55 402.4,663.55 403.6,663.54 404.8,663.53 406,663.52 407.2,663.51 408.4,663.49 409.6,663.47 410.8,663.45 412,663.43 413.2,663.4 414.4,663.37 415.6,663.34 416.8,663.31 418,663.28 419.2,663.24 420.4,663.21 421.6,663.17 422.8,663.13 424,663.09 425.2,663.05 426.4,663.01 427.6,662.97 428.8,662.93 430,662.88 431.2,662.84 432.4,662.8 433.6,662.76 434.8,662.71 436,662.67 437.2,662.63 438.4,662.59 439.6,662.55 440.8,662.51 442,662.47 443.2,662.43 444.4,662.4 445.6,662.36 446.8,662.33 448,662.3 449.2,662.27 450.4,662.24 451.6,662.21 452.8,662.18 454,662.16 455.2,662.13 456.4,662.1 457.6,662.07 458.8,662.04 460,662.01 461.2,661.98 462.4,661.94 463.6,661.91 464.8,661.87 466,661.82 467.2,661.78 468.4,661.72 469.6,661.67 470.8,661.61 472,661.54 473.2,661.46 474.4,661.38 475.6,661.28 476.8,661.18 478,661.06 479.2,660.92 480.4,660.78 481.6,660.62 482.8,660.45 484,660.26 485.2,660.05 486.4,659.83 487.6,659.58 488.8,659.32 490,659.04 491.2,658.74 492.4,658.42 493.6,658.02 494.8,657.29 496,656.29 497.2,655.18 498.4,654.07 499.6,653.03 500.8,651.78 502,650.43 503.2,649.1 504.4,647.94 505.6,647.08 506.8,646.67 508,646.78 509.2,647.37 510.4,648.41 511.6,649.86 512.8,651.72 514,653.95 515.2,656.53 516.4,659.45 L516.4,665.35 Z" fill="#ce914e" stroke="#000" stroke-width="1.1" stroke-linejoin="round"/>
<line x1="493.6" y1="665.35" x2="493.6" y2="658.02" stroke="#000" stroke-width="1"/>
<path d="M374.8,676.18 L374.8,675.68 376,674.74 377.2,673.9 378.4,673.16 379.6,672.52 380.8,671.97 382,671.52 383.2,671.15 384.4,670.88 385.6,670.7 386.8,670.6 388,670.6 389.2,670.83 390.4,671.29 391.6,671.89 392.8,672.58 394,673.29 395.2,673.94 396.4,674.46 397.6,674.8 398.8,674.88 400,674.84 401.2,674.76 402.4,674.65 403.6,674.52 404.8,674.36 406,674.2 407.2,674.03 408.4,673.88 409.6,673.73 410.8,673.61 412,673.52 413.2,673.47 414.4,673.44 415.6,673.41 416.8,673.38 418,673.34 419.2,673.32 420.4,673.29 421.6,673.26 422.8,673.23 424,673.21 425.2,673.19 426.4,673.16 427.6,673.14 428.8,673.12 430,673.1 431.2,673.09 432.4,673.07 433.6,673.05 434.8,673.04 436,673.03 437.2,673.02 438.4,673.01 439.6,673 440.8,672.99 442,672.99 443.2,672.98 444.4,672.98 445.6,672.98 446.8,672.98 448,672.98 449.2,672.98 450.4,672.98 451.6,672.98 452.8,672.98 454,672.98 455.2,672.98 456.4,672.98 457.6,672.98 458.8,672.98 460,672.98 461.2,672.98 462.4,672.98 463.6,672.98 464.8,672.98 466,672.98 467.2,672.98 468.4,672.98 469.6,672.98 470.8,672.97 472,672.94 473.2,672.88 474.4,672.79 475.6,672.67 476.8,672.53 478,672.37 479.2,672.19 480.4,671.99 481.6,671.77 482.8,671.54 484,671.29 485.2,671.02 486.4,670.74 487.6,670.46 488.8,670.16 490,669.84 491.2,669.41 492.4,668.86 493.6,668.24 494.8,667.55 496,666.84 497.2,666.08 498.4,665.1 499.6,663.94 500.8,662.69 502,661.45 503.2,660.29 504.4,659.32 505.6,658.62 506.8,658.29 508,658.4 509.2,658.91 510.4,659.79 511.6,661.03 512.8,662.58 514,664.43 515.2,666.54 516.4,668.88 L516.4,676.18 Z" fill="#924b3b" stroke="#000" stroke-width="1.1" stroke-linejoin="round"/>
<line x1="489.3" y1="676.18" x2="489.3" y2="670.03" stroke="#000" stroke-width="1"/>
</g>
<rect x="368.6" y="591.5" width="154.6" height="86.6" fill="none" stroke="#222" stroke-width="1.1"/>
<clipPath id="c4"><rect x="527.5" y="591.5" width="154.6" height="86.6"/></clipPath>
<g clip-path="url(#c4)">
<path d="M534.3,611.2 L534.3,610.7 535.5,610.61 536.7,610.52 537.9,610.45 539.1,610.38 540.3,610.32 541.5,610.27 542.7,610.23 543.9,610.21 545.1,610.2 546.3,610.21 547.5,610.23 548.7,610.26 549.9,610.3 551.1,610.34 552.3,610.39 553.5,610.44 554.7,610.49 555.9,610.53 557.1,610.56 558.3,610.59 559.5,610.6 560.7,610.59 561.9,610.53 563.1,610.43 564.3,610.33 565.5,610.25 566.7,610.2 567.9,610.21 569.1,610.23 570.3,610.26 571.5,610.31 572.7,610.36 573.9,610.42 575.1,610.47 576.3,610.52 577.5,610.56 578.7,610.59 579.9,610.6 581.1,610.6 582.3,610.59 583.5,610.58 584.7,610.56 585.9,610.54 587.1,610.51 588.3,610.49 589.5,610.46 590.7,610.43 591.9,610.41 593.1,610.38 594.3,610.36 595.5,610.34 596.7,610.32 597.9,610.31 599.1,610.3 600.3,610.3 601.5,610.3 602.7,610.31 603.9,610.33 605.1,610.35 606.3,610.37 607.5,610.39 608.7,610.42 609.9,610.45 611.1,610.47 612.3,610.5 613.5,610.53 614.7,610.55 615.9,610.57 617.1,610.58 618.3,610.59 619.5,610.6 620.7,610.6 621.9,610.59 623.1,610.58 624.3,610.56 625.5,610.54 626.7,610.51 627.9,610.47 629.1,610.43 630.3,610.39 631.5,610.34 632.7,610.29 633.9,610.23 635.1,610.17 636.3,610.11 637.5,610.05 638.7,609.98 639.9,609.91 641.1,609.83 642.3,609.73 643.5,609.62 644.7,609.49 645.9,609.33 647.1,609.16 648.3,608.95 649.5,608.72 650.7,608.45 651.9,608.15 653.1,607.82 654.3,607.45 655.5,607.04 656.7,606.3 657.9,604.98 659.1,603.31 660.3,601.53 661.5,599.87 662.7,597.97 663.9,595.78 665.1,593.76 666.3,592.37 667.5,592.01 668.7,592.18 669.9,592.62 671.1,593.38 672.3,594.53 673.5,596.13 674.7,598.21 675.9,600.85 676,601.1 L676,611.2 Z" fill="#7b5453" stroke="#000" stroke-width="1.1" stroke-linejoin="round"/>
<line x1="667.6" y1="611.2" x2="667.6" y2="592.01" stroke="#000" stroke-width="1"/>
<path d="M534.3,622.03 L534.3,621.53 535.5,620.88 536.7,620.33 537.9,619.88 539.1,619.52 540.3,619.25 541.5,619.06 542.7,618.96 543.9,618.93 545.1,619.12 546.3,619.51 547.5,620.02 548.7,620.56 549.9,621.03 551.1,621.35 552.3,621.43 553.5,621.4 554.7,621.33 555.9,621.23 557.1,621.11 558.3,620.97 559.5,620.83 560.7,620.69 561.9,620.55 563.1,620.43 564.3,620.33 565.5,620.26 566.7,620.23 567.9,620.25 569.1,620.35 570.3,620.5 571.5,620.69 572.7,620.9 573.9,621.11 575.1,621.29 576.3,621.43 577.5,621.52 578.7,621.54 579.9,621.55 581.1,621.56 582.3,621.57 583.5,621.58 584.7,621.58 585.9,621.59 587.1,621.6 588.3,621.6 589.5,621.61 590.7,621.61 591.9,621.62 593.1,621.62 594.3,621.62 595.5,621.63 596.7,621.63 597.9,621.63 599.1,621.63 600.3,621.63 601.5,621.63 602.7,621.63 603.9,621.62 605.1,621.62 606.3,621.61 607.5,621.6 608.7,621.59 609.9,621.58 611.1,621.57 612.3,621.55 613.5,621.54 614.7,621.52 615.9,621.5 617.1,621.48 618.3,621.46 619.5,621.43 620.7,621.41 621.9,621.38 623.1,621.35 624.3,621.32 625.5,621.29 626.7,621.25 627.9,621.21 629.1,621.18 630.3,621.13 631.5,621.09 632.7,621.05 633.9,621 635.1,620.95 636.3,620.9 637.5,620.85 638.7,620.78 639.9,620.64 641.1,620.42 642.3,620.13 643.5,619.77 644.7,619.35 645.9,618.89 647.1,618.38 648.3,617.83 649.5,617.25 650.7,616.64 651.9,616.01 653.1,615.37 654.3,614.73 655.5,614.08 656.7,613.31 657.9,612.27 659.1,611.05 660.3,609.76 661.5,608.47 662.7,607.29 663.9,606.29 665.1,605.58 666.3,605.25 667.5,605.31 668.7,605.68 669.9,606.32 671.1,607.22 672.3,608.38 673.5,609.79 674.7,611.42 675.9,613.27 676,613.43 L676,622.03 Z" fill="#c9696b" stroke="#000" stroke-width="1.1" stroke-linejoin="round"/>
<line x1="666.6" y1="622.03" x2="666.6" y2="605.23" stroke="#000" stroke-width="1"/>
<path d="M534.3,632.86 L534.3,632.26 535.5,632.12 536.7,632.01 537.9,631.91 539.1,631.83 540.3,631.77 541.5,631.72 542.7,631.68 543.9,631.67 545.1,631.66 546.3,631.69 547.5,631.77 548.7,631.88 549.9,632 551.1,632.12 552.3,632.23 553.5,632.32 554.7,632.36 555.9,632.35 557.1,632.33 558.3,632.3 559.5,632.25 560.7,632.2 561.9,632.14 563.1,632.08 564.3,632.02 565.5,631.97 566.7,631.92 567.9,631.89 569.1,631.87 570.3,631.86 571.5,631.87 572.7,631.9 573.9,631.94 575.1,631.99 576.3,632.05 577.5,632.11 578.7,632.17 579.9,632.23 581.1,632.28 582.3,632.32 583.5,632.35 584.7,632.36 585.9,632.36 587.1,632.36 588.3,632.36 589.5,632.36 590.7,632.35 591.9,632.35 593.1,632.34 594.3,632.34 595.5,632.33 596.7,632.33 597.9,632.32 599.1,632.31 600.3,632.31 601.5,632.3 602.7,632.29 603.9,632.28 605.1,632.27 606.3,632.26 607.5,632.24 608.7,632.23 609.9,632.22 611.1,632.21 612.3,632.19 613.5,632.18 614.7,632.16 615.9,632.15 617.1,632.12 618.3,632.08 619.5,632.04 620.7,631.98 621.9,631.92 623.1,631.85 624.3,631.78 625.5,631.69 626.7,631.6 627.9,631.5 629.1,631.4 630.3,631.29 631.5,631.17 632.7,631.05 633.9,630.93 635.1,630.79 636.3,630.66 637.5,630.52 638.7,630.37 639.9,630.2 641.1,630 642.3,629.78 643.5,629.53 644.7,629.25 645.9,628.95 647.1,628.63 648.3,628.28 649.5,627.91 650.7,627.51 651.9,627.09 653.1,626.65 654.3,626.19 655.5,625.7 656.7,625.06 657.9,624.15 659.1,623.03 660.3,621.81 661.5,620.56 662.7,619.36 663.9,618.31 665.1,617.49 666.3,616.98 667.5,616.87 668.7,617.17 669.9,617.83 671.1,618.82 672.3,620.12 673.5,621.68 674.7,623.48 675.9,625.48 676,625.66 L676,632.86 Z" fill="#3a6584" stroke="#000" stroke-width="1.1" stroke-linejoin="round"/>
<line x1="667.6" y1="632.86" x2="667.6" y2="616.88" stroke="#000" stroke-width="1"/>
<path d="M534.3,643.69 L534.3,643.09 535.5,642.91 536.7,642.75 537.9,642.61 539.1,642.48 540.3,642.37 541.5,642.28 542.7,642.21 543.9,642.15 545.1,642.11 546.3,642.09 547.5,642.09 548.7,642.14 549.9,642.22 551.1,642.33 552.3,642.45 553.5,642.59 554.7,642.73 555.9,642.85 557.1,642.96 558.3,643.04 559.5,643.09 560.7,643.09 561.9,643.09 563.1,643.09 564.3,643.09 565.5,643.09 566.7,643.09 567.9,643.09 569.1,643.09 570.3,643.09 571.5,643.09 572.7,643.09 573.9,643.09 575.1,643.09 576.3,643.09 577.5,643.09 578.7,643.09 579.9,643.09 581.1,643.09 582.3,643.09 583.5,643.09 584.7,643.09 585.9,643.09 587.1,643.09 588.3,643.09 589.5,643.09 590.7,643.09 591.9,643.09 593.1,643.09 594.3,643.09 595.5,643.09 596.7,643.09 597.9,643.09 599.1,643.09 600.3,643.09 601.5,643.09 602.7,643.08 603.9,643.07 605.1,643.06 606.3,643.04 607.5,643.02 608.7,643 609.9,642.97 611.1,642.94 612.3,642.91 613.5,642.87 614.7,642.83 615.9,642.79 617.1,642.74 618.3,642.69 619.5,642.64 620.7,642.58 621.9,642.52 623.1,642.46 624.3,642.39 625.5,642.32 626.7,642.24 627.9,642.16 629.1,642.08 630.3,642 631.5,641.91 632.7,641.82 633.9,641.72 635.1,641.63 636.3,641.52 637.5,641.42 638.7,641.31 639.9,641.2 641.1,641.05 642.3,640.82 643.5,640.53 644.7,640.18 645.9,639.8 647.1,639.39 648.3,638.97 649.5,638.56 650.7,638.15 651.9,637.72 653.1,637.28 654.3,636.82 655.5,636.33 656.7,635.82 657.9,635.26 659.1,634.67 660.3,634.04 661.5,633.36 662.7,632.62 663.9,631.45 665.1,630.08 666.3,629.23 667.5,629.24 668.7,629.46 669.9,629.92 671.1,630.65 672.3,631.68 673.5,633.07 674.7,634.86 675.9,637.08 676,637.29 L676,643.69 Z" fill="#58aca8" stroke="#000" stroke-width="1.1" stroke-linejoin="round"/>
<line x1="662.6" y1="643.69" x2="662.6" y2="632.69" stroke="#000" stroke-width="1"/>
<path d="M534.3,654.52 L534.3,654.02 535.5,653.35 536.7,652.78 537.9,652.3 539.1,651.93 540.3,651.65 541.5,651.46 542.7,651.35 543.9,651.32 545.1,651.51 546.3,651.92 547.5,652.45 548.7,653 549.9,653.49 551.1,653.83 552.3,653.92 553.5,653.94 554.7,653.95 555.9,653.96 557.1,653.97 558.3,653.98 559.5,653.99 560.7,654 561.9,654.01 563.1,654.02 564.3,654.03 565.5,654.03 566.7,654.04 567.9,654.05 569.1,654.05 570.3,654.06 571.5,654.07 572.7,654.07 573.9,654.08 575.1,654.08 576.3,654.09 577.5,654.09 578.7,654.09 579.9,654.1 581.1,654.1 582.3,654.1 583.5,654.11 584.7,654.11 585.9,654.11 587.1,654.11 588.3,654.11 589.5,654.11 590.7,654.12 591.9,654.12 593.1,654.12 594.3,654.12 595.5,654.12 596.7,654.12 597.9,654.12 599.1,654.12 600.3,654.12 601.5,654.12 602.7,654.12 603.9,654.11 605.1,654.1 606.3,654.1 607.5,654.09 608.7,654.08 609.9,654.06 611.1,654.05 612.3,654.03 613.5,654.01 614.7,653.99 615.9,653.97 617.1,653.95 618.3,653.92 619.5,653.89 620.7,653.86 621.9,653.83 623.1,653.8 624.3,653.76 625.5,653.72 626.7,653.69 627.9,653.64 629.1,653.6 630.3,653.56 631.5,653.51 632.7,653.46 633.9,653.41 635.1,653.36 636.3,653.3 637.5,653.24 638.7,653.18 639.9,653.06 641.1,652.88 642.3,652.66 643.5,652.4 644.7,652.08 645.9,651.73 647.1,651.35 648.3,650.92 649.5,650.47 650.7,649.99 651.9,649.49 653.1,648.97 654.3,648.42 655.5,647.87 656.7,647.14 657.9,646.07 659.1,644.78 660.3,643.37 661.5,641.96 662.7,640.64 663.9,639.52 665.1,638.72 666.3,638.34 667.5,638.42 668.7,638.85 669.9,639.6 671.1,640.66 672.3,642.01 673.5,643.64 674.7,645.52 675.9,647.63 676,647.82 L676,654.52 Z" fill="#4d8a6d" stroke="#000" stroke-width="1.1" stroke-linejoin="round"/>
<line x1="664.9" y1="654.52" x2="664.9" y2="638.83" stroke="#000" stroke-width="1"/>
<path d="M534.3,665.35 L534.3,664.85 535.5,664.85 536.7,664.85 537.9,664.85 539.1,664.85 540.3,664.85 541.5,664.85 542.7,664.85 543.9,664.85 545.1,664.85 546.3,664.85 547.5,664.85 548.7,664.85 549.9,664.85 551.1,664.83 552.3,664.76 553.5,664.66 554.7,664.53 555.9,664.39 557.1,664.24 558.3,664.11 559.5,663.99 560.7,663.9 561.9,663.85 563.1,663.86 564.3,663.91 565.5,664 566.7,664.12 567.9,664.26 569.1,664.4 570.3,664.54 571.5,664.66 572.7,664.76 573.9,664.83 575.1,664.85 576.3,664.85 577.5,664.85 578.7,664.85 579.9,664.85 581.1,664.85 582.3,664.85 583.5,664.85 584.7,664.85 585.9,664.85 587.1,664.85 588.3,664.85 589.5,664.85 590.7,664.85 591.9,664.85 593.1,664.85 594.3,664.85 595.5,664.85 596.7,664.85 597.9,664.85 599.1,664.85 600.3,664.85 601.5,664.85 602.7,664.84 603.9,664.83 605.1,664.82 606.3,664.8 607.5,664.78 608.7,664.75 609.9,664.72 611.1,664.69 612.3,664.66 613.5,664.62 614.7,664.58 615.9,664.53 617.1,664.48 618.3,664.43 619.5,664.38 620.7,664.32 621.9,664.26 623.1,664.19 624.3,664.13 625.5,664.06 626.7,663.98 627.9,663.91 629.1,663.83 630.3,663.74 631.5,663.66 632.7,663.57 633.9,663.48 635.1,663.39 636.3,663.29 637.5,663.19 638.7,663.09 639.9,662.95 641.1,662.78 642.3,662.57 643.5,662.33 644.7,662.07 645.9,661.77 647.1,661.44 648.3,661.09 649.5,660.7 650.7,660.29 651.9,659.86 653.1,659.39 654.3,658.91 655.5,658.39 656.7,657.68 657.9,656.58 659.1,655.23 660.3,653.76 661.5,652.29 662.7,650.94 663.9,649.86 665.1,649.15 666.3,648.95 667.5,649.18 668.7,649.73 669.9,650.6 671.1,651.77 672.3,653.23 673.5,654.97 674.7,656.98 675.9,659.25 676,659.45 L676,665.35 Z" fill="#ce914e" stroke="#000" stroke-width="1.1" stroke-linejoin="round"/>
<line x1="666.4" y1="665.35" x2="666.4" y2="648.96" stroke="#000" stroke-width="1"/>
<path d="M534.3,676.18 L534.3,675.68 535.5,675.09 536.7,674.57 537.9,674.11 539.1,673.72 540.3,673.4 541.5,673.13 542.7,672.91 543.9,672.76 545.1,672.65 546.3,672.59 547.5,672.59 548.7,672.74 549.9,673.05 551.1,673.47 552.3,673.95 553.5,674.44 554.7,674.9 555.9,675.28 557.1,675.52 558.3,675.58 559.5,675.59 560.7,675.6 561.9,675.6 563.1,675.61 564.3,675.61 565.5,675.62 566.7,675.62 567.9,675.63 569.1,675.63 570.3,675.64 571.5,675.64 572.7,675.64 573.9,675.65 575.1,675.65 576.3,675.65 577.5,675.66 578.7,675.66 579.9,675.66 581.1,675.66 582.3,675.67 583.5,675.67 584.7,675.67 585.9,675.67 587.1,675.67 588.3,675.67 589.5,675.68 590.7,675.68 591.9,675.68 593.1,675.68 594.3,675.68 595.5,675.68 596.7,675.68 597.9,675.68 599.1,675.68 600.3,675.68 601.5,675.68 602.7,675.68 603.9,675.67 605.1,675.67 606.3,675.66 607.5,675.65 608.7,675.64 609.9,675.63 611.1,675.62 612.3,675.61 613.5,675.59 614.7,675.58 615.9,675.56 617.1,675.54 618.3,675.52 619.5,675.5 620.7,675.48 621.9,675.45 623.1,675.43 624.3,675.4 625.5,675.37 626.7,675.34 627.9,675.31 629.1,675.27 630.3,675.24 631.5,675.2 632.7,675.17 633.9,675.13 635.1,675.09 636.3,675.04 637.5,675 638.7,674.95 639.9,674.87 641.1,674.77 642.3,674.64 643.5,674.48 644.7,674.3 645.9,674.09 647.1,673.85 648.3,673.59 649.5,673.31 650.7,673 651.9,672.67 653.1,672.31 654.3,671.73 655.5,670.7 656.7,669.32 657.9,667.71 659.1,665.96 660.3,664.17 661.5,662.45 662.7,660.9 663.9,659.62 665.1,658.72 666.3,658.3 667.5,658.4 668.7,658.89 669.9,659.76 671.1,660.97 672.3,662.49 673.5,664.3 674.7,666.37 675.9,668.68 676,668.88 L676,676.18 Z" fill="#924b3b" stroke="#000" stroke-width="1.1" stroke-linejoin="round"/>
<line x1="666.6" y1="676.18" x2="666.6" y2="658.28" stroke="#000" stroke-width="1"/>
</g>
<rect x="527.5" y="591.5" width="154.6" height="86.6" fill="none" stroke="#222" stroke-width="1.1"/>
<line x1="45.2" y1="610.65" x2="49.7" y2="610.65" stroke="#333" stroke-width="1"/>
<text transform="translate(43.1,616.05) scale(0.9401709401709403,1)" font-size="10.41" text-anchor="end">Q</text>
<line x1="45.2" y1="621.48" x2="49.7" y2="621.48" stroke="#333" stroke-width="1"/>
<text transform="translate(43.1,626.88) scale(0.9401709401709403,1)" font-size="10.41" text-anchor="end">O</text>
<line x1="45.2" y1="632.31" x2="49.7" y2="632.31" stroke="#333" stroke-width="1"/>
<text transform="translate(43.1,637.71) scale(0.9401709401709403,1)" font-size="10.41" text-anchor="end">J</text>
<line x1="45.2" y1="643.14" x2="49.7" y2="643.14" stroke="#333" stroke-width="1"/>
<text transform="translate(43.1,648.54) scale(0.9401709401709403,1)" font-size="10.41" text-anchor="end">H</text>
<line x1="45.2" y1="653.97" x2="49.7" y2="653.97" stroke="#333" stroke-width="1"/>
<text transform="translate(43.1,659.37) scale(0.9401709401709403,1)" font-size="10.41" text-anchor="end">E</text>
<line x1="45.2" y1="664.8" x2="49.7" y2="664.8" stroke="#333" stroke-width="1"/>
<text transform="translate(43.1,670.2) scale(0.9401709401709403,1)" font-size="10.41" text-anchor="end">A1a</text>
<line x1="45.2" y1="675.63" x2="49.7" y2="675.63" stroke="#333" stroke-width="1"/>
<text transform="translate(43.1,681.03) scale(0.9401709401709403,1)" font-size="10.41" text-anchor="end">A0</text>
<clipPath id="c5"><rect x="49.3" y="683.4" width="154.6" height="86.9"/></clipPath>
<g clip-path="url(#c5)">
<path d="M56,702.5 L56,702 57.2,702 58.4,701.99 59.6,701.98 60.8,701.97 62,701.95 63.2,701.93 64.4,701.9 65.6,701.87 66.8,701.84 68,701.81 69.2,701.77 70.4,701.73 71.6,701.69 72.8,701.64 74,701.59 75.2,701.55 76.4,701.5 77.6,701.44 78.8,701.39 80,701.34 81.2,701.28 82.4,701.22 83.6,701.17 84.8,701.11 86,701.05 87.2,700.96 88.4,700.87 89.6,700.76 90.8,700.63 92,700.5 93.2,700.36 94.4,700.22 95.6,700.07 96.8,699.92 98,699.77 99.2,699.63 100.4,699.49 101.6,699.35 102.8,699.22 104,699.11 105.2,699 106.4,698.91 107.6,698.84 108.8,698.78 110,698.74 111.2,698.7 112.4,698.66 113.6,698.63 114.8,698.6 116,698.58 117.2,698.55 118.4,698.53 119.6,698.51 120.8,698.48 122,698.46 123.2,698.43 124.4,698.4 125.6,698.37 126.8,698.33 128,698.29 129.2,698.24 130.4,698.18 131.6,698.1 132.8,697.99 134,697.87 135.2,697.72 136.4,697.55 137.6,697.36 138.8,697.16 140,696.95 141.2,696.73 142.4,696.5 143.6,696.26 144.8,696.02 146,695.78 147.2,695.54 148.4,695.3 149.6,695.06 150.8,694.82 152,694.58 153.2,694.34 154.4,694.09 155.6,693.84 156.8,693.57 158,693.3 159.2,693.01 160.4,692.71 161.6,692.39 162.8,692.06 164,691.71 165.2,691.34 166.4,690.94 167.6,690.53 168.8,690.08 170,689.61 171.2,689.12 172.4,688.52 173.6,687.59 174.8,686.43 176,685.2 177.2,684.05 178.4,683.12 179.6,682.57 180.8,682.42 182,682.31 183.2,682.22 184.4,682.14 185.6,682.08 186.8,682.04 188,682.01 189.2,682 190.4,682.26 191.6,682.99 192.8,684.11 194,685.56 195.2,687.26 196.4,689.14 197.6,691.13 198,691.8 L198,702.5 Z" fill="#7b5453" stroke="#000" stroke-width="1.1" stroke-linejoin="round"/>
<line x1="172.3" y1="702.5" x2="172.3" y2="688.58" stroke="#000" stroke-width="1"/>
<path d="M56,713.43 L56,712.83 57.2,712.51 58.4,712.19 59.6,711.88 60.8,711.6 62,711.34 63.2,711.12 64.4,710.94 65.6,710.81 66.8,710.74 68,710.73 69.2,710.75 70.4,710.78 71.6,710.83 72.8,710.88 74,710.95 75.2,711.02 76.4,711.09 77.6,711.16 78.8,711.23 80,711.29 81.2,711.35 82.4,711.39 83.6,711.42 84.8,711.43 86,711.42 87.2,711.37 88.4,711.3 89.6,711.2 90.8,711.07 92,710.93 93.2,710.77 94.4,710.6 95.6,710.42 96.8,710.23 98,710.03 99.2,709.84 100.4,709.65 101.6,709.47 102.8,709.3 104,709.14 105.2,709 106.4,708.88 107.6,708.78 108.8,708.71 110,708.65 111.2,708.59 112.4,708.54 113.6,708.5 114.8,708.45 116,708.41 117.2,708.38 118.4,708.34 119.6,708.31 120.8,708.27 122,708.24 123.2,708.2 124.4,708.16 125.6,708.12 126.8,708.07 128,708.02 129.2,707.97 130.4,707.91 131.6,707.84 132.8,707.77 134,707.7 135.2,707.62 136.4,707.54 137.6,707.45 138.8,707.36 140,707.26 141.2,707.16 142.4,707.05 143.6,706.94 144.8,706.82 146,706.69 147.2,706.56 148.4,706.43 149.6,706.28 150.8,706.12 152,705.94 153.2,705.74 154.4,705.53 155.6,705.31 156.8,705.07 158,704.83 159.2,704.58 160.4,704.32 161.6,704.06 162.8,703.79 164,703.52 165.2,703.25 166.4,702.97 167.6,702.67 168.8,702.35 170,702.01 171.2,701.67 172.4,701.32 173.6,700.98 174.8,700.64 176,700.33 177.2,700.02 178.4,699.73 179.6,699.41 180.8,699.07 182,698.76 183.2,698.49 184.4,698.31 185.6,698.23 186.8,698.29 188,698.48 189.2,698.81 190.4,699.25 191.6,699.82 192.8,700.5 194,701.29 195.2,702.18 196.4,703.17 197.6,704.25 198,704.63 L198,713.43 Z" fill="#c9696b" stroke="#000" stroke-width="1.1" stroke-linejoin="round"/>
<line x1="165.6" y1="713.43" x2="165.6" y2="703.16" stroke="#000" stroke-width="1"/>
<path d="M56,724.36 L56,723.16 57.2,722.78 58.4,722.41 59.6,722.07 60.8,721.76 62,721.49 63.2,721.26 64.4,721.07 65.6,720.94 66.8,720.87 68,720.86 69.2,720.9 70.4,720.96 71.6,721.03 72.8,721.12 74,721.22 75.2,721.31 76.4,721.38 77.6,721.44 78.8,721.46 80,721.45 81.2,721.4 82.4,721.32 83.6,721.22 84.8,721.09 86,720.95 87.2,720.79 88.4,720.63 89.6,720.46 90.8,720.3 92,720.14 93.2,719.99 94.4,719.86 95.6,719.74 96.8,719.65 98,719.58 99.2,719.51 100.4,719.44 101.6,719.38 102.8,719.32 104,719.26 105.2,719.21 106.4,719.16 107.6,719.11 108.8,719.06 110,719.01 111.2,718.96 112.4,718.91 113.6,718.86 114.8,718.81 116,718.76 117.2,718.7 118.4,718.64 119.6,718.58 120.8,718.52 122,718.45 123.2,718.37 124.4,718.3 125.6,718.22 126.8,718.15 128,718.07 129.2,718 130.4,717.94 131.6,717.88 132.8,717.82 134,717.77 135.2,717.71 136.4,717.66 137.6,717.62 138.8,717.57 140,717.52 141.2,717.46 142.4,717.41 143.6,717.35 144.8,717.29 146,717.22 147.2,717.14 148.4,717.06 149.6,716.96 150.8,716.84 152,716.71 153.2,716.56 154.4,716.41 155.6,716.27 156.8,716.13 158,715.99 159.2,715.86 160.4,715.74 161.6,715.61 162.8,715.49 164,715.36 165.2,715.23 166.4,715.09 167.6,714.94 168.8,714.79 170,714.62 171.2,714.44 172.4,714.23 173.6,713.95 174.8,713.62 176,713.24 177.2,712.84 178.4,712.43 179.6,712.03 180.8,711.67 182,711.35 183.2,711.1 184.4,710.93 185.6,710.86 186.8,710.92 188,711.13 189.2,711.47 190.4,711.93 191.6,712.51 192.8,713.19 194,713.96 195.2,714.81 196.4,715.74 197.6,716.72 198,717.06 L198,724.36 Z" fill="#3a6584" stroke="#000" stroke-width="1.1" stroke-linejoin="round"/>
<line x1="156.5" y1="724.36" x2="156.5" y2="716.16" stroke="#000" stroke-width="1"/>
<path d="M56,735.29 L56,734.99 57.2,734.88 58.4,734.76 59.6,734.65 60.8,734.53 62,734.41 63.2,734.29 64.4,734.18 65.6,734.06 66.8,733.93 68,733.81 69.2,733.69 70.4,733.56 71.6,733.44 72.8,733.31 74,733.18 75.2,733.04 76.4,732.88 77.6,732.72 78.8,732.56 80,732.39 81.2,732.21 82.4,732.04 83.6,731.87 84.8,731.7 86,731.54 87.2,731.38 88.4,731.23 89.6,731.09 90.8,730.97 92,730.86 93.2,730.76 94.4,730.68 95.6,730.62 96.8,730.59 98,730.56 99.2,730.54 100.4,730.52 101.6,730.5 102.8,730.48 104,730.47 105.2,730.46 106.4,730.45 107.6,730.44 108.8,730.43 110,730.42 111.2,730.41 112.4,730.4 113.6,730.39 114.8,730.39 116,730.38 117.2,730.37 118.4,730.36 119.6,730.35 120.8,730.34 122,730.33 123.2,730.31 124.4,730.3 125.6,730.28 126.8,730.26 128,730.23 129.2,730.21 130.4,730.18 131.6,730.12 132.8,730.03 134,729.91 135.2,729.76 136.4,729.59 137.6,729.4 138.8,729.2 140,728.99 141.2,728.77 142.4,728.54 143.6,728.32 144.8,728.1 146,727.88 147.2,727.68 148.4,727.49 149.6,727.31 150.8,727.12 152,726.93 153.2,726.74 154.4,726.55 155.6,726.36 156.8,726.17 158,725.98 159.2,725.81 160.4,725.63 161.6,725.47 162.8,725.31 164,725.17 165.2,725.02 166.4,724.88 167.6,724.74 168.8,724.6 170,724.46 171.2,724.31 172.4,724.16 173.6,724 174.8,723.83 176,723.65 177.2,723.46 178.4,723.23 179.6,722.92 180.8,722.57 182,722.22 183.2,721.91 184.4,721.68 185.6,721.59 186.8,721.65 188,721.84 189.2,722.17 190.4,722.62 191.6,723.2 192.8,723.89 194,724.69 195.2,725.59 196.4,726.6 197.6,727.7 198,728.09 L198,735.29 Z" fill="#58aca8" stroke="#000" stroke-width="1.1" stroke-linejoin="round"/>
<line x1="160.3" y1="735.29" x2="160.3" y2="725.65" stroke="#000" stroke-width="1"/>
<path d="M56,746.22 L56,745.82 57.2,745.82 58.4,745.81 59.6,745.79 60.8,745.78 62,745.76 63.2,745.74 64.4,745.72 65.6,745.69 66.8,745.66 68,745.63 69.2,745.6 70.4,745.56 71.6,745.52 72.8,745.48 74,745.44 75.2,745.4 76.4,745.36 77.6,745.31 78.8,745.27 80,745.22 81.2,745.17 82.4,745.13 83.6,745.08 84.8,745.03 86,744.98 87.2,744.92 88.4,744.86 89.6,744.79 90.8,744.72 92,744.65 93.2,744.57 94.4,744.49 95.6,744.4 96.8,744.31 98,744.22 99.2,744.12 100.4,744.02 101.6,743.92 102.8,743.82 104,743.71 105.2,743.61 106.4,743.5 107.6,743.39 108.8,743.28 110,743.17 111.2,743.04 112.4,742.91 113.6,742.78 114.8,742.64 116,742.49 117.2,742.34 118.4,742.19 119.6,742.04 120.8,741.88 122,741.73 123.2,741.57 124.4,741.42 125.6,741.26 126.8,741.11 128,740.96 129.2,740.81 130.4,740.67 131.6,740.54 132.8,740.4 134,740.27 135.2,740.14 136.4,740.01 137.6,739.88 138.8,739.75 140,739.62 141.2,739.49 142.4,739.36 143.6,739.22 144.8,739.08 146,738.93 147.2,738.78 148.4,738.62 149.6,738.46 150.8,738.3 152,738.14 153.2,737.98 154.4,737.81 155.6,737.64 156.8,737.47 158,737.29 159.2,737.11 160.4,736.91 161.6,736.71 162.8,736.5 164,736.28 165.2,736.05 166.4,735.8 167.6,735.54 168.8,735.26 170,734.96 171.2,734.57 172.4,734.11 173.6,733.6 174.8,733.08 176,732.57 177.2,732.11 178.4,731.71 179.6,731.36 180.8,731.01 182,730.66 183.2,730.34 184.4,730.07 185.6,729.89 186.8,729.82 188,729.91 189.2,730.21 190.4,730.7 191.6,731.37 192.8,732.21 194,733.2 195.2,734.33 196.4,735.58 197.6,736.94 198,737.42 L198,746.22 Z" fill="#4d8a6d" stroke="#000" stroke-width="1.1" stroke-linejoin="round"/>
<line x1="169.7" y1="746.22" x2="169.7" y2="735.04" stroke="#000" stroke-width="1"/>
<path d="M56,757.15 L56,756.75 57.2,756.64 58.4,756.53 59.6,756.43 60.8,756.32 62,756.22 63.2,756.11 64.4,756.01 65.6,755.91 66.8,755.81 68,755.71 69.2,755.61 70.4,755.51 71.6,755.41 72.8,755.32 74,755.23 75.2,755.13 76.4,755.04 77.6,754.95 78.8,754.87 80,754.78 81.2,754.7 82.4,754.62 83.6,754.54 84.8,754.46 86,754.39 87.2,754.32 88.4,754.25 89.6,754.18 90.8,754.12 92,754.06 93.2,754 94.4,753.94 95.6,753.88 96.8,753.83 98,753.78 99.2,753.72 100.4,753.67 101.6,753.62 102.8,753.57 104,753.52 105.2,753.47 106.4,753.42 107.6,753.37 108.8,753.32 110,753.27 111.2,753.22 112.4,753.17 113.6,753.11 114.8,753.06 116,753 117.2,752.94 118.4,752.88 119.6,752.82 120.8,752.75 122,752.69 123.2,752.61 124.4,752.54 125.6,752.46 126.8,752.38 128,752.3 129.2,752.21 130.4,752.12 131.6,752.02 132.8,751.9 134,751.78 135.2,751.64 136.4,751.5 137.6,751.35 138.8,751.2 140,751.04 141.2,750.87 142.4,750.71 143.6,750.54 144.8,750.36 146,750.19 147.2,750.02 148.4,749.85 149.6,749.68 150.8,749.5 152,749.32 153.2,749.13 154.4,748.94 155.6,748.75 156.8,748.55 158,748.35 159.2,748.16 160.4,747.96 161.6,747.76 162.8,747.56 164,747.36 165.2,747.17 166.4,746.98 167.6,746.8 168.8,746.63 170,746.46 171.2,746.29 172.4,746.11 173.6,745.92 174.8,745.72 176,745.49 177.2,745.24 178.4,744.92 179.6,744.45 180.8,743.88 182,743.3 183.2,742.79 184.4,742.41 185.6,742.25 186.8,742.31 188,742.5 189.2,742.82 190.4,743.28 191.6,743.88 192.8,744.6 194,745.46 195.2,746.44 196.4,747.56 197.6,748.81 198,749.25 L198,757.15 Z" fill="#ce914e" stroke="#000" stroke-width="1.1" stroke-linejoin="round"/>
<line x1="165.6" y1="757.15" x2="165.6" y2="747.1" stroke="#000" stroke-width="1"/>
<path d="M56,768.08 L56,767.88 57.2,767.76 58.4,767.64 59.6,767.53 60.8,767.41 62,767.3 63.2,767.19 64.4,767.08 65.6,766.97 66.8,766.86 68,766.76 69.2,766.65 70.4,766.55 71.6,766.45 72.8,766.36 74,766.26 75.2,766.17 76.4,766.08 77.6,765.99 78.8,765.9 80,765.81 81.2,765.73 82.4,765.65 83.6,765.57 84.8,765.49 86,765.42 87.2,765.35 88.4,765.28 89.6,765.22 90.8,765.15 92,765.09 93.2,765.03 94.4,764.98 95.6,764.92 96.8,764.86 98,764.81 99.2,764.75 100.4,764.7 101.6,764.64 102.8,764.58 104,764.52 105.2,764.46 106.4,764.39 107.6,764.33 108.8,764.26 110,764.18 111.2,764.11 112.4,764.04 113.6,763.96 114.8,763.88 116,763.8 117.2,763.72 118.4,763.64 119.6,763.56 120.8,763.47 122,763.39 123.2,763.3 124.4,763.21 125.6,763.12 126.8,763.03 128,762.94 129.2,762.84 130.4,762.75 131.6,762.65 132.8,762.55 134,762.45 135.2,762.35 136.4,762.25 137.6,762.14 138.8,762.03 140,761.92 141.2,761.81 142.4,761.69 143.6,761.58 144.8,761.46 146,761.33 147.2,761.21 148.4,761.08 149.6,760.95 150.8,760.83 152,760.7 153.2,760.58 154.4,760.45 155.6,760.32 156.8,760.18 158,760.04 159.2,759.9 160.4,759.74 161.6,759.58 162.8,759.4 164,759.21 165.2,759.01 166.4,758.79 167.6,758.56 168.8,758.26 170,757.91 171.2,757.52 172.4,757.09 173.6,756.65 174.8,756.2 176,755.75 177.2,755.32 178.4,754.88 179.6,754.35 180.8,753.78 182,753.23 183.2,752.75 184.4,752.42 185.6,752.28 186.8,752.32 188,752.47 189.2,752.73 190.4,753.1 191.6,753.57 192.8,754.16 194,754.87 195.2,755.69 196.4,756.63 197.6,757.7 198,758.08 L198,768.08 Z" fill="#924b3b" stroke="#000" stroke-width="1.1" stroke-linejoin="round"/>
<line x1="167.3" y1="768.08" x2="167.3" y2="758.62" stroke="#000" stroke-width="1"/>
</g>
<rect x="49.3" y="683.4" width="154.6" height="86.9" fill="none" stroke="#222" stroke-width="1.1"/>
<clipPath id="c6"><rect x="208.8" y="683.4" width="154.6" height="86.9"/></clipPath>
<g clip-path="url(#c6)">
<path d="M228.8,702.5 L228.8,702 230,701.97 231.2,701.93 232.4,701.9 233.6,701.87 234.8,701.84 236,701.81 237.2,701.78 238.4,701.75 239.6,701.73 240.8,701.7 242,701.68 243.2,701.66 244.4,701.64 245.6,701.62 246.8,701.6 248,701.58 249.2,701.57 250.4,701.55 251.6,701.54 252.8,701.53 254,701.52 255.2,701.51 256.4,701.51 257.6,701.5 258.8,701.5 260,701.5 261.2,701.5 262.4,701.51 263.6,701.51 264.8,701.52 266,701.53 267.2,701.54 268.4,701.55 269.6,701.57 270.8,701.58 272,701.59 273.2,701.61 274.4,701.62 275.6,701.64 276.8,701.65 278,701.66 279.2,701.67 280.4,701.68 281.6,701.69 282.8,701.7 284,701.7 285.2,701.7 286.4,701.7 287.6,701.69 288.8,701.68 290,701.67 291.2,701.65 292.4,701.63 293.6,701.61 294.8,701.59 296,701.56 297.2,701.52 298.4,701.49 299.6,701.45 300.8,701.41 302,701.36 303.2,701.32 304.4,701.27 305.6,701.21 306.8,701.16 308,701.1 309.2,701.02 310.4,700.88 311.6,700.71 312.8,700.5 314,700.27 315.2,700 316.4,699.72 317.6,699.42 318.8,699.11 320,698.8 321.2,698.46 322.4,698.08 323.6,697.65 324.8,697.18 326,696.68 327.2,696.16 328.4,695.63 329.6,695.07 330.8,694.52 332,693.96 333.2,693.31 334.4,692.56 335.6,691.75 336.8,690.93 338,690.12 339.2,689.36 340.4,688.7 341.6,688.17 342.8,687.81 344,687.62 345.2,687.48 346.4,687.37 347.6,687.31 348.8,687.36 350,687.76 351.2,688.49 352.4,689.54 353.6,690.86 354.8,692.42 356,694.21 357.2,696.19 358,697.6 L358,702.5 Z" fill="#7b5453" stroke="#000" stroke-width="1.1" stroke-linejoin="round"/>
<line x1="343.4" y1="702.5" x2="343.4" y2="687.7" stroke="#000" stroke-width="1"/>
<path d="M228.8,713.43 L228.8,712.93 230,712.93 231.2,712.93 232.4,712.93 233.6,712.92 234.8,712.92 236,712.92 237.2,712.91 238.4,712.91 239.6,712.9 240.8,712.9 242,712.89 243.2,712.88 244.4,712.88 245.6,712.87 246.8,712.86 248,712.85 249.2,712.84 250.4,712.83 251.6,712.82 252.8,712.81 254,712.8 255.2,712.78 256.4,712.77 257.6,712.76 258.8,712.74 260,712.73 261.2,712.71 262.4,712.68 263.6,712.64 264.8,712.59 266,712.53 267.2,712.47 268.4,712.41 269.6,712.35 270.8,712.29 272,712.24 273.2,712.19 274.4,712.15 275.6,712.11 276.8,712.08 278,712.06 279.2,712.03 280.4,712.01 281.6,711.98 282.8,711.96 284,711.94 285.2,711.92 286.4,711.9 287.6,711.89 288.8,711.87 290,711.85 291.2,711.83 292.4,711.81 293.6,711.78 294.8,711.76 296,711.73 297.2,711.71 298.4,711.67 299.6,711.64 300.8,711.6 302,711.56 303.2,711.5 304.4,711.44 305.6,711.38 306.8,711.3 308,711.23 309.2,711.15 310.4,711.06 311.6,710.98 312.8,710.89 314,710.81 315.2,710.72 316.4,710.64 317.6,710.56 318.8,710.48 320,710.41 321.2,710.34 322.4,710.27 323.6,710.22 324.8,710.17 326,710.13 327.2,710.1 328.4,710.08 329.6,710.06 330.8,710.05 332,710.03 333.2,710 334.4,709.96 335.6,709.86 336.8,709.05 338,707.64 339.2,705.93 340.4,704.26 341.6,702.82 342.8,701.18 344,699.4 345.2,697.65 346.4,696.12 347.6,694.96 348.8,694.37 350,694.46 351.2,695.1 352.4,696.28 353.6,697.97 354.8,700.15 356,702.78 357.2,705.85 358,708.13 L358,713.43 Z" fill="#c9696b" stroke="#000" stroke-width="1.1" stroke-linejoin="round"/>
<line x1="349.2" y1="713.43" x2="349.2" y2="694.33" stroke="#000" stroke-width="1"/>
<path d="M228.8,724.36 L228.8,724.06 230,724.06 231.2,724.06 232.4,724.06 233.6,724.06 234.8,724.06 236,724.06 237.2,724.06 238.4,724.06 239.6,724.06 240.8,724.06 242,724.06 243.2,724.06 244.4,724.06 245.6,724.06 246.8,724.06 248,724.06 249.2,724.06 250.4,724.06 251.6,724.06 252.8,724.06 254,724.06 255.2,724.06 256.4,724.06 257.6,724.06 258.8,724.06 260,724.06 261.2,724.06 262.4,724.06 263.6,724.06 264.8,724.06 266,724.06 267.2,724.06 268.4,724.06 269.6,724.06 270.8,724.06 272,724.06 273.2,724.06 274.4,724.06 275.6,724.06 276.8,724.06 278,724.06 279.2,724.06 280.4,724.06 281.6,724.06 282.8,724.06 284,724.06 285.2,724.06 286.4,724.06 287.6,724.06 288.8,724.06 290,724.06 291.2,724.06 292.4,724.06 293.6,724.06 294.8,724.06 296,724.06 297.2,724.06 298.4,724.06 299.6,724.06 300.8,724.03 302,723.87 303.2,723.59 304.4,723.23 305.6,722.79 306.8,722.3 308,721.79 309.2,721.27 310.4,720.45 311.6,719.36 312.8,718.2 314,717.18 315.2,716.51 316.4,716.39 317.6,716.77 318.8,717.48 320,718.39 321.2,719.36 322.4,720.24 323.6,720.9 324.8,721.47 326,722.04 327.2,722.6 328.4,723.08 329.6,723.47 330.8,723.7 332,723.75 333.2,723.5 334.4,722.96 335.6,722.19 336.8,721.25 338,720.2 339.2,719.1 340.4,717.93 341.6,716.13 342.8,713.82 344,711.3 345.2,708.87 346.4,706.82 347.6,705.46 348.8,705.07 350,705.34 351.2,706.03 352.4,707.14 353.6,708.71 354.8,710.73 356,713.22 357.2,716.2 358,718.46 L358,724.36 Z" fill="#3a6584" stroke="#000" stroke-width="1.1" stroke-linejoin="round"/>
<line x1="348.4" y1="724.36" x2="348.4" y2="705.08" stroke="#000" stroke-width="1"/>
<path d="M228.8,735.29 L228.8,734.99 230,734.83 231.2,734.68 232.4,734.54 233.6,734.41 234.8,734.29 236,734.19 237.2,734.09 238.4,734.01 239.6,733.94 240.8,733.88 242,733.84 243.2,733.81 244.4,733.79 245.6,733.79 246.8,733.82 248,733.86 249.2,733.92 250.4,734 251.6,734.08 252.8,734.16 254,734.24 255.2,734.32 256.4,734.39 257.6,734.44 258.8,734.48 260,734.49 261.2,734.48 262.4,734.44 263.6,734.38 264.8,734.32 266,734.25 267.2,734.19 268.4,734.13 269.6,734.1 270.8,734.08 272,734.07 273.2,734.05 274.4,734.04 275.6,734.03 276.8,734.03 278,734.02 279.2,734.01 280.4,734.01 281.6,734 282.8,734 284,733.99 285.2,733.99 286.4,733.99 287.6,733.98 288.8,733.98 290,733.97 291.2,733.97 292.4,733.96 293.6,733.95 294.8,733.94 296,733.93 297.2,733.92 298.4,733.91 299.6,733.9 300.8,733.88 302,733.84 303.2,733.78 304.4,733.71 305.6,733.63 306.8,733.53 308,733.42 309.2,733.31 310.4,733.18 311.6,733.05 312.8,732.92 314,732.78 315.2,732.64 316.4,732.5 317.6,732.36 318.8,732.22 320,732.09 321.2,731.97 322.4,731.85 323.6,731.73 324.8,731.61 326,731.48 327.2,731.35 328.4,731.21 329.6,731.05 330.8,730.87 332,730.67 333.2,730.45 334.4,730.2 335.6,729.86 336.8,729.43 338,728.91 339.2,728.31 340.4,727.64 341.6,726.9 342.8,726.11 344,725.14 345.2,723.54 346.4,721.75 347.6,720.34 348.8,719.89 350,720.06 351.2,720.51 352.4,721.27 353.6,722.4 354.8,723.91 356,725.87 357.2,728.29 358,730.19 L358,735.29 Z" fill="#58aca8" stroke="#000" stroke-width="1.1" stroke-linejoin="round"/>
<line x1="349.2" y1="735.29" x2="349.2" y2="719.92" stroke="#000" stroke-width="1"/>
<path d="M228.8,746.22 L228.8,745.92 230,745.92 231.2,745.92 232.4,745.92 233.6,745.92 234.8,745.92 236,745.92 237.2,745.92 238.4,745.91 239.6,745.91 240.8,745.91 242,745.91 243.2,745.91 244.4,745.9 245.6,745.9 246.8,745.9 248,745.89 249.2,745.89 250.4,745.89 251.6,745.88 252.8,745.88 254,745.87 255.2,745.87 256.4,745.87 257.6,745.86 258.8,745.86 260,745.85 261.2,745.84 262.4,745.84 263.6,745.83 264.8,745.83 266,745.82 267.2,745.81 268.4,745.8 269.6,745.8 270.8,745.79 272,745.78 273.2,745.77 274.4,745.76 275.6,745.75 276.8,745.75 278,745.74 279.2,745.73 280.4,745.72 281.6,745.68 282.8,745.62 284,745.54 285.2,745.43 286.4,745.31 287.6,745.17 288.8,745.02 290,744.86 291.2,744.7 292.4,744.53 293.6,744.36 294.8,744.19 296,744.03 297.2,743.87 298.4,743.72 299.6,743.59 300.8,743.47 302,743.37 303.2,743.3 304.4,743.25 305.6,743.22 306.8,743.23 308,743.27 309.2,743.34 310.4,743.43 311.6,743.54 312.8,743.65 314,743.77 315.2,743.89 316.4,744 317.6,744.1 318.8,744.17 320,744.22 321.2,744.25 322.4,744.28 323.6,744.31 324.8,744.34 326,744.36 327.2,744.38 328.4,744.4 329.6,744.41 330.8,744.42 332,744.41 333.2,744.25 334.4,743.91 335.6,743.41 336.8,742.8 338,742.11 339.2,741.36 340.4,740.54 341.6,739.15 342.8,737.3 344,735.21 345.2,733.11 346.4,731.23 347.6,729.81 348.8,729.07 350,729.11 351.2,729.58 352.4,730.45 353.6,731.73 354.8,733.4 356,735.48 357.2,737.95 358,739.82 L358,746.22 Z" fill="#4d8a6d" stroke="#000" stroke-width="1.1" stroke-linejoin="round"/>
<line x1="350.6" y1="746.22" x2="350.6" y2="729.29" stroke="#000" stroke-width="1"/>
<path d="M228.8,757.15 L228.8,756.85 230,756.84 231.2,756.83 232.4,756.81 233.6,756.8 234.8,756.78 236,756.77 237.2,756.75 238.4,756.74 239.6,756.72 240.8,756.7 242,756.68 243.2,756.66 244.4,756.64 245.6,756.62 246.8,756.6 248,756.58 249.2,756.56 250.4,756.54 251.6,756.52 252.8,756.49 254,756.47 255.2,756.45 256.4,756.42 257.6,756.4 258.8,756.37 260,756.35 261.2,756.32 262.4,756.3 263.6,756.27 264.8,756.24 266,756.22 267.2,756.19 268.4,756.16 269.6,756.13 270.8,756.09 272,756.06 273.2,756.03 274.4,755.99 275.6,755.96 276.8,755.92 278,755.88 279.2,755.85 280.4,755.81 281.6,755.77 282.8,755.73 284,755.69 285.2,755.64 286.4,755.6 287.6,755.55 288.8,755.51 290,755.46 291.2,755.41 292.4,755.36 293.6,755.31 294.8,755.25 296,755.2 297.2,755.14 298.4,755.08 299.6,755.02 300.8,754.96 302,754.9 303.2,754.83 304.4,754.76 305.6,754.69 306.8,754.62 308,754.55 309.2,754.48 310.4,754.4 311.6,754.33 312.8,754.26 314,754.18 315.2,754.1 316.4,754.02 317.6,753.93 318.8,753.84 320,753.75 321.2,753.64 322.4,753.53 323.6,753.41 324.8,753.28 326,753.14 327.2,753 328.4,752.83 329.6,752.66 330.8,752.44 332,752.17 333.2,751.86 334.4,751.5 335.6,751.09 336.8,750.64 338,750.14 339.2,749.59 340.4,748.94 341.6,747.77 342.8,746.28 344,744.83 345.2,743.74 346.4,743.35 347.6,743.4 348.8,743.55 350,743.84 351.2,744.29 352.4,744.92 353.6,745.77 354.8,746.86 356,748.22 357.2,749.87 358,751.15 L358,757.15 Z" fill="#ce914e" stroke="#000" stroke-width="1.1" stroke-linejoin="round"/>
<line x1="343.4" y1="757.15" x2="343.4" y2="745.53" stroke="#000" stroke-width="1"/>
<path d="M228.8,768.08 L228.8,767.78 230,767.78 231.2,767.78 232.4,767.77 233.6,767.76 234.8,767.76 236,767.75 237.2,767.73 238.4,767.72 239.6,767.71 240.8,767.69 242,767.67 243.2,767.65 244.4,767.63 245.6,767.61 246.8,767.59 248,767.57 249.2,767.54 250.4,767.52 251.6,767.49 252.8,767.46 254,767.43 255.2,767.4 256.4,767.37 257.6,767.34 258.8,767.31 260,767.28 261.2,767.24 262.4,767.18 263.6,767.12 264.8,767.04 266,766.97 267.2,766.88 268.4,766.81 269.6,766.73 270.8,766.67 272,766.61 273.2,766.57 274.4,766.54 275.6,766.51 276.8,766.48 278,766.45 279.2,766.42 280.4,766.39 281.6,766.36 282.8,766.33 284,766.3 285.2,766.28 286.4,766.25 287.6,766.23 288.8,766.21 290,766.19 291.2,766.17 292.4,766.15 293.6,766.14 294.8,766.12 296,766.11 297.2,766.1 298.4,766.09 299.6,766.09 300.8,766.08 302,766.08 303.2,766.08 304.4,766.1 305.6,766.13 306.8,766.17 308,766.22 309.2,766.28 310.4,766.34 311.6,766.4 312.8,766.46 314,766.52 315.2,766.57 316.4,766.61 317.6,766.65 318.8,766.67 320,766.68 321.2,766.63 322.4,766.48 323.6,766.26 324.8,765.95 326,765.59 327.2,765.18 328.4,764.73 329.6,764.25 330.8,763.76 332,763.24 333.2,762.47 334.4,761.41 335.6,760.18 336.8,758.89 338,757.65 339.2,756.55 340.4,755.71 341.6,755.24 342.8,755.18 344,755.18 345.2,755.18 346.4,755.18 347.6,755.18 348.8,755.24 350,755.63 351.2,756.34 352.4,757.33 353.6,758.56 354.8,760 356,761.62 357.2,763.36 358,764.58 L358,768.08 Z" fill="#924b3b" stroke="#000" stroke-width="1.1" stroke-linejoin="round"/>
<line x1="342.5" y1="768.08" x2="342.5" y2="755.18" stroke="#000" stroke-width="1"/>
</g>
<rect x="208.8" y="683.4" width="154.6" height="86.9" fill="none" stroke="#222" stroke-width="1.1"/>
<clipPath id="c7"><rect x="368.6" y="683.4" width="154.6" height="86.9"/></clipPath>
<g clip-path="url(#c7)">
<path d="M374.8,702.5 L374.8,696.4 376,694.94 377.2,693.61 378.4,692.45 379.6,691.48 380.8,690.73 382,690.23 383.2,690.01 384.4,690.09 385.6,690.45 386.8,690.99 388,691.64 389.2,692.3 390.4,692.89 391.6,693.32 392.8,693.5 394,693.5 395.2,693.49 396.4,693.47 397.6,693.45 398.8,693.42 400,693.38 401.2,693.35 402.4,693.31 403.6,693.26 404.8,693.22 406,693.17 407.2,693.12 408.4,693.07 409.6,693.02 410.8,692.97 412,692.93 413.2,692.88 414.4,692.84 415.6,692.79 416.8,692.75 418,692.7 419.2,692.65 420.4,692.6 421.6,692.56 422.8,692.51 424,692.46 425.2,692.4 426.4,692.35 427.6,692.3 428.8,692.24 430,692.18 431.2,692.12 432.4,692.06 433.6,692 434.8,691.93 436,691.87 437.2,691.79 438.4,691.72 439.6,691.65 440.8,691.57 442,691.49 443.2,691.41 444.4,691.32 445.6,691.23 446.8,691.14 448,691.03 449.2,690.91 450.4,690.78 451.6,690.64 452.8,690.49 454,690.33 455.2,690.16 456.4,689.99 457.6,689.81 458.8,689.63 460,689.45 461.2,689.26 462.4,689.07 463.6,688.88 464.8,688.7 466,688.51 467.2,688.33 468.4,688.14 469.6,687.92 470.8,687.68 472,687.43 473.2,687.17 474.4,686.9 475.6,686.64 476.8,686.39 478,686.15 479.2,685.94 480.4,685.75 481.6,685.59 482.8,685.48 484,685.42 485.2,685.4 486.4,685.41 487.6,685.42 488.8,685.44 490,685.47 491.2,685.51 492.4,685.56 493.6,685.61 494.8,685.67 496,685.74 497.2,685.82 498.4,685.91 499.6,686 500.8,686.11 502,686.22 503.2,686.34 504.4,686.47 505.6,686.68 506.8,687.16 508,687.87 509.2,688.79 510.4,689.89 511.6,691.12 512.8,692.47 514,693.9 515.2,695.37 516.4,696.86 517,697.6 L517,702.5 Z" fill="#7b5453" stroke="#000" stroke-width="1.1" stroke-linejoin="round"/>
<line x1="456.3" y1="702.5" x2="456.3" y2="690" stroke="#000" stroke-width="1"/>
<path d="M374.8,713.43 L374.8,708.13 376,706.15 377.2,704.38 378.4,702.82 379.6,701.49 380.8,700.4 382,699.55 383.2,698.95 384.4,698.61 385.6,698.55 386.8,698.94 388,699.75 389.2,700.83 390.4,702.03 391.6,703.22 392.8,704.24 394,704.96 395.2,705.23 396.4,705.2 397.6,705.11 398.8,704.96 400,704.78 401.2,704.56 402.4,704.31 403.6,704.05 404.8,703.77 406,703.5 407.2,703.23 408.4,702.98 409.6,702.75 410.8,702.56 412,702.4 413.2,702.29 414.4,702.19 415.6,702.09 416.8,702 418,701.91 419.2,701.83 420.4,701.74 421.6,701.66 422.8,701.59 424,701.52 425.2,701.45 426.4,701.38 427.6,701.31 428.8,701.25 430,701.19 431.2,701.13 432.4,701.07 433.6,701.02 434.8,700.97 436,700.92 437.2,700.87 438.4,700.82 439.6,700.77 440.8,700.72 442,700.68 443.2,700.63 444.4,700.59 445.6,700.54 446.8,700.5 448,700.46 449.2,700.43 450.4,700.4 451.6,700.37 452.8,700.34 454,700.31 455.2,700.28 456.4,700.26 457.6,700.23 458.8,700.2 460,700.18 461.2,700.14 462.4,700.11 463.6,700.07 464.8,700.03 466,699.99 467.2,699.94 468.4,699.87 469.6,699.78 470.8,699.66 472,699.53 473.2,699.38 474.4,699.22 475.6,699.06 476.8,698.9 478,698.74 479.2,698.6 480.4,698.47 481.6,698.37 482.8,698.29 484,698.24 485.2,698.23 486.4,698.31 487.6,698.46 488.8,698.67 490,698.92 491.2,699.18 492.4,699.43 493.6,699.65 494.8,699.82 496,699.92 497.2,699.92 498.4,699.82 499.6,699.67 500.8,699.47 502,699.26 503.2,699.06 504.4,698.91 505.6,698.84 506.8,698.88 508,699.16 509.2,699.64 510.4,700.32 511.6,701.16 512.8,702.14 514,703.25 515.2,704.47 516.4,705.76 517,706.43 L517,713.43 Z" fill="#c9696b" stroke="#000" stroke-width="1.1" stroke-linejoin="round"/>
<line x1="450.4" y1="713.43" x2="450.4" y2="700.4" stroke="#000" stroke-width="1"/>
<path d="M374.8,724.36 L374.8,720.26 376,718.52 377.2,716.88 378.4,715.39 379.6,714.11 380.8,713.09 382,712.39 383.2,712.07 384.4,712.12 385.6,712.36 386.8,712.74 388,713.21 389.2,713.74 390.4,714.28 391.6,714.77 392.8,715.18 394,715.46 395.2,715.56 396.4,715.5 397.6,715.32 398.8,715.05 400,714.69 401.2,714.28 402.4,713.83 403.6,713.35 404.8,712.87 406,712.4 407.2,711.96 408.4,711.57 409.6,711.25 410.8,711.01 412,710.88 413.2,710.87 414.4,710.92 415.6,711.03 416.8,711.19 418,711.38 419.2,711.59 420.4,711.82 421.6,712.06 422.8,712.3 424,712.52 425.2,712.73 426.4,712.9 427.6,713.04 428.8,713.13 430,713.16 431.2,713.12 432.4,713.02 433.6,712.86 434.8,712.66 436,712.43 437.2,712.18 438.4,711.92 439.6,711.67 440.8,711.43 442,711.22 443.2,711.05 444.4,710.92 445.6,710.86 446.8,710.86 448,710.89 449.2,710.93 450.4,710.99 451.6,711.06 452.8,711.15 454,711.24 455.2,711.33 456.4,711.43 457.6,711.54 458.8,711.63 460,711.73 461.2,711.82 462.4,711.89 463.6,711.96 464.8,712.01 466,712.05 467.2,712.06 468.4,712.03 469.6,711.91 470.8,711.71 472,711.46 473.2,711.16 474.4,710.83 475.6,710.47 476.8,710.12 478,709.76 479.2,709.43 480.4,709.14 481.6,708.89 482.8,708.7 484,708.59 485.2,708.57 486.4,708.74 487.6,709.11 488.8,709.62 490,710.22 491.2,710.85 492.4,711.45 493.6,711.99 494.8,712.4 496,712.63 497.2,712.62 498.4,712.29 499.6,711.73 500.8,711.01 502,710.21 503.2,709.42 504.4,708.73 505.6,708.22 506.8,707.97 508,708.07 509.2,708.54 510.4,709.35 511.6,710.47 512.8,711.86 514,713.48 515.2,715.31 516.4,717.31 517,718.36 L517,724.36 Z" fill="#3a6584" stroke="#000" stroke-width="1.1" stroke-linejoin="round"/>
<line x1="450.4" y1="724.36" x2="450.4" y2="710.99" stroke="#000" stroke-width="1"/>
<path d="M374.8,735.29 L374.8,731.59 376,730.17 377.2,728.72 378.4,727.34 379.6,726.09 380.8,725.07 382,724.34 383.2,724 384.4,723.99 385.6,724.01 386.8,724.04 388,724.07 389.2,724.11 390.4,724.16 391.6,724.21 392.8,724.27 394,724.32 395.2,724.38 396.4,724.43 397.6,724.48 398.8,724.52 400,724.55 401.2,724.58 402.4,724.59 403.6,724.59 404.8,724.57 406,724.54 407.2,724.5 408.4,724.45 409.6,724.39 410.8,724.33 412,724.26 413.2,724.2 414.4,724.14 415.6,724.09 416.8,724.05 418,724.01 419.2,723.99 420.4,723.99 421.6,724 422.8,724.02 424,724.04 425.2,724.07 426.4,724.11 427.6,724.16 428.8,724.2 430,724.25 431.2,724.31 432.4,724.36 433.6,724.42 434.8,724.47 436,724.53 437.2,724.58 438.4,724.62 439.6,724.67 440.8,724.71 442,724.74 443.2,724.76 444.4,724.78 445.6,724.79 446.8,724.79 448,724.77 449.2,724.74 450.4,724.71 451.6,724.66 452.8,724.6 454,724.53 455.2,724.45 456.4,724.37 457.6,724.28 458.8,724.18 460,724.08 461.2,723.97 462.4,723.86 463.6,723.75 464.8,723.64 466,723.52 467.2,723.41 468.4,723.28 469.6,723.1 470.8,722.89 472,722.66 473.2,722.4 474.4,722.13 475.6,721.86 476.8,721.59 478,721.33 479.2,721.09 480.4,720.88 481.6,720.71 482.8,720.58 484,720.51 485.2,720.49 486.4,720.57 487.6,720.72 488.8,720.93 490,721.18 491.2,721.44 492.4,721.69 493.6,721.91 494.8,722.08 496,722.18 497.2,722.14 498.4,721.74 499.6,721.04 500.8,720.15 502,719.17 503.2,718.2 504.4,717.34 505.6,716.71 506.8,716.4 508,716.53 509.2,717.11 510.4,718.1 511.6,719.48 512.8,721.19 514,723.19 515.2,725.44 516.4,727.9 517,729.19 L517,735.29 Z" fill="#58aca8" stroke="#000" stroke-width="1.1" stroke-linejoin="round"/>
<line x1="458.6" y1="735.29" x2="458.6" y2="724.2" stroke="#000" stroke-width="1"/>
<path d="M374.8,746.22 L374.8,741.52 376,739.54 377.2,737.72 378.4,736.1 379.6,734.72 380.8,733.61 382,732.8 383.2,732.33 384.4,732.23 385.6,732.55 386.8,733.22 388,734.15 389.2,735.24 390.4,736.42 391.6,737.58 392.8,738.64 394,739.52 395.2,740.1 396.4,740.32 397.6,740.3 398.8,740.26 400,740.18 401.2,740.08 402.4,739.95 403.6,739.81 404.8,739.65 406,739.47 407.2,739.28 408.4,739.09 409.6,738.88 410.8,738.67 412,738.46 413.2,738.26 414.4,738.06 415.6,737.86 416.8,737.67 418,737.5 419.2,737.34 420.4,737.16 421.6,736.97 422.8,736.76 424,736.56 425.2,736.34 426.4,736.14 427.6,735.93 428.8,735.75 430,735.57 431.2,735.42 432.4,735.3 433.6,735.2 434.8,735.14 436,735.12 437.2,735.12 438.4,735.13 439.6,735.15 440.8,735.17 442,735.18 443.2,735.2 444.4,735.21 445.6,735.22 446.8,735.21 448,735.16 449.2,735.07 450.4,734.95 451.6,734.79 452.8,734.61 454,734.4 455.2,734.17 456.4,733.93 457.6,733.67 458.8,733.41 460,733.14 461.2,732.87 462.4,732.61 463.6,732.35 464.8,732.1 466,731.87 467.2,731.65 468.4,731.44 469.6,731.21 470.8,730.97 472,730.71 473.2,730.44 474.4,730.18 475.6,729.92 476.8,729.67 478,729.44 479.2,729.23 480.4,729.05 481.6,728.91 482.8,728.8 484,728.73 485.2,728.72 486.4,728.8 487.6,728.95 488.8,729.16 490,729.41 491.2,729.67 492.4,729.92 493.6,730.14 494.8,730.31 496,730.41 497.2,730.39 498.4,730.15 499.6,729.73 500.8,729.19 502,728.6 503.2,728.01 504.4,727.5 505.6,727.11 506.8,726.93 508,727.06 509.2,727.68 510.4,728.73 511.6,730.15 512.8,731.9 514,733.93 515.2,736.17 516.4,738.57 517,739.82 L517,746.22 Z" fill="#4d8a6d" stroke="#000" stroke-width="1.1" stroke-linejoin="round"/>
<line x1="462.1" y1="746.22" x2="462.1" y2="732.67" stroke="#000" stroke-width="1"/>
<path d="M374.8,757.15 L374.8,753.25 376,752.13 377.2,750.95 378.4,749.8 379.6,748.75 380.8,747.88 382,747.26 383.2,746.96 384.4,746.95 385.6,746.96 386.8,746.97 388,746.99 389.2,747.01 390.4,747.03 391.6,747.06 392.8,747.09 394,747.13 395.2,747.16 396.4,747.2 397.6,747.23 398.8,747.27 400,747.31 401.2,747.34 402.4,747.38 403.6,747.41 404.8,747.44 406,747.47 407.2,747.49 408.4,747.51 409.6,747.53 410.8,747.54 412,747.55 413.2,747.55 414.4,747.55 415.6,747.54 416.8,747.53 418,747.52 419.2,747.51 420.4,747.5 421.6,747.48 422.8,747.46 424,747.44 425.2,747.41 426.4,747.39 427.6,747.36 428.8,747.33 430,747.29 431.2,747.26 432.4,747.22 433.6,747.18 434.8,747.14 436,747.09 437.2,747.05 438.4,747 439.6,746.95 440.8,746.9 442,746.84 443.2,746.79 444.4,746.73 445.6,746.67 446.8,746.6 448,746.48 449.2,746.31 450.4,746.1 451.6,745.86 452.8,745.59 454,745.3 455.2,744.99 456.4,744.67 457.6,744.34 458.8,744.02 460,743.7 461.2,743.4 462.4,743.11 463.6,742.85 464.8,742.62 466,742.42 467.2,742.27 468.4,742.15 469.6,742.03 470.8,741.91 472,741.79 473.2,741.68 474.4,741.57 475.6,741.47 476.8,741.38 478,741.3 479.2,741.22 480.4,741.16 481.6,741.11 482.8,741.08 484,741.05 485.2,741.05 486.4,741.15 487.6,741.36 488.8,741.65 490,741.98 491.2,742.33 492.4,742.67 493.6,742.97 494.8,743.2 496,743.33 497.2,743.32 498.4,743.07 499.6,742.64 500.8,742.11 502,741.55 503.2,741.04 504.4,740.65 505.6,740.46 506.8,740.54 508,740.93 509.2,741.62 510.4,742.56 511.6,743.75 512.8,745.16 514,746.76 515.2,748.53 516.4,750.44 517,751.45 L517,757.15 Z" fill="#ce914e" stroke="#000" stroke-width="1.1" stroke-linejoin="round"/>
<line x1="459" y1="757.15" x2="459" y2="743.96" stroke="#000" stroke-width="1"/>
<path d="M374.8,768.08 L374.8,766.88 376,763.91 377.2,761.21 378.4,758.79 379.6,756.64 380.8,754.76 382,753.16 383.2,751.85 384.4,750.81 385.6,750.05 386.8,749.57 388,749.38 389.2,749.64 390.4,750.57 391.6,751.99 392.8,753.76 394,755.7 395.2,757.64 396.4,759.43 397.6,760.89 398.8,761.86 400,762.18 401.2,762.14 402.4,762.05 403.6,761.91 404.8,761.73 406,761.51 407.2,761.26 408.4,760.99 409.6,760.71 410.8,760.41 412,760.11 413.2,759.81 414.4,759.52 415.6,759.25 416.8,759 418,758.78 419.2,758.59 420.4,758.4 421.6,758.22 422.8,758.04 424,757.87 425.2,757.7 426.4,757.53 427.6,757.37 428.8,757.21 430,757.05 431.2,756.91 432.4,756.76 433.6,756.63 434.8,756.5 436,756.38 437.2,756.27 438.4,756.17 439.6,756.07 440.8,755.98 442,755.89 443.2,755.8 444.4,755.71 445.6,755.61 446.8,755.51 448,755.4 449.2,755.28 450.4,755.17 451.6,755.04 452.8,754.92 454,754.8 455.2,754.67 456.4,754.54 457.6,754.42 458.8,754.29 460,754.17 461.2,754.05 462.4,753.93 463.6,753.81 464.8,753.7 466,753.6 467.2,753.5 468.4,753.4 469.6,753.29 470.8,753.18 472,753.07 473.2,752.96 474.4,752.86 475.6,752.75 476.8,752.65 478,752.56 479.2,752.48 480.4,752.41 481.6,752.35 482.8,752.31 484,752.29 485.2,752.28 486.4,752.29 487.6,752.31 488.8,752.35 490,752.39 491.2,752.45 492.4,752.52 493.6,752.6 494.8,752.69 496,752.79 497.2,752.9 498.4,753.02 499.6,753.14 500.8,753.28 502,753.43 503.2,753.61 504.4,753.91 505.6,754.31 506.8,754.8 508,755.38 509.2,756.02 510.4,756.72 511.6,757.48 512.8,758.49 514,759.71 515.2,761.1 516.4,762.6 517,763.38 L517,768.08 Z" fill="#924b3b" stroke="#000" stroke-width="1.1" stroke-linejoin="round"/>
<line x1="456.3" y1="768.08" x2="456.3" y2="754.55" stroke="#000" stroke-width="1"/>
</g>
<rect x="368.6" y="683.4" width="154.6" height="86.9" fill="none" stroke="#222" stroke-width="1.1"/>
<clipPath id="c8"><rect x="527.5" y="683.4" width="154.6" height="86.9"/></clipPath>
<g clip-path="url(#c8)">
<path d="M534.3,702.5 L534.3,698.8 535.5,698.59 536.7,698.39 537.9,698.2 539.1,698.03 540.3,697.9 541.5,697.82 542.7,697.8 543.9,697.81 545.1,697.82 546.3,697.85 547.5,697.88 548.7,697.92 549.9,697.95 551.1,697.99 552.3,698.04 553.5,698.08 554.7,698.11 555.9,698.14 557.1,698.17 558.3,698.19 559.5,698.2 560.7,698.2 561.9,698.18 563.1,698.14 564.3,698.09 565.5,698.03 566.7,697.96 567.9,697.88 569.1,697.78 570.3,697.68 571.5,697.58 572.7,697.47 573.9,697.35 575.1,697.24 576.3,697.12 577.5,697.01 578.7,696.89 579.9,696.74 581.1,696.58 582.3,696.41 583.5,696.21 584.7,696.01 585.9,695.79 587.1,695.57 588.3,695.33 589.5,695.09 590.7,694.85 591.9,694.61 593.1,694.37 594.3,694.13 595.5,693.89 596.7,693.66 597.9,693.44 599.1,693.23 600.3,693.03 601.5,692.84 602.7,692.67 603.9,692.52 605.1,692.39 606.3,692.27 607.5,692.16 608.7,692.06 609.9,691.97 611.1,691.88 612.3,691.8 613.5,691.72 614.7,691.64 615.9,691.55 617.1,691.47 618.3,691.4 619.5,691.33 620.7,691.27 621.9,691.23 623.1,691.21 624.3,691.2 625.5,691.22 626.7,691.27 627.9,691.33 629.1,691.42 630.3,691.52 631.5,691.64 632.7,691.76 633.9,691.9 635.1,692.04 636.3,692.19 637.5,692.34 638.7,692.49 639.9,692.68 641.1,692.89 642.3,693.13 643.5,693.39 644.7,693.67 645.9,693.97 647.1,694.28 648.3,694.59 649.5,694.9 650.7,695.22 651.9,695.53 653.1,695.82 654.3,696.11 655.5,696.38 656.7,696.63 657.9,696.89 659.1,697.14 660.3,697.39 661.5,697.64 662.7,697.89 663.9,698.13 665.1,698.38 666.3,698.62 667.5,698.86 668.7,699.1 669.9,699.33 671.1,699.57 672.3,699.8 673.5,700.03 674.7,700.26 675.9,700.48 676,700.5 L676,702.5 Z" fill="#7b5453" stroke="#000" stroke-width="1.1" stroke-linejoin="round"/>
<line x1="612.3" y1="702.5" x2="612.3" y2="691.8" stroke="#000" stroke-width="1"/>
<path d="M534.3,713.43 L534.3,713.23 535.5,713.23 536.7,713.23 537.9,713.22 539.1,713.22 540.3,713.21 541.5,713.2 542.7,713.18 543.9,713.17 545.1,713.16 546.3,713.14 547.5,713.12 548.7,713.1 549.9,713.07 551.1,713.05 552.3,713.02 553.5,712.94 554.7,712.79 555.9,712.58 557.1,712.32 558.3,712.01 559.5,711.65 560.7,711.26 561.9,710.85 563.1,710.41 564.3,709.95 565.5,709.49 566.7,708.96 567.9,708.24 569.1,707.36 570.3,706.37 571.5,705.33 572.7,704.29 573.9,703.29 575.1,702.41 576.3,701.68 577.5,701.16 578.7,700.79 579.9,700.44 581.1,700.1 582.3,699.79 583.5,699.51 584.7,699.27 585.9,699.08 587.1,698.93 588.3,698.85 589.5,698.83 590.7,698.84 591.9,698.86 593.1,698.88 594.3,698.92 595.5,698.96 596.7,699.01 597.9,699.06 599.1,699.12 600.3,699.18 601.5,699.25 602.7,699.31 603.9,699.37 605.1,699.44 606.3,699.5 607.5,699.57 608.7,699.64 609.9,699.73 611.1,699.84 612.3,699.97 613.5,700.17 614.7,700.47 615.9,700.83 617.1,701.25 618.3,701.71 619.5,702.2 620.7,702.69 621.9,703.17 623.1,703.63 624.3,704.05 625.5,704.41 626.7,704.7 627.9,704.96 629.1,705.21 630.3,705.46 631.5,705.69 632.7,705.92 633.9,706.14 635.1,706.35 636.3,706.54 637.5,706.73 638.7,706.91 639.9,707.07 641.1,707.22 642.3,707.36 643.5,707.49 644.7,707.6 645.9,707.7 647.1,707.79 648.3,707.87 649.5,707.94 650.7,708 651.9,708.07 653.1,708.13 654.3,708.19 655.5,708.26 656.7,708.33 657.9,708.42 659.1,708.51 660.3,708.62 661.5,708.74 662.7,708.89 663.9,709.08 665.1,709.29 666.3,709.54 667.5,709.81 668.7,710.1 669.9,710.41 671.1,710.74 672.3,711.09 673.5,711.45 674.7,711.82 675.9,712.2 676,712.23 L676,713.43 Z" fill="#c9696b" stroke="#000" stroke-width="1.1" stroke-linejoin="round"/>
<line x1="609.4" y1="713.43" x2="609.4" y2="699.69" stroke="#000" stroke-width="1"/>
<path d="M534.3,724.36 L534.3,724.16 535.5,724.16 536.7,724.16 537.9,724.15 539.1,724.15 540.3,724.14 541.5,724.14 542.7,724.13 543.9,724.12 545.1,724.11 546.3,724.09 547.5,724.08 548.7,724.07 549.9,724.05 551.1,724.03 552.3,724.01 553.5,723.99 554.7,723.97 555.9,723.95 557.1,723.93 558.3,723.91 559.5,723.88 560.7,723.85 561.9,723.83 563.1,723.8 564.3,723.77 565.5,723.74 566.7,723.71 567.9,723.68 569.1,723.64 570.3,723.61 571.5,723.57 572.7,723.54 573.9,723.49 575.1,723.43 576.3,723.36 577.5,723.27 578.7,723.18 579.9,723.08 581.1,722.96 582.3,722.84 583.5,722.71 584.7,722.56 585.9,722.41 587.1,722.26 588.3,722.09 589.5,721.91 590.7,721.71 591.9,721.46 593.1,721.17 594.3,720.85 595.5,720.49 596.7,720.1 597.9,719.68 599.1,719.24 600.3,718.77 601.5,718.28 602.7,717.77 603.9,717.25 605.1,716.71 606.3,716.08 607.5,715.31 608.7,714.45 609.9,713.54 611.1,712.64 612.3,711.77 613.5,711 614.7,710.36 615.9,709.79 617.1,709.21 618.3,708.63 619.5,708.06 620.7,707.51 621.9,706.99 623.1,706.51 624.3,706.08 625.5,705.71 626.7,705.42 627.9,705.2 629.1,705.08 630.3,705.07 631.5,705.16 632.7,705.33 633.9,705.55 635.1,705.79 636.3,706.14 637.5,706.6 638.7,707.15 639.9,707.77 641.1,708.43 642.3,709.12 643.5,709.81 644.7,710.49 645.9,711.13 647.1,711.7 648.3,712.21 649.5,712.6 650.7,712.93 651.9,713.25 653.1,713.57 654.3,713.88 655.5,714.19 656.7,714.49 657.9,714.79 659.1,715.07 660.3,715.35 661.5,715.61 662.7,715.86 663.9,716.1 665.1,716.32 666.3,716.52 667.5,716.7 668.7,716.87 669.9,717.01 671.1,717.13 672.3,717.23 673.5,717.3 674.7,717.34 675.9,717.36 676,717.36 L676,724.36 Z" fill="#3a6584" stroke="#000" stroke-width="1.1" stroke-linejoin="round"/>
<line x1="634.8" y1="724.36" x2="634.8" y2="705.72" stroke="#000" stroke-width="1"/>
<path d="M534.3,735.29 L534.3,734.19 535.5,733.94 536.7,733.69 537.9,733.45 539.1,733.2 540.3,732.97 541.5,732.73 542.7,732.5 543.9,732.27 545.1,732.04 546.3,731.82 547.5,731.6 548.7,731.38 549.9,731.17 551.1,730.96 552.3,730.75 553.5,730.54 554.7,730.34 555.9,730.14 557.1,729.95 558.3,729.76 559.5,729.57 560.7,729.38 561.9,729.21 563.1,729.05 564.3,728.89 565.5,728.74 566.7,728.59 567.9,728.45 569.1,728.3 570.3,728.15 571.5,728 572.7,727.84 573.9,727.67 575.1,727.5 576.3,727.31 577.5,727.11 578.7,726.89 579.9,726.65 581.1,726.39 582.3,726.11 583.5,725.83 584.7,725.53 585.9,725.22 587.1,724.9 588.3,724.58 589.5,724.26 590.7,723.93 591.9,723.61 593.1,723.29 594.3,722.97 595.5,722.65 596.7,722.28 597.9,721.86 599.1,721.45 600.3,721.09 601.5,720.83 602.7,720.7 603.9,720.69 605.1,720.69 606.3,720.69 607.5,720.69 608.7,720.69 609.9,720.69 611.1,720.69 612.3,720.69 613.5,720.69 614.7,720.69 615.9,720.78 617.1,721.03 618.3,721.42 619.5,721.9 620.7,722.46 621.9,723.07 623.1,723.68 624.3,724.28 625.5,724.83 626.7,725.3 627.9,725.79 629.1,726.3 630.3,726.84 631.5,727.4 632.7,727.96 633.9,728.51 635.1,729.05 636.3,729.57 637.5,730.04 638.7,730.48 639.9,730.86 641.1,731.17 642.3,731.41 643.5,731.56 644.7,731.64 645.9,731.7 647.1,731.75 648.3,731.8 649.5,731.84 650.7,731.87 651.9,731.9 653.1,731.93 654.3,731.96 655.5,731.99 656.7,732.02 657.9,732.05 659.1,732.09 660.3,732.14 661.5,732.19 662.7,732.26 663.9,732.33 665.1,732.41 666.3,732.5 667.5,732.59 668.7,732.69 669.9,732.79 671.1,732.9 672.3,733.02 673.5,733.14 674.7,733.26 675.9,733.38 676,733.39 L676,735.29 Z" fill="#58aca8" stroke="#000" stroke-width="1.1" stroke-linejoin="round"/>
<line x1="604.4" y1="735.29" x2="604.4" y2="720.69" stroke="#000" stroke-width="1"/>
<path d="M534.3,746.22 L534.3,742.12 535.5,741.82 536.7,741.53 537.9,741.27 539.1,741.04 540.3,740.86 541.5,740.75 542.7,740.72 543.9,740.75 545.1,740.81 546.3,740.91 547.5,741.04 548.7,741.2 549.9,741.37 551.1,741.55 552.3,741.75 553.5,741.95 554.7,742.16 555.9,742.35 557.1,742.54 558.3,742.72 559.5,742.87 560.7,743.01 561.9,743.11 563.1,743.18 564.3,743.22 565.5,743.2 566.7,743.11 567.9,742.96 569.1,742.75 570.3,742.48 571.5,742.18 572.7,741.84 573.9,741.47 575.1,741.09 576.3,740.69 577.5,740.3 578.7,739.91 579.9,739.54 581.1,739.19 582.3,738.88 583.5,738.6 584.7,738.33 585.9,738.05 587.1,737.75 588.3,737.45 589.5,737.15 590.7,736.84 591.9,736.54 593.1,736.25 594.3,735.97 595.5,735.7 596.7,735.45 597.9,735.22 599.1,735.02 600.3,734.85 601.5,734.71 602.7,734.6 603.9,734.54 605.1,734.52 606.3,734.52 607.5,734.52 608.7,734.52 609.9,734.52 611.1,734.52 612.3,734.54 613.5,734.59 614.7,734.67 615.9,734.78 617.1,734.9 618.3,735.05 619.5,735.21 620.7,735.38 621.9,735.55 623.1,735.73 624.3,735.91 625.5,736.09 626.7,736.26 627.9,736.45 629.1,736.65 630.3,736.87 631.5,737.11 632.7,737.36 633.9,737.62 635.1,737.88 636.3,738.16 637.5,738.43 638.7,738.71 639.9,738.99 641.1,739.26 642.3,739.53 643.5,739.79 644.7,740.04 645.9,740.28 647.1,740.5 648.3,740.7 649.5,740.89 650.7,741.06 651.9,741.23 653.1,741.4 654.3,741.56 655.5,741.72 656.7,741.88 657.9,742.04 659.1,742.19 660.3,742.34 661.5,742.48 662.7,742.62 663.9,742.76 665.1,742.89 666.3,743.01 667.5,743.13 668.7,743.25 669.9,743.36 671.1,743.46 672.3,743.56 673.5,743.65 674.7,743.74 675.9,743.81 676,743.82 L676,746.22 Z" fill="#4d8a6d" stroke="#000" stroke-width="1.1" stroke-linejoin="round"/>
<line x1="608.6" y1="746.22" x2="608.6" y2="734.52" stroke="#000" stroke-width="1"/>
<path d="M534.3,757.15 L534.3,755.05 535.5,754.78 536.7,754.51 537.9,754.25 539.1,753.99 540.3,753.74 541.5,753.49 542.7,753.24 543.9,753 545.1,752.77 546.3,752.54 547.5,752.31 548.7,752.1 549.9,751.88 551.1,751.68 552.3,751.48 553.5,751.28 554.7,751.1 555.9,750.91 557.1,750.74 558.3,750.57 559.5,750.41 560.7,750.26 561.9,750.11 563.1,749.97 564.3,749.83 565.5,749.69 566.7,749.55 567.9,749.42 569.1,749.29 570.3,749.17 571.5,749.05 572.7,748.93 573.9,748.82 575.1,748.71 576.3,748.61 577.5,748.5 578.7,748.4 579.9,748.31 581.1,748.22 582.3,748.13 583.5,748.04 584.7,747.96 585.9,747.87 587.1,747.78 588.3,747.69 589.5,747.6 590.7,747.52 591.9,747.44 593.1,747.36 594.3,747.3 595.5,747.24 596.7,747.2 597.9,747.17 599.1,747.15 600.3,747.15 601.5,747.17 602.7,747.21 603.9,747.26 605.1,747.33 606.3,747.4 607.5,747.47 608.7,747.54 609.9,747.61 611.1,747.66 612.3,747.71 613.5,747.74 614.7,747.75 615.9,747.75 617.1,747.74 618.3,747.73 619.5,747.72 620.7,747.7 621.9,747.68 623.1,747.66 624.3,747.64 625.5,747.62 626.7,747.59 627.9,747.57 629.1,747.55 630.3,747.53 631.5,747.51 632.7,747.49 633.9,747.47 635.1,747.46 636.3,747.45 637.5,747.45 638.7,747.46 639.9,747.54 641.1,747.68 642.3,747.87 643.5,748.11 644.7,748.4 645.9,748.71 647.1,749.05 648.3,749.41 649.5,749.78 650.7,750.15 651.9,750.52 653.1,750.88 654.3,751.22 655.5,751.53 656.7,751.82 657.9,752.11 659.1,752.41 660.3,752.71 661.5,753 662.7,753.31 663.9,753.61 665.1,753.91 666.3,754.22 667.5,754.53 668.7,754.83 669.9,755.14 671.1,755.46 672.3,755.77 673.5,756.09 674.7,756.4 675.9,756.72 676,756.75 L676,757.15 Z" fill="#ce914e" stroke="#000" stroke-width="1.1" stroke-linejoin="round"/>
<line x1="599.7" y1="757.15" x2="599.7" y2="747.15" stroke="#000" stroke-width="1"/>
<path d="M534.3,768.08 L534.3,767.48 535.5,767.15 536.7,766.82 537.9,766.49 539.1,766.17 540.3,765.85 541.5,765.53 542.7,765.22 543.9,764.91 545.1,764.6 546.3,764.29 547.5,763.99 548.7,763.7 549.9,763.41 551.1,763.12 552.3,762.83 553.5,762.55 554.7,762.27 555.9,761.99 557.1,761.72 558.3,761.45 559.5,761.19 560.7,760.92 561.9,760.64 563.1,760.35 564.3,760.05 565.5,759.74 566.7,759.42 567.9,759.11 569.1,758.81 570.3,758.52 571.5,758.24 572.7,757.97 573.9,757.73 575.1,757.52 576.3,757.34 577.5,757.19 578.7,757.07 579.9,757 581.1,756.98 582.3,756.98 583.5,756.99 584.7,757.01 585.9,757.03 587.1,757.06 588.3,757.09 589.5,757.12 590.7,757.16 591.9,757.21 593.1,757.26 594.3,757.31 595.5,757.36 596.7,757.42 597.9,757.48 599.1,757.55 600.3,757.62 601.5,757.72 602.7,757.86 603.9,758.03 605.1,758.23 606.3,758.45 607.5,758.69 608.7,758.95 609.9,759.22 611.1,759.5 612.3,759.78 613.5,760.07 614.7,760.35 615.9,760.63 617.1,760.9 618.3,761.16 619.5,761.4 620.7,761.62 621.9,761.84 623.1,762.09 624.3,762.35 625.5,762.61 626.7,762.87 627.9,763.12 629.1,763.34 630.3,763.54 631.5,763.7 632.7,763.81 633.9,763.87 635.1,763.87 636.3,763.81 637.5,763.69 638.7,763.52 639.9,763.31 641.1,763.08 642.3,762.82 643.5,762.56 644.7,762.29 645.9,762.03 647.1,761.78 648.3,761.56 649.5,761.37 650.7,761.22 651.9,761.12 653.1,761.08 654.3,761.09 655.5,761.12 656.7,761.17 657.9,761.25 659.1,761.34 660.3,761.46 661.5,761.6 662.7,761.77 663.9,761.95 665.1,762.16 666.3,762.39 667.5,762.64 668.7,762.92 669.9,763.22 671.1,763.54 672.3,763.88 673.5,764.24 674.7,764.63 675.9,765.04 676,765.08 L676,768.08 Z" fill="#924b3b" stroke="#000" stroke-width="1.1" stroke-linejoin="round"/>
<line x1="599.4" y1="768.08" x2="599.4" y2="757.56" stroke="#000" stroke-width="1"/>
</g>
<rect x="527.5" y="683.4" width="154.6" height="86.9" fill="none" stroke="#222" stroke-width="1.1"/>
<line x1="45.2" y1="702.5" x2="49.7" y2="702.5" stroke="#333" stroke-width="1"/>
<text transform="translate(43.1,707.9) scale(0.9401709401709403,1)" font-size="10.41" text-anchor="end">Q</text>
<line x1="45.2" y1="713.43" x2="49.7" y2="713.43" stroke="#333" stroke-width="1"/>
<text transform="translate(43.1,718.83) scale(0.9401709401709403,1)" font-size="10.41" text-anchor="end">O</text>
<line x1="45.2" y1="724.36" x2="49.7" y2="724.36" stroke="#333" stroke-width="1"/>
<text transform="translate(43.1,729.76) scale(0.9401709401709403,1)" font-size="10.41" text-anchor="end">J</text>
<line x1="45.2" y1="735.29" x2="49.7" y2="735.29" stroke="#333" stroke-width="1"/>
<text transform="translate(43.1,740.69) scale(0.9401709401709403,1)" font-size="10.41" text-anchor="end">H</text>
<line x1="45.2" y1="746.22" x2="49.7" y2="746.22" stroke="#333" stroke-width="1"/>
<text transform="translate(43.1,751.62) scale(0.9401709401709403,1)" font-size="10.41" text-anchor="end">E</text>
<line x1="45.2" y1="757.15" x2="49.7" y2="757.15" stroke="#333" stroke-width="1"/>
<text transform="translate(43.1,762.55) scale(0.9401709401709403,1)" font-size="10.41" text-anchor="end">A1a</text>
<line x1="45.2" y1="768.08" x2="49.7" y2="768.08" stroke="#333" stroke-width="1"/>
<text transform="translate(43.1,773.48) scale(0.9401709401709403,1)" font-size="10.41" text-anchor="end">A0</text>
<text transform="translate(21.3,637.2) rotate(-90) scale(1,0.9401709401709403)" font-size="13.45" text-anchor="middle">X-degenerate</text>
<text transform="translate(21.3,727.4) rotate(-90) scale(1,0.9401709401709403)" font-size="13.34" text-anchor="middle">Ampliconic</text>
<line x1="62.4" y1="770.3" x2="62.4" y2="773.8" stroke="#333" stroke-width="1"/>
<text transform="translate(62.4,786.8) scale(0.9401709401709403,1)" font-size="11.35" text-anchor="middle">0</text>
<line x1="94.55" y1="770.3" x2="94.55" y2="773.8" stroke="#333" stroke-width="1"/>
<text transform="translate(94.55,786.8) scale(0.9401709401709403,1)" font-size="11.35" text-anchor="middle">0.25</text>
<line x1="126.7" y1="770.3" x2="126.7" y2="773.8" stroke="#333" stroke-width="1"/>
<text transform="translate(126.7,786.8) scale(0.9401709401709403,1)" font-size="11.35" text-anchor="middle">0.5</text>
<line x1="158.85" y1="770.3" x2="158.85" y2="773.8" stroke="#333" stroke-width="1"/>
<text transform="translate(158.85,786.8) scale(0.9401709401709403,1)" font-size="11.35" text-anchor="middle">0.75</text>
<line x1="191" y1="770.3" x2="191" y2="773.8" stroke="#333" stroke-width="1"/>
<text transform="translate(191,786.8) scale(0.9401709401709403,1)" font-size="11.35" text-anchor="middle">1</text>
<line x1="221.9" y1="770.3" x2="221.9" y2="773.8" stroke="#333" stroke-width="1"/>
<text transform="translate(221.9,786.8) scale(0.9401709401709403,1)" font-size="11.35" text-anchor="middle">0</text>
<line x1="254.05" y1="770.3" x2="254.05" y2="773.8" stroke="#333" stroke-width="1"/>
<text transform="translate(254.05,786.8) scale(0.9401709401709403,1)" font-size="11.35" text-anchor="middle">0.25</text>
<line x1="286.2" y1="770.3" x2="286.2" y2="773.8" stroke="#333" stroke-width="1"/>
<text transform="translate(286.2,786.8) scale(0.9401709401709403,1)" font-size="11.35" text-anchor="middle">0.5</text>
<line x1="318.35" y1="770.3" x2="318.35" y2="773.8" stroke="#333" stroke-width="1"/>
<text transform="translate(318.35,786.8) scale(0.9401709401709403,1)" font-size="11.35" text-anchor="middle">0.75</text>
<line x1="350.5" y1="770.3" x2="350.5" y2="773.8" stroke="#333" stroke-width="1"/>
<text transform="translate(350.5,786.8) scale(0.9401709401709403,1)" font-size="11.35" text-anchor="middle">1</text>
<line x1="381.7" y1="770.3" x2="381.7" y2="773.8" stroke="#333" stroke-width="1"/>
<text transform="translate(381.7,786.8) scale(0.9401709401709403,1)" font-size="11.35" text-anchor="middle">0</text>
<line x1="413.85" y1="770.3" x2="413.85" y2="773.8" stroke="#333" stroke-width="1"/>
<text transform="translate(413.85,786.8) scale(0.9401709401709403,1)" font-size="11.35" text-anchor="middle">0.25</text>
<line x1="446" y1="770.3" x2="446" y2="773.8" stroke="#333" stroke-width="1"/>
<text transform="translate(446,786.8) scale(0.9401709401709403,1)" font-size="11.35" text-anchor="middle">0.5</text>
<line x1="478.15" y1="770.3" x2="478.15" y2="773.8" stroke="#333" stroke-width="1"/>
<text transform="translate(478.15,786.8) scale(0.9401709401709403,1)" font-size="11.35" text-anchor="middle">0.75</text>
<line x1="510.3" y1="770.3" x2="510.3" y2="773.8" stroke="#333" stroke-width="1"/>
<text transform="translate(510.3,786.8) scale(0.9401709401709403,1)" font-size="11.35" text-anchor="middle">1</text>
<line x1="540.6" y1="770.3" x2="540.6" y2="773.8" stroke="#333" stroke-width="1"/>
<text transform="translate(540.6,786.8) scale(0.9401709401709403,1)" font-size="11.35" text-anchor="middle">0</text>
<line x1="572.75" y1="770.3" x2="572.75" y2="773.8" stroke="#333" stroke-width="1"/>
<text transform="translate(572.75,786.8) scale(0.9401709401709403,1)" font-size="11.35" text-anchor="middle">0.25</text>
<line x1="604.9" y1="770.3" x2="604.9" y2="773.8" stroke="#333" stroke-width="1"/>
<text transform="translate(604.9,786.8) scale(0.9401709401709403,1)" font-size="11.35" text-anchor="middle">0.5</text>
<line x1="637.05" y1="770.3" x2="637.05" y2="773.8" stroke="#333" stroke-width="1"/>
<text transform="translate(637.05,786.8) scale(0.9401709401709403,1)" font-size="11.35" text-anchor="middle">0.75</text>
<line x1="669.2" y1="770.3" x2="669.2" y2="773.8" stroke="#333" stroke-width="1"/>
<text transform="translate(669.2,786.8) scale(0.9401709401709403,1)" font-size="11.35" text-anchor="middle">1</text>
<text transform="translate(367.4,800) scale(0.9606837606837608,1)" font-size="13.57" text-anchor="middle">5mC frequency</text>
</g></svg>
</body></html>
